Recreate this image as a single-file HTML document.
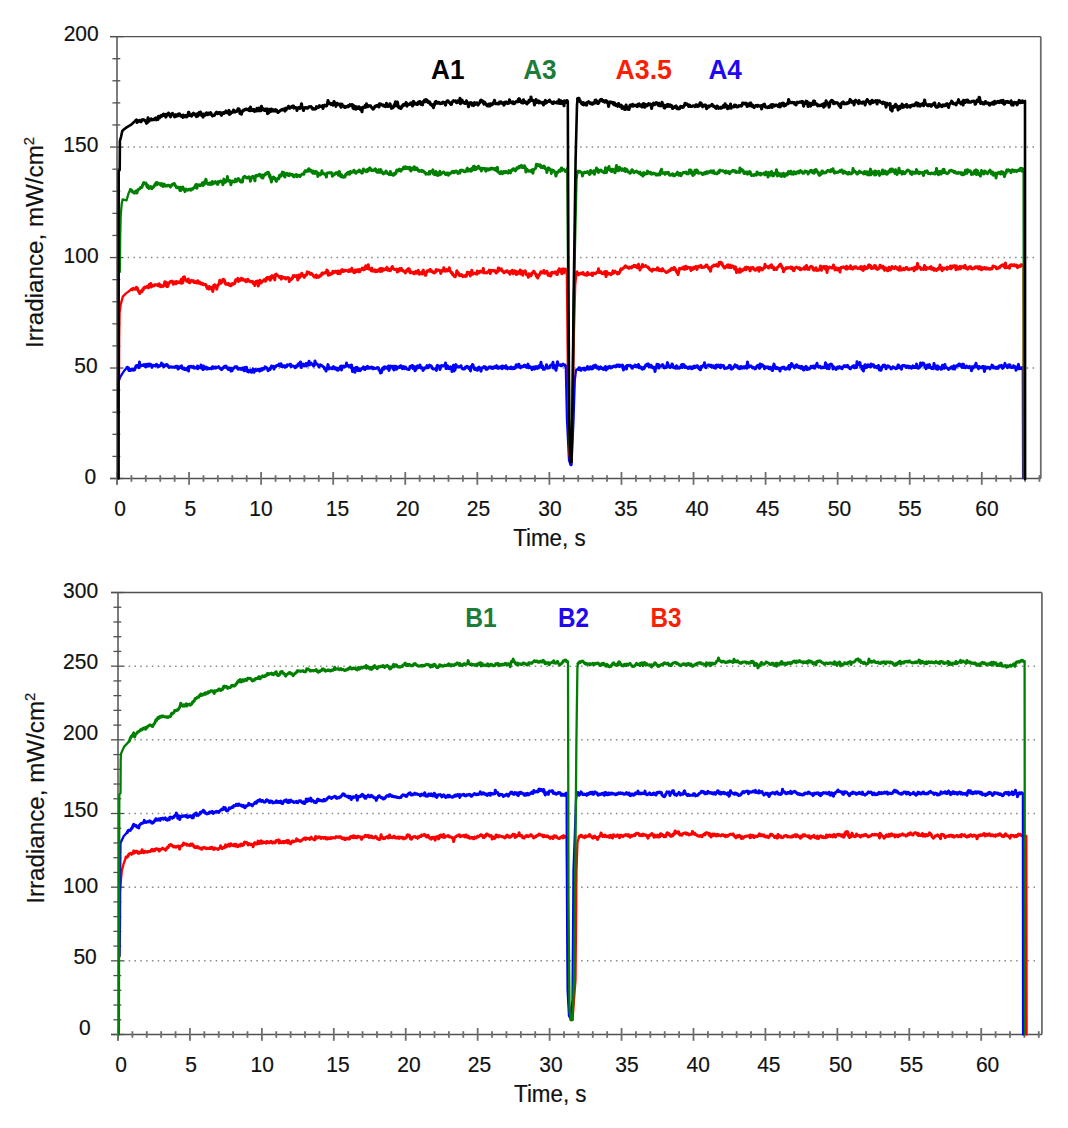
<!DOCTYPE html>
<html><head><meta charset="utf-8"><style>
html,body{margin:0;padding:0;background:#fff;}
svg{display:block;}
text{font-family:"Liberation Sans",sans-serif;}
</style></head><body>
<svg width="1068" height="1128" viewBox="0 0 1068 1128">
<rect width="1068" height="1128" fill="#fff"/>
<line x1="127.7" y1="147.08" x2="1037.0" y2="147.08" stroke="#888" stroke-width="1.5" stroke-dasharray="1.5 4.3"/>
<line x1="127.7" y1="257.55" x2="1037.0" y2="257.55" stroke="#888" stroke-width="1.5" stroke-dasharray="1.5 4.3"/>
<line x1="127.7" y1="368.02" x2="1037.0" y2="368.02" stroke="#888" stroke-width="1.5" stroke-dasharray="1.5 4.3"/>
<line x1="110.00" y1="36.70" x2="1040.80" y2="36.70" stroke="#505050" stroke-width="1.3"/>
<line x1="1040.80" y1="36.70" x2="1040.80" y2="478.50" stroke="#6e6e6e" stroke-width="1.8"/>
<line x1="117.00" y1="36.70" x2="117.00" y2="484.50" stroke="#6e6e6e" stroke-width="1.8"/>
<line x1="110.00" y1="478.50" x2="1040.80" y2="478.50" stroke="#505050" stroke-width="1.3"/>
<line x1="110.00" y1="478.50" x2="123.50" y2="478.50" stroke="#505050" stroke-width="1.3"/>
<line x1="112.40" y1="456.40" x2="120.30" y2="456.40" stroke="#505050" stroke-width="1.3"/>
<line x1="112.40" y1="434.31" x2="120.30" y2="434.31" stroke="#505050" stroke-width="1.3"/>
<line x1="112.40" y1="412.22" x2="120.30" y2="412.22" stroke="#505050" stroke-width="1.3"/>
<line x1="112.40" y1="390.12" x2="120.30" y2="390.12" stroke="#505050" stroke-width="1.3"/>
<line x1="110.00" y1="368.02" x2="123.50" y2="368.02" stroke="#505050" stroke-width="1.3"/>
<line x1="112.40" y1="345.93" x2="120.30" y2="345.93" stroke="#505050" stroke-width="1.3"/>
<line x1="112.40" y1="323.84" x2="120.30" y2="323.84" stroke="#505050" stroke-width="1.3"/>
<line x1="112.40" y1="301.74" x2="120.30" y2="301.74" stroke="#505050" stroke-width="1.3"/>
<line x1="112.40" y1="279.64" x2="120.30" y2="279.64" stroke="#505050" stroke-width="1.3"/>
<line x1="110.00" y1="257.55" x2="123.50" y2="257.55" stroke="#505050" stroke-width="1.3"/>
<line x1="112.40" y1="235.46" x2="120.30" y2="235.46" stroke="#505050" stroke-width="1.3"/>
<line x1="112.40" y1="213.36" x2="120.30" y2="213.36" stroke="#505050" stroke-width="1.3"/>
<line x1="112.40" y1="191.27" x2="120.30" y2="191.27" stroke="#505050" stroke-width="1.3"/>
<line x1="112.40" y1="169.17" x2="120.30" y2="169.17" stroke="#505050" stroke-width="1.3"/>
<line x1="110.00" y1="147.08" x2="123.50" y2="147.08" stroke="#505050" stroke-width="1.3"/>
<line x1="112.40" y1="124.98" x2="120.30" y2="124.98" stroke="#505050" stroke-width="1.3"/>
<line x1="112.40" y1="102.89" x2="120.30" y2="102.89" stroke="#505050" stroke-width="1.3"/>
<line x1="112.40" y1="80.79" x2="120.30" y2="80.79" stroke="#505050" stroke-width="1.3"/>
<line x1="112.40" y1="58.70" x2="120.30" y2="58.70" stroke="#505050" stroke-width="1.3"/>
<line x1="110.00" y1="36.60" x2="123.50" y2="36.60" stroke="#505050" stroke-width="1.3"/>
<line x1="117.00" y1="472.00" x2="117.00" y2="484.80" stroke="#6e6e6e" stroke-width="1.8"/>
<line x1="131.41" y1="475.20" x2="131.41" y2="481.80" stroke="#6e6e6e" stroke-width="1.8"/>
<line x1="145.83" y1="475.20" x2="145.83" y2="481.80" stroke="#6e6e6e" stroke-width="1.8"/>
<line x1="160.24" y1="475.20" x2="160.24" y2="481.80" stroke="#6e6e6e" stroke-width="1.8"/>
<line x1="174.65" y1="475.20" x2="174.65" y2="481.80" stroke="#6e6e6e" stroke-width="1.8"/>
<line x1="189.06" y1="472.00" x2="189.06" y2="484.80" stroke="#6e6e6e" stroke-width="1.8"/>
<line x1="203.48" y1="475.20" x2="203.48" y2="481.80" stroke="#6e6e6e" stroke-width="1.8"/>
<line x1="217.89" y1="475.20" x2="217.89" y2="481.80" stroke="#6e6e6e" stroke-width="1.8"/>
<line x1="232.30" y1="475.20" x2="232.30" y2="481.80" stroke="#6e6e6e" stroke-width="1.8"/>
<line x1="246.72" y1="475.20" x2="246.72" y2="481.80" stroke="#6e6e6e" stroke-width="1.8"/>
<line x1="261.13" y1="472.00" x2="261.13" y2="484.80" stroke="#6e6e6e" stroke-width="1.8"/>
<line x1="275.54" y1="475.20" x2="275.54" y2="481.80" stroke="#6e6e6e" stroke-width="1.8"/>
<line x1="289.96" y1="475.20" x2="289.96" y2="481.80" stroke="#6e6e6e" stroke-width="1.8"/>
<line x1="304.37" y1="475.20" x2="304.37" y2="481.80" stroke="#6e6e6e" stroke-width="1.8"/>
<line x1="318.78" y1="475.20" x2="318.78" y2="481.80" stroke="#6e6e6e" stroke-width="1.8"/>
<line x1="333.19" y1="472.00" x2="333.19" y2="484.80" stroke="#6e6e6e" stroke-width="1.8"/>
<line x1="347.61" y1="475.20" x2="347.61" y2="481.80" stroke="#6e6e6e" stroke-width="1.8"/>
<line x1="362.02" y1="475.20" x2="362.02" y2="481.80" stroke="#6e6e6e" stroke-width="1.8"/>
<line x1="376.43" y1="475.20" x2="376.43" y2="481.80" stroke="#6e6e6e" stroke-width="1.8"/>
<line x1="390.85" y1="475.20" x2="390.85" y2="481.80" stroke="#6e6e6e" stroke-width="1.8"/>
<line x1="405.26" y1="472.00" x2="405.26" y2="484.80" stroke="#6e6e6e" stroke-width="1.8"/>
<line x1="419.67" y1="475.20" x2="419.67" y2="481.80" stroke="#6e6e6e" stroke-width="1.8"/>
<line x1="434.09" y1="475.20" x2="434.09" y2="481.80" stroke="#6e6e6e" stroke-width="1.8"/>
<line x1="448.50" y1="475.20" x2="448.50" y2="481.80" stroke="#6e6e6e" stroke-width="1.8"/>
<line x1="462.91" y1="475.20" x2="462.91" y2="481.80" stroke="#6e6e6e" stroke-width="1.8"/>
<line x1="477.32" y1="472.00" x2="477.32" y2="484.80" stroke="#6e6e6e" stroke-width="1.8"/>
<line x1="491.74" y1="475.20" x2="491.74" y2="481.80" stroke="#6e6e6e" stroke-width="1.8"/>
<line x1="506.15" y1="475.20" x2="506.15" y2="481.80" stroke="#6e6e6e" stroke-width="1.8"/>
<line x1="520.56" y1="475.20" x2="520.56" y2="481.80" stroke="#6e6e6e" stroke-width="1.8"/>
<line x1="534.98" y1="475.20" x2="534.98" y2="481.80" stroke="#6e6e6e" stroke-width="1.8"/>
<line x1="549.39" y1="472.00" x2="549.39" y2="484.80" stroke="#6e6e6e" stroke-width="1.8"/>
<line x1="563.80" y1="475.20" x2="563.80" y2="481.80" stroke="#6e6e6e" stroke-width="1.8"/>
<line x1="578.22" y1="475.20" x2="578.22" y2="481.80" stroke="#6e6e6e" stroke-width="1.8"/>
<line x1="592.63" y1="475.20" x2="592.63" y2="481.80" stroke="#6e6e6e" stroke-width="1.8"/>
<line x1="607.04" y1="475.20" x2="607.04" y2="481.80" stroke="#6e6e6e" stroke-width="1.8"/>
<line x1="621.45" y1="472.00" x2="621.45" y2="484.80" stroke="#6e6e6e" stroke-width="1.8"/>
<line x1="635.87" y1="475.20" x2="635.87" y2="481.80" stroke="#6e6e6e" stroke-width="1.8"/>
<line x1="650.28" y1="475.20" x2="650.28" y2="481.80" stroke="#6e6e6e" stroke-width="1.8"/>
<line x1="664.69" y1="475.20" x2="664.69" y2="481.80" stroke="#6e6e6e" stroke-width="1.8"/>
<line x1="679.11" y1="475.20" x2="679.11" y2="481.80" stroke="#6e6e6e" stroke-width="1.8"/>
<line x1="693.52" y1="472.00" x2="693.52" y2="484.80" stroke="#6e6e6e" stroke-width="1.8"/>
<line x1="707.93" y1="475.20" x2="707.93" y2="481.80" stroke="#6e6e6e" stroke-width="1.8"/>
<line x1="722.35" y1="475.20" x2="722.35" y2="481.80" stroke="#6e6e6e" stroke-width="1.8"/>
<line x1="736.76" y1="475.20" x2="736.76" y2="481.80" stroke="#6e6e6e" stroke-width="1.8"/>
<line x1="751.17" y1="475.20" x2="751.17" y2="481.80" stroke="#6e6e6e" stroke-width="1.8"/>
<line x1="765.59" y1="472.00" x2="765.59" y2="484.80" stroke="#6e6e6e" stroke-width="1.8"/>
<line x1="780.00" y1="475.20" x2="780.00" y2="481.80" stroke="#6e6e6e" stroke-width="1.8"/>
<line x1="794.41" y1="475.20" x2="794.41" y2="481.80" stroke="#6e6e6e" stroke-width="1.8"/>
<line x1="808.82" y1="475.20" x2="808.82" y2="481.80" stroke="#6e6e6e" stroke-width="1.8"/>
<line x1="823.24" y1="475.20" x2="823.24" y2="481.80" stroke="#6e6e6e" stroke-width="1.8"/>
<line x1="837.65" y1="472.00" x2="837.65" y2="484.80" stroke="#6e6e6e" stroke-width="1.8"/>
<line x1="852.06" y1="475.20" x2="852.06" y2="481.80" stroke="#6e6e6e" stroke-width="1.8"/>
<line x1="866.48" y1="475.20" x2="866.48" y2="481.80" stroke="#6e6e6e" stroke-width="1.8"/>
<line x1="880.89" y1="475.20" x2="880.89" y2="481.80" stroke="#6e6e6e" stroke-width="1.8"/>
<line x1="895.30" y1="475.20" x2="895.30" y2="481.80" stroke="#6e6e6e" stroke-width="1.8"/>
<line x1="909.72" y1="472.00" x2="909.72" y2="484.80" stroke="#6e6e6e" stroke-width="1.8"/>
<line x1="924.13" y1="475.20" x2="924.13" y2="481.80" stroke="#6e6e6e" stroke-width="1.8"/>
<line x1="938.54" y1="475.20" x2="938.54" y2="481.80" stroke="#6e6e6e" stroke-width="1.8"/>
<line x1="952.95" y1="475.20" x2="952.95" y2="481.80" stroke="#6e6e6e" stroke-width="1.8"/>
<line x1="967.37" y1="475.20" x2="967.37" y2="481.80" stroke="#6e6e6e" stroke-width="1.8"/>
<line x1="981.78" y1="472.00" x2="981.78" y2="484.80" stroke="#6e6e6e" stroke-width="1.8"/>
<line x1="996.19" y1="475.20" x2="996.19" y2="481.80" stroke="#6e6e6e" stroke-width="1.8"/>
<line x1="1010.61" y1="475.20" x2="1010.61" y2="481.80" stroke="#6e6e6e" stroke-width="1.8"/>
<line x1="1025.02" y1="475.20" x2="1025.02" y2="481.80" stroke="#6e6e6e" stroke-width="1.8"/>
<line x1="1039.43" y1="475.20" x2="1039.43" y2="481.80" stroke="#6e6e6e" stroke-width="1.8"/>
<line x1="128.7" y1="666.17" x2="1037.0" y2="666.17" stroke="#888" stroke-width="1.5" stroke-dasharray="1.5 4.3"/>
<line x1="128.7" y1="739.84" x2="1037.0" y2="739.84" stroke="#888" stroke-width="1.5" stroke-dasharray="1.5 4.3"/>
<line x1="128.7" y1="813.50" x2="1037.0" y2="813.50" stroke="#888" stroke-width="1.5" stroke-dasharray="1.5 4.3"/>
<line x1="128.7" y1="887.17" x2="1037.0" y2="887.17" stroke="#888" stroke-width="1.5" stroke-dasharray="1.5 4.3"/>
<line x1="128.7" y1="960.84" x2="1037.0" y2="960.84" stroke="#888" stroke-width="1.5" stroke-dasharray="1.5 4.3"/>
<line x1="111.00" y1="592.50" x2="1041.90" y2="592.50" stroke="#505050" stroke-width="1.3"/>
<line x1="1041.90" y1="592.50" x2="1041.90" y2="1034.50" stroke="#6e6e6e" stroke-width="1.8"/>
<line x1="118.00" y1="592.50" x2="118.00" y2="1040.50" stroke="#6e6e6e" stroke-width="1.8"/>
<line x1="111.00" y1="1034.50" x2="1041.90" y2="1034.50" stroke="#505050" stroke-width="1.3"/>
<line x1="111.00" y1="1034.50" x2="124.50" y2="1034.50" stroke="#505050" stroke-width="1.3"/>
<line x1="113.40" y1="1019.77" x2="121.30" y2="1019.77" stroke="#505050" stroke-width="1.3"/>
<line x1="113.40" y1="1005.03" x2="121.30" y2="1005.03" stroke="#505050" stroke-width="1.3"/>
<line x1="113.40" y1="990.30" x2="121.30" y2="990.30" stroke="#505050" stroke-width="1.3"/>
<line x1="113.40" y1="975.57" x2="121.30" y2="975.57" stroke="#505050" stroke-width="1.3"/>
<line x1="111.00" y1="960.84" x2="124.50" y2="960.84" stroke="#505050" stroke-width="1.3"/>
<line x1="113.40" y1="946.10" x2="121.30" y2="946.10" stroke="#505050" stroke-width="1.3"/>
<line x1="113.40" y1="931.37" x2="121.30" y2="931.37" stroke="#505050" stroke-width="1.3"/>
<line x1="113.40" y1="916.64" x2="121.30" y2="916.64" stroke="#505050" stroke-width="1.3"/>
<line x1="113.40" y1="901.90" x2="121.30" y2="901.90" stroke="#505050" stroke-width="1.3"/>
<line x1="111.00" y1="887.17" x2="124.50" y2="887.17" stroke="#505050" stroke-width="1.3"/>
<line x1="113.40" y1="872.44" x2="121.30" y2="872.44" stroke="#505050" stroke-width="1.3"/>
<line x1="113.40" y1="857.70" x2="121.30" y2="857.70" stroke="#505050" stroke-width="1.3"/>
<line x1="113.40" y1="842.97" x2="121.30" y2="842.97" stroke="#505050" stroke-width="1.3"/>
<line x1="113.40" y1="828.24" x2="121.30" y2="828.24" stroke="#505050" stroke-width="1.3"/>
<line x1="111.00" y1="813.50" x2="124.50" y2="813.50" stroke="#505050" stroke-width="1.3"/>
<line x1="113.40" y1="798.77" x2="121.30" y2="798.77" stroke="#505050" stroke-width="1.3"/>
<line x1="113.40" y1="784.04" x2="121.30" y2="784.04" stroke="#505050" stroke-width="1.3"/>
<line x1="113.40" y1="769.31" x2="121.30" y2="769.31" stroke="#505050" stroke-width="1.3"/>
<line x1="113.40" y1="754.57" x2="121.30" y2="754.57" stroke="#505050" stroke-width="1.3"/>
<line x1="111.00" y1="739.84" x2="124.50" y2="739.84" stroke="#505050" stroke-width="1.3"/>
<line x1="113.40" y1="725.11" x2="121.30" y2="725.11" stroke="#505050" stroke-width="1.3"/>
<line x1="113.40" y1="710.37" x2="121.30" y2="710.37" stroke="#505050" stroke-width="1.3"/>
<line x1="113.40" y1="695.64" x2="121.30" y2="695.64" stroke="#505050" stroke-width="1.3"/>
<line x1="113.40" y1="680.91" x2="121.30" y2="680.91" stroke="#505050" stroke-width="1.3"/>
<line x1="111.00" y1="666.17" x2="124.50" y2="666.17" stroke="#505050" stroke-width="1.3"/>
<line x1="113.40" y1="651.44" x2="121.30" y2="651.44" stroke="#505050" stroke-width="1.3"/>
<line x1="113.40" y1="636.71" x2="121.30" y2="636.71" stroke="#505050" stroke-width="1.3"/>
<line x1="113.40" y1="621.98" x2="121.30" y2="621.98" stroke="#505050" stroke-width="1.3"/>
<line x1="113.40" y1="607.24" x2="121.30" y2="607.24" stroke="#505050" stroke-width="1.3"/>
<line x1="111.00" y1="592.51" x2="124.50" y2="592.51" stroke="#505050" stroke-width="1.3"/>
<line x1="118.00" y1="1028.00" x2="118.00" y2="1040.80" stroke="#6e6e6e" stroke-width="1.8"/>
<line x1="132.39" y1="1031.20" x2="132.39" y2="1037.80" stroke="#6e6e6e" stroke-width="1.8"/>
<line x1="146.77" y1="1031.20" x2="146.77" y2="1037.80" stroke="#6e6e6e" stroke-width="1.8"/>
<line x1="161.16" y1="1031.20" x2="161.16" y2="1037.80" stroke="#6e6e6e" stroke-width="1.8"/>
<line x1="175.55" y1="1031.20" x2="175.55" y2="1037.80" stroke="#6e6e6e" stroke-width="1.8"/>
<line x1="189.94" y1="1028.00" x2="189.94" y2="1040.80" stroke="#6e6e6e" stroke-width="1.8"/>
<line x1="204.32" y1="1031.20" x2="204.32" y2="1037.80" stroke="#6e6e6e" stroke-width="1.8"/>
<line x1="218.71" y1="1031.20" x2="218.71" y2="1037.80" stroke="#6e6e6e" stroke-width="1.8"/>
<line x1="233.10" y1="1031.20" x2="233.10" y2="1037.80" stroke="#6e6e6e" stroke-width="1.8"/>
<line x1="247.48" y1="1031.20" x2="247.48" y2="1037.80" stroke="#6e6e6e" stroke-width="1.8"/>
<line x1="261.87" y1="1028.00" x2="261.87" y2="1040.80" stroke="#6e6e6e" stroke-width="1.8"/>
<line x1="276.26" y1="1031.20" x2="276.26" y2="1037.80" stroke="#6e6e6e" stroke-width="1.8"/>
<line x1="290.64" y1="1031.20" x2="290.64" y2="1037.80" stroke="#6e6e6e" stroke-width="1.8"/>
<line x1="305.03" y1="1031.20" x2="305.03" y2="1037.80" stroke="#6e6e6e" stroke-width="1.8"/>
<line x1="319.42" y1="1031.20" x2="319.42" y2="1037.80" stroke="#6e6e6e" stroke-width="1.8"/>
<line x1="333.81" y1="1028.00" x2="333.81" y2="1040.80" stroke="#6e6e6e" stroke-width="1.8"/>
<line x1="348.19" y1="1031.20" x2="348.19" y2="1037.80" stroke="#6e6e6e" stroke-width="1.8"/>
<line x1="362.58" y1="1031.20" x2="362.58" y2="1037.80" stroke="#6e6e6e" stroke-width="1.8"/>
<line x1="376.97" y1="1031.20" x2="376.97" y2="1037.80" stroke="#6e6e6e" stroke-width="1.8"/>
<line x1="391.35" y1="1031.20" x2="391.35" y2="1037.80" stroke="#6e6e6e" stroke-width="1.8"/>
<line x1="405.74" y1="1028.00" x2="405.74" y2="1040.80" stroke="#6e6e6e" stroke-width="1.8"/>
<line x1="420.13" y1="1031.20" x2="420.13" y2="1037.80" stroke="#6e6e6e" stroke-width="1.8"/>
<line x1="434.51" y1="1031.20" x2="434.51" y2="1037.80" stroke="#6e6e6e" stroke-width="1.8"/>
<line x1="448.90" y1="1031.20" x2="448.90" y2="1037.80" stroke="#6e6e6e" stroke-width="1.8"/>
<line x1="463.29" y1="1031.20" x2="463.29" y2="1037.80" stroke="#6e6e6e" stroke-width="1.8"/>
<line x1="477.68" y1="1028.00" x2="477.68" y2="1040.80" stroke="#6e6e6e" stroke-width="1.8"/>
<line x1="492.06" y1="1031.20" x2="492.06" y2="1037.80" stroke="#6e6e6e" stroke-width="1.8"/>
<line x1="506.45" y1="1031.20" x2="506.45" y2="1037.80" stroke="#6e6e6e" stroke-width="1.8"/>
<line x1="520.84" y1="1031.20" x2="520.84" y2="1037.80" stroke="#6e6e6e" stroke-width="1.8"/>
<line x1="535.22" y1="1031.20" x2="535.22" y2="1037.80" stroke="#6e6e6e" stroke-width="1.8"/>
<line x1="549.61" y1="1028.00" x2="549.61" y2="1040.80" stroke="#6e6e6e" stroke-width="1.8"/>
<line x1="564.00" y1="1031.20" x2="564.00" y2="1037.80" stroke="#6e6e6e" stroke-width="1.8"/>
<line x1="578.38" y1="1031.20" x2="578.38" y2="1037.80" stroke="#6e6e6e" stroke-width="1.8"/>
<line x1="592.77" y1="1031.20" x2="592.77" y2="1037.80" stroke="#6e6e6e" stroke-width="1.8"/>
<line x1="607.16" y1="1031.20" x2="607.16" y2="1037.80" stroke="#6e6e6e" stroke-width="1.8"/>
<line x1="621.55" y1="1028.00" x2="621.55" y2="1040.80" stroke="#6e6e6e" stroke-width="1.8"/>
<line x1="635.93" y1="1031.20" x2="635.93" y2="1037.80" stroke="#6e6e6e" stroke-width="1.8"/>
<line x1="650.32" y1="1031.20" x2="650.32" y2="1037.80" stroke="#6e6e6e" stroke-width="1.8"/>
<line x1="664.71" y1="1031.20" x2="664.71" y2="1037.80" stroke="#6e6e6e" stroke-width="1.8"/>
<line x1="679.09" y1="1031.20" x2="679.09" y2="1037.80" stroke="#6e6e6e" stroke-width="1.8"/>
<line x1="693.48" y1="1028.00" x2="693.48" y2="1040.80" stroke="#6e6e6e" stroke-width="1.8"/>
<line x1="707.87" y1="1031.20" x2="707.87" y2="1037.80" stroke="#6e6e6e" stroke-width="1.8"/>
<line x1="722.25" y1="1031.20" x2="722.25" y2="1037.80" stroke="#6e6e6e" stroke-width="1.8"/>
<line x1="736.64" y1="1031.20" x2="736.64" y2="1037.80" stroke="#6e6e6e" stroke-width="1.8"/>
<line x1="751.03" y1="1031.20" x2="751.03" y2="1037.80" stroke="#6e6e6e" stroke-width="1.8"/>
<line x1="765.41" y1="1028.00" x2="765.41" y2="1040.80" stroke="#6e6e6e" stroke-width="1.8"/>
<line x1="779.80" y1="1031.20" x2="779.80" y2="1037.80" stroke="#6e6e6e" stroke-width="1.8"/>
<line x1="794.19" y1="1031.20" x2="794.19" y2="1037.80" stroke="#6e6e6e" stroke-width="1.8"/>
<line x1="808.58" y1="1031.20" x2="808.58" y2="1037.80" stroke="#6e6e6e" stroke-width="1.8"/>
<line x1="822.96" y1="1031.20" x2="822.96" y2="1037.80" stroke="#6e6e6e" stroke-width="1.8"/>
<line x1="837.35" y1="1028.00" x2="837.35" y2="1040.80" stroke="#6e6e6e" stroke-width="1.8"/>
<line x1="851.74" y1="1031.20" x2="851.74" y2="1037.80" stroke="#6e6e6e" stroke-width="1.8"/>
<line x1="866.12" y1="1031.20" x2="866.12" y2="1037.80" stroke="#6e6e6e" stroke-width="1.8"/>
<line x1="880.51" y1="1031.20" x2="880.51" y2="1037.80" stroke="#6e6e6e" stroke-width="1.8"/>
<line x1="894.90" y1="1031.20" x2="894.90" y2="1037.80" stroke="#6e6e6e" stroke-width="1.8"/>
<line x1="909.29" y1="1028.00" x2="909.29" y2="1040.80" stroke="#6e6e6e" stroke-width="1.8"/>
<line x1="923.67" y1="1031.20" x2="923.67" y2="1037.80" stroke="#6e6e6e" stroke-width="1.8"/>
<line x1="938.06" y1="1031.20" x2="938.06" y2="1037.80" stroke="#6e6e6e" stroke-width="1.8"/>
<line x1="952.45" y1="1031.20" x2="952.45" y2="1037.80" stroke="#6e6e6e" stroke-width="1.8"/>
<line x1="966.83" y1="1031.20" x2="966.83" y2="1037.80" stroke="#6e6e6e" stroke-width="1.8"/>
<line x1="981.22" y1="1028.00" x2="981.22" y2="1040.80" stroke="#6e6e6e" stroke-width="1.8"/>
<line x1="995.61" y1="1031.20" x2="995.61" y2="1037.80" stroke="#6e6e6e" stroke-width="1.8"/>
<line x1="1009.99" y1="1031.20" x2="1009.99" y2="1037.80" stroke="#6e6e6e" stroke-width="1.8"/>
<line x1="1024.38" y1="1031.20" x2="1024.38" y2="1037.80" stroke="#6e6e6e" stroke-width="1.8"/>
<line x1="1038.77" y1="1031.20" x2="1038.77" y2="1037.80" stroke="#6e6e6e" stroke-width="1.8"/>
<text x="98.7" y="41.4" font-size="21.8" text-anchor="end" font-weight="normal" fill="#111" stroke="#111" stroke-width="0.2" textLength="35.03" lengthAdjust="spacingAndGlyphs">200</text>
<text x="98.4" y="151.9" font-size="21.8" text-anchor="end" font-weight="normal" fill="#111" stroke="#111" stroke-width="0.2" textLength="35.03" lengthAdjust="spacingAndGlyphs">150</text>
<text x="98.6" y="262.9" font-size="21.8" text-anchor="end" font-weight="normal" fill="#111" stroke="#111" stroke-width="0.2" textLength="35.03" lengthAdjust="spacingAndGlyphs">100</text>
<text x="97.7" y="373.4" font-size="21.8" text-anchor="end" font-weight="normal" fill="#111" stroke="#111" stroke-width="0.2" textLength="23.35" lengthAdjust="spacingAndGlyphs">50</text>
<text x="96.3" y="483.9" font-size="21.8" text-anchor="end" font-weight="normal" fill="#111" stroke="#111" stroke-width="0.2" textLength="11.68" lengthAdjust="spacingAndGlyphs">0</text>
<text x="98.1" y="598.1" font-size="21.8" text-anchor="end" font-weight="normal" fill="#111" stroke="#111" stroke-width="0.2" textLength="35.03" lengthAdjust="spacingAndGlyphs">300</text>
<text x="98.1" y="669.1" font-size="21.8" text-anchor="end" font-weight="normal" fill="#111" stroke="#111" stroke-width="0.2" textLength="35.03" lengthAdjust="spacingAndGlyphs">250</text>
<text x="98.1" y="739.8" font-size="21.8" text-anchor="end" font-weight="normal" fill="#111" stroke="#111" stroke-width="0.2" textLength="35.03" lengthAdjust="spacingAndGlyphs">200</text>
<text x="98.1" y="816.5" font-size="21.8" text-anchor="end" font-weight="normal" fill="#111" stroke="#111" stroke-width="0.2" textLength="35.03" lengthAdjust="spacingAndGlyphs">150</text>
<text x="98.1" y="893.3" font-size="21.8" text-anchor="end" font-weight="normal" fill="#111" stroke="#111" stroke-width="0.2" textLength="35.03" lengthAdjust="spacingAndGlyphs">100</text>
<text x="96.8" y="964.3" font-size="21.8" text-anchor="end" font-weight="normal" fill="#111" stroke="#111" stroke-width="0.2" textLength="23.35" lengthAdjust="spacingAndGlyphs">50</text>
<text x="90.6" y="1034.8" font-size="21.8" text-anchor="end" font-weight="normal" fill="#111" stroke="#111" stroke-width="0.2" textLength="11.68" lengthAdjust="spacingAndGlyphs">0</text>
<text x="120.1" y="516.4" font-size="21.8" text-anchor="middle" font-weight="normal" fill="#111" stroke="#111" stroke-width="0.2" textLength="11.68" lengthAdjust="spacingAndGlyphs">0</text>
<text x="190.3" y="516.4" font-size="21.8" text-anchor="middle" font-weight="normal" fill="#111" stroke="#111" stroke-width="0.2" textLength="11.68" lengthAdjust="spacingAndGlyphs">5</text>
<text x="261.0" y="516.4" font-size="21.8" text-anchor="middle" font-weight="normal" fill="#111" stroke="#111" stroke-width="0.2" textLength="23.35" lengthAdjust="spacingAndGlyphs">10</text>
<text x="337.4" y="516.4" font-size="21.8" text-anchor="middle" font-weight="normal" fill="#111" stroke="#111" stroke-width="0.2" textLength="23.35" lengthAdjust="spacingAndGlyphs">15</text>
<text x="407.7" y="516.4" font-size="21.8" text-anchor="middle" font-weight="normal" fill="#111" stroke="#111" stroke-width="0.2" textLength="23.35" lengthAdjust="spacingAndGlyphs">20</text>
<text x="478.4" y="516.4" font-size="21.8" text-anchor="middle" font-weight="normal" fill="#111" stroke="#111" stroke-width="0.2" textLength="23.35" lengthAdjust="spacingAndGlyphs">25</text>
<text x="550.0" y="516.4" font-size="21.8" text-anchor="middle" font-weight="normal" fill="#111" stroke="#111" stroke-width="0.2" textLength="23.35" lengthAdjust="spacingAndGlyphs">30</text>
<text x="626.0" y="516.4" font-size="21.8" text-anchor="middle" font-weight="normal" fill="#111" stroke="#111" stroke-width="0.2" textLength="23.35" lengthAdjust="spacingAndGlyphs">35</text>
<text x="697.1" y="516.4" font-size="21.8" text-anchor="middle" font-weight="normal" fill="#111" stroke="#111" stroke-width="0.2" textLength="23.35" lengthAdjust="spacingAndGlyphs">40</text>
<text x="767.7" y="516.4" font-size="21.8" text-anchor="middle" font-weight="normal" fill="#111" stroke="#111" stroke-width="0.2" textLength="23.35" lengthAdjust="spacingAndGlyphs">45</text>
<text x="839.4" y="516.4" font-size="21.8" text-anchor="middle" font-weight="normal" fill="#111" stroke="#111" stroke-width="0.2" textLength="23.35" lengthAdjust="spacingAndGlyphs">50</text>
<text x="909.9" y="516.4" font-size="21.8" text-anchor="middle" font-weight="normal" fill="#111" stroke="#111" stroke-width="0.2" textLength="23.35" lengthAdjust="spacingAndGlyphs">55</text>
<text x="987.0" y="516.4" font-size="21.8" text-anchor="middle" font-weight="normal" fill="#111" stroke="#111" stroke-width="0.2" textLength="23.35" lengthAdjust="spacingAndGlyphs">60</text>
<text x="121.0" y="1072.4" font-size="21.8" text-anchor="middle" font-weight="normal" fill="#111" stroke="#111" stroke-width="0.2" textLength="11.68" lengthAdjust="spacingAndGlyphs">0</text>
<text x="191.2" y="1072.4" font-size="21.8" text-anchor="middle" font-weight="normal" fill="#111" stroke="#111" stroke-width="0.2" textLength="11.68" lengthAdjust="spacingAndGlyphs">5</text>
<text x="262.2" y="1072.4" font-size="21.8" text-anchor="middle" font-weight="normal" fill="#111" stroke="#111" stroke-width="0.2" textLength="23.35" lengthAdjust="spacingAndGlyphs">10</text>
<text x="338.0" y="1072.4" font-size="21.8" text-anchor="middle" font-weight="normal" fill="#111" stroke="#111" stroke-width="0.2" textLength="23.35" lengthAdjust="spacingAndGlyphs">15</text>
<text x="409.0" y="1072.4" font-size="21.8" text-anchor="middle" font-weight="normal" fill="#111" stroke="#111" stroke-width="0.2" textLength="23.35" lengthAdjust="spacingAndGlyphs">20</text>
<text x="479.5" y="1072.4" font-size="21.8" text-anchor="middle" font-weight="normal" fill="#111" stroke="#111" stroke-width="0.2" textLength="23.35" lengthAdjust="spacingAndGlyphs">25</text>
<text x="551.0" y="1072.4" font-size="21.8" text-anchor="middle" font-weight="normal" fill="#111" stroke="#111" stroke-width="0.2" textLength="23.35" lengthAdjust="spacingAndGlyphs">30</text>
<text x="627.0" y="1072.4" font-size="21.8" text-anchor="middle" font-weight="normal" fill="#111" stroke="#111" stroke-width="0.2" textLength="23.35" lengthAdjust="spacingAndGlyphs">35</text>
<text x="698.2" y="1072.4" font-size="21.8" text-anchor="middle" font-weight="normal" fill="#111" stroke="#111" stroke-width="0.2" textLength="23.35" lengthAdjust="spacingAndGlyphs">40</text>
<text x="768.8" y="1072.4" font-size="21.8" text-anchor="middle" font-weight="normal" fill="#111" stroke="#111" stroke-width="0.2" textLength="23.35" lengthAdjust="spacingAndGlyphs">45</text>
<text x="840.6" y="1072.4" font-size="21.8" text-anchor="middle" font-weight="normal" fill="#111" stroke="#111" stroke-width="0.2" textLength="23.35" lengthAdjust="spacingAndGlyphs">50</text>
<text x="911.4" y="1072.4" font-size="21.8" text-anchor="middle" font-weight="normal" fill="#111" stroke="#111" stroke-width="0.2" textLength="23.35" lengthAdjust="spacingAndGlyphs">55</text>
<text x="987.6" y="1072.4" font-size="21.8" text-anchor="middle" font-weight="normal" fill="#111" stroke="#111" stroke-width="0.2" textLength="23.35" lengthAdjust="spacingAndGlyphs">60</text>
<text x="549.4" y="546.4" font-size="23" text-anchor="middle" font-weight="normal" fill="#111" stroke="#111" stroke-width="0.2" textLength="72.5" lengthAdjust="spacingAndGlyphs">Time, s</text>
<text x="550.3" y="1102.2" font-size="23" text-anchor="middle" font-weight="normal" fill="#111" stroke="#111" stroke-width="0.2" textLength="72.5" lengthAdjust="spacingAndGlyphs">Time, s</text>
<text x="0" y="0" font-size="23" text-anchor="middle" fill="#111" stroke="#111" stroke-width="0.2" transform="translate(43.3,242.5) rotate(-90)" textLength="211" lengthAdjust="spacingAndGlyphs">Irradiance, mW/cm<tspan font-size="14" dy="-9">2</tspan></text>
<text x="0" y="0" font-size="23" text-anchor="middle" fill="#111" stroke="#111" stroke-width="0.2" transform="translate(44.4,798.2) rotate(-90)" textLength="211" lengthAdjust="spacingAndGlyphs">Irradiance, mW/cm<tspan font-size="14" dy="-9">2</tspan></text>
<text x="431.0" y="78.5" font-size="28.3" text-anchor="start" font-weight="bold" fill="#000000" textLength="33.5" lengthAdjust="spacingAndGlyphs">A1</text>
<text x="523.2" y="78.5" font-size="28.3" text-anchor="start" font-weight="bold" fill="#1e7b3a" textLength="33.5" lengthAdjust="spacingAndGlyphs">A3</text>
<text x="615.5" y="78.5" font-size="28.3" text-anchor="start" font-weight="bold" fill="#fa1e05" textLength="56.5" lengthAdjust="spacingAndGlyphs">A3.5</text>
<text x="708.4" y="78.5" font-size="28.3" text-anchor="start" font-weight="bold" fill="#2008f0" textLength="33.5" lengthAdjust="spacingAndGlyphs">A4</text>
<text x="465.3" y="626.7" font-size="28.3" text-anchor="start" font-weight="bold" fill="#1e7b3a" textLength="31.5" lengthAdjust="spacingAndGlyphs">B1</text>
<text x="558.0" y="626.7" font-size="28.3" text-anchor="start" font-weight="bold" fill="#2008f0" textLength="31" lengthAdjust="spacingAndGlyphs">B2</text>
<text x="650.6" y="626.7" font-size="28.3" text-anchor="start" font-weight="bold" fill="#fa1e05" textLength="31" lengthAdjust="spacingAndGlyphs">B3</text>
<polyline fill="none" stroke="#0000ff" stroke-width="2.3" stroke-linejoin="round" stroke-linecap="round" points="118.2,413.5 118.4,381.7 120.6,376.4 124.0,371.0 127.0,367.4"/>
<polyline fill="none" stroke="#0000ff" stroke-width="3.0" stroke-linejoin="round" stroke-linecap="round" points="127.0,367.4 127.5,367.3 128.0,369.0 128.5,367.9 129.0,370.6 129.5,370.3 130.0,370.4 130.5,370.5 131.0,369.6 131.5,369.1 132.0,370.0 132.5,369.8 133.0,369.0 133.5,370.2 134.0,369.6 134.5,369.8 135.0,368.6 135.5,367.6 136.0,365.8 136.5,365.6 137.0,367.0 137.5,365.7 138.0,365.5 138.5,366.2 139.0,367.7 139.5,362.1 140.0,365.8 140.5,365.7 141.0,365.9 141.5,365.8 142.0,365.3 142.5,365.4 143.0,365.5 143.5,364.9 144.0,364.6 144.5,366.0 145.0,366.1 145.5,366.7 146.0,364.5 146.5,364.3 147.0,366.4 147.5,364.8 148.0,364.4 148.5,364.1 149.0,366.0 149.5,364.1 150.0,364.4 150.5,364.5 151.0,364.7 151.5,364.9 152.0,367.3 152.5,365.7 153.0,365.9 153.5,365.6 154.0,365.2 154.5,365.5 155.0,365.5 155.5,366.1 156.0,364.9 156.5,364.4 157.0,365.4 157.5,366.1 158.0,365.4 158.5,366.8 159.0,366.0 159.5,365.8 160.0,365.9 160.5,365.0 161.0,365.1 161.5,363.1 162.0,364.3 162.5,364.0 163.0,366.0 163.5,366.4 164.0,366.7 164.5,365.9 165.0,365.1 165.5,365.5 166.0,365.5 166.5,364.6 167.0,364.6 167.5,365.1 168.0,366.2 168.5,366.8 169.0,367.5 169.5,366.8 170.0,366.8 170.5,367.0 171.0,366.8 171.5,367.1 172.0,367.3 172.5,367.1 173.0,367.2 173.5,367.0 174.0,367.3 174.5,367.0 175.0,367.1 175.5,367.3 176.0,366.3 176.5,366.3 177.0,366.5 177.5,366.3 178.0,369.0 178.5,368.6 179.0,368.3 179.5,367.6 180.0,366.8 180.5,367.4 181.0,366.2 181.5,365.8 182.0,367.7 182.5,368.7 183.0,368.6 183.5,368.3 184.0,368.1 184.5,369.5 185.0,369.5 185.5,368.8 186.0,369.7 186.5,369.7 187.0,368.4 187.5,368.3 188.0,367.3 188.5,371.1 189.0,366.4 189.5,366.8 190.0,367.1 190.5,366.5 191.0,366.2 191.5,367.0 192.0,367.3 192.5,367.0 193.0,367.2 193.5,366.4 194.0,368.2 194.5,367.8 195.0,367.5 195.5,367.8 196.0,367.5 196.5,367.8 197.0,368.5 197.5,366.0 198.0,368.7 198.5,367.5 199.0,367.1 199.5,367.5 200.0,367.6 200.5,367.6 201.0,365.0 201.5,368.2 202.0,368.2 202.5,368.9 203.0,369.5 203.5,366.0 204.0,368.1 204.5,368.8 205.0,368.0 205.5,367.9 206.0,367.0 206.5,367.3 207.0,369.1 207.5,368.3 208.0,368.1 208.5,368.8 209.0,368.7 209.5,368.6 210.0,368.4 210.5,368.4 211.0,368.2 211.5,368.9 212.0,368.4 212.5,366.8 213.0,368.1 213.5,368.3 214.0,367.3 214.5,367.2 215.0,367.4 215.5,367.0 216.0,368.1 216.5,367.2 217.0,367.5 217.5,367.2 218.0,367.2 218.5,366.6 219.0,367.5 219.5,367.6 220.0,368.4 220.5,368.3 221.0,368.9 221.5,369.7 222.0,368.8 222.5,368.7 223.0,367.8 223.5,367.7 224.0,366.7 224.5,367.4 225.0,366.3 225.5,367.0 226.0,366.1 226.5,367.5 227.0,368.1 227.5,367.7 228.0,369.0 228.5,369.6 229.0,369.6 229.5,368.0 230.0,368.1 230.5,369.1 231.0,371.1 231.5,368.2 232.0,370.7 232.5,369.2 233.0,368.8 233.5,368.7 234.0,367.7 234.5,367.7 235.0,366.9 235.5,367.1 236.0,366.7 236.5,366.6 237.0,367.0 237.5,368.6 238.0,368.4 238.5,369.3 239.0,368.9 239.5,368.7 240.0,368.4 240.5,369.1 241.0,368.8 241.5,369.4 242.0,368.2 242.5,368.4 243.0,367.8 243.5,368.9 244.0,370.8 244.5,370.8 245.0,367.6 245.5,370.3 246.0,369.3 246.5,367.3 247.0,370.9 247.5,371.5 248.0,371.4 248.5,371.9 249.0,370.4 249.5,370.8 250.0,370.2 250.5,370.2 251.0,371.9 251.5,372.3 252.0,372.1 252.5,370.4 253.0,368.9 253.5,369.7 254.0,372.3 254.5,370.5 255.0,369.9 255.5,369.6 256.0,370.6 256.5,370.6 257.0,370.1 257.5,369.7 258.0,369.4 258.5,369.3 259.0,369.3 259.5,371.1 260.0,370.8 260.5,368.9 261.0,368.9 261.5,369.2 262.0,370.2 262.5,368.5 263.0,369.4 263.5,369.2 264.0,369.0 264.5,368.0 265.0,366.8 265.5,367.2 266.0,367.3 266.5,367.7 267.0,368.5 267.5,368.9 268.0,370.7 268.5,370.3 269.0,370.0 269.5,368.9 270.0,369.4 270.5,368.6 271.0,367.4 271.5,366.0 272.0,366.3 272.5,366.6 273.0,366.9 273.5,366.4 274.0,369.1 274.5,367.0 275.0,367.3 275.5,367.0 276.0,366.0 276.5,365.5 277.0,365.5 277.5,365.6 278.0,365.6 278.5,365.2 279.0,364.1 279.5,364.9 280.0,365.8 280.5,366.2 281.0,363.8 281.5,366.5 282.0,366.5 282.5,366.9 283.0,365.7 283.5,366.4 284.0,366.2 284.5,365.9 285.0,367.2 285.5,366.9 286.0,366.7 286.5,366.8 287.0,364.9 287.5,364.8 288.0,365.1 288.5,365.0 289.0,365.2 289.5,365.0 290.0,364.3 290.5,364.2 291.0,366.6 291.5,365.5 292.0,365.6 292.5,366.0 293.0,366.0 293.5,366.3 294.0,366.3 294.5,366.5 295.0,367.8 295.5,367.3 296.0,366.9 296.5,365.7 297.0,365.9 297.5,366.2 298.0,364.4 298.5,363.9 299.0,363.4 299.5,364.8 300.0,365.1 300.5,362.0 301.0,367.4 301.5,364.5 302.0,364.5 302.5,364.6 303.0,364.0 303.5,365.8 304.0,365.9 304.5,365.6 305.0,365.8 305.5,365.0 306.0,363.5 306.5,366.0 307.0,364.9 307.5,365.2 308.0,363.2 308.5,363.0 309.0,361.3 309.5,365.0 310.0,364.5 310.5,363.2 311.0,363.0 311.5,364.1 312.0,364.2 312.5,364.3 313.0,364.7 313.5,366.0 314.0,365.7 314.5,364.0 315.0,360.9 315.5,363.7 316.0,363.0 316.5,364.1 317.0,364.2 317.5,364.5 318.0,364.9 318.5,365.8 319.0,366.9 319.5,365.8 320.0,365.0 320.5,364.7 321.0,365.2 321.5,365.4 322.0,365.8 322.5,366.2 323.0,366.6 323.5,366.8 324.0,367.4 324.5,368.8 325.0,368.3 325.5,368.3 326.0,371.1 326.5,368.5 327.0,368.9 327.5,366.9 328.0,364.6 328.5,367.1 329.0,369.0 329.5,368.5 330.0,368.1 330.5,367.9 331.0,368.2 331.5,368.4 332.0,367.8 332.5,368.8 333.0,367.2 333.5,366.6 334.0,368.2 334.5,368.2 335.0,368.8 335.5,367.7 336.0,368.6 336.5,369.2 337.0,370.0 337.5,368.3 338.0,370.3 338.5,369.6 339.0,369.2 339.5,368.1 340.0,368.6 340.5,366.2 341.0,366.1 341.5,369.9 342.0,367.6 342.5,366.2 343.0,366.3 343.5,366.1 344.0,366.4 344.5,367.1 345.0,366.5 345.5,366.2 346.0,366.2 346.5,363.0 347.0,365.5 347.5,365.3 348.0,365.6 348.5,366.3 349.0,365.8 349.5,366.4 350.0,365.6 350.5,366.9 351.0,367.6 351.5,364.9 352.0,367.7 352.5,371.5 353.0,368.3 353.5,368.8 354.0,368.5 354.5,369.2 355.0,372.2 355.5,367.9 356.0,367.4 356.5,367.6 357.0,367.4 357.5,370.1 358.0,370.4 358.5,368.7 359.0,368.7 359.5,370.5 360.0,370.7 360.5,370.2 361.0,369.3 361.5,368.8 362.0,368.5 362.5,368.1 363.0,367.3 363.5,366.9 364.0,369.1 364.5,369.0 365.0,369.5 365.5,367.5 366.0,368.6 366.5,367.4 367.0,366.9 367.5,366.4 368.0,368.3 368.5,368.2 369.0,368.2 369.5,367.4 370.0,367.8 370.5,367.8 371.0,368.0 371.5,367.1 372.0,368.0 372.5,368.4 373.0,368.8 373.5,367.6 374.0,368.2 374.5,368.3 375.0,368.4 375.5,368.6 376.0,368.3 376.5,368.1 377.0,367.8 377.5,367.5 378.0,368.2 378.5,367.9 379.0,370.2 379.5,370.4 380.0,370.8 380.5,373.0 381.0,370.5 381.5,372.6 382.0,369.4 382.5,368.3 383.0,367.8 383.5,369.4 384.0,368.9 384.5,366.9 385.0,367.3 385.5,367.1 386.0,367.9 386.5,367.5 387.0,367.2 387.5,368.3 388.0,367.2 388.5,366.0 389.0,370.4 389.5,368.5 390.0,366.4 390.5,366.1 391.0,366.9 391.5,366.6 392.0,366.7 392.5,366.4 393.0,368.7 393.5,367.0 394.0,370.0 394.5,366.3 395.0,367.0 395.5,366.8 396.0,366.3 396.5,369.2 397.0,368.7 397.5,367.2 398.0,367.1 398.5,367.2 399.0,366.9 399.5,367.4 400.0,366.5 400.5,365.7 401.0,365.7 401.5,367.5 402.0,368.1 402.5,368.7 403.0,366.8 403.5,366.6 404.0,367.8 404.5,368.6 405.0,367.9 405.5,367.1 406.0,368.1 406.5,368.6 407.0,369.1 407.5,368.9 408.0,369.3 408.5,369.1 409.0,369.5 409.5,368.6 410.0,366.5 410.5,367.4 411.0,367.2 411.5,365.9 412.0,365.6 412.5,365.5 413.0,368.6 413.5,368.4 414.0,366.6 414.5,366.9 415.0,370.7 415.5,369.9 416.0,369.5 416.5,366.6 417.0,366.3 417.5,365.9 418.0,367.8 418.5,367.0 419.0,367.4 419.5,366.5 420.0,365.0 420.5,367.0 421.0,368.0 421.5,367.7 422.0,367.6 422.5,368.0 423.0,370.5 423.5,368.2 424.0,369.3 424.5,368.4 425.0,367.8 425.5,367.9 426.0,367.5 426.5,367.1 427.0,365.6 427.5,367.8 428.0,367.8 428.5,367.0 429.0,365.9 429.5,365.2 430.0,365.6 430.5,365.7 431.0,365.9 431.5,366.3 432.0,367.9 432.5,368.5 433.0,369.0 433.5,368.8 434.0,368.9 434.5,369.1 435.0,368.8 435.5,368.9 436.0,368.3 436.5,370.4 437.0,365.9 437.5,365.4 438.0,366.1 438.5,366.9 439.0,367.2 439.5,366.2 440.0,369.4 440.5,366.7 441.0,366.5 441.5,365.5 442.0,365.6 442.5,366.0 443.0,365.7 443.5,365.9 444.0,365.7 444.5,365.7 445.0,365.2 445.5,363.0 446.0,368.5 446.5,368.5 447.0,368.1 447.5,365.7 448.0,368.0 448.5,368.5 449.0,368.4 449.5,368.7 450.0,368.0 450.5,366.9 451.0,368.0 451.5,367.4 452.0,371.5 452.5,368.9 453.0,367.0 453.5,365.2 454.0,370.9 454.5,367.7 455.0,369.9 455.5,366.9 456.0,364.6 456.5,367.1 457.0,366.4 457.5,367.1 458.0,367.0 458.5,367.0 459.0,366.5 459.5,366.8 460.0,366.5 460.5,366.8 461.0,365.7 461.5,367.4 462.0,368.5 462.5,368.6 463.0,369.0 463.5,368.5 464.0,368.8 464.5,369.0 465.0,368.5 465.5,367.0 466.0,366.7 466.5,367.2 467.0,366.4 467.5,367.1 468.0,366.8 468.5,367.8 469.0,368.7 469.5,368.4 470.0,367.5 470.5,370.9 471.0,366.4 471.5,367.4 472.0,367.2 472.5,364.5 473.0,365.0 473.5,367.3 474.0,367.8 474.5,369.4 475.0,368.0 475.5,368.4 476.0,369.6 476.5,369.1 477.0,368.9 477.5,370.3 478.0,368.8 478.5,367.3 479.0,367.1 479.5,368.7 480.0,369.3 480.5,369.7 481.0,371.2 481.5,368.0 482.0,368.3 482.5,367.9 483.0,367.6 483.5,367.3 484.0,366.5 484.5,367.1 485.0,367.7 485.5,366.9 486.0,369.3 486.5,368.8 487.0,369.3 487.5,368.2 488.0,368.4 488.5,368.3 489.0,367.0 489.5,367.2 490.0,367.3 490.5,366.9 491.0,367.3 491.5,368.2 492.0,367.3 492.5,368.2 493.0,368.5 493.5,367.0 494.0,367.2 494.5,366.9 495.0,367.7 495.5,366.5 496.0,366.2 496.5,365.7 497.0,366.6 497.5,368.2 498.0,367.8 498.5,367.0 499.0,368.1 499.5,367.9 500.0,367.2 500.5,367.0 501.0,366.6 501.5,368.4 502.0,368.6 502.5,365.9 503.0,367.7 503.5,367.7 504.0,366.5 504.5,366.5 505.0,366.4 505.5,368.2 506.0,365.8 506.5,367.6 507.0,368.3 507.5,368.8 508.0,367.8 508.5,367.7 509.0,367.7 509.5,367.7 510.0,368.6 510.5,368.6 511.0,367.0 511.5,367.3 512.0,368.1 512.5,368.8 513.0,368.6 513.5,367.6 514.0,368.0 514.5,368.5 515.0,368.1 515.5,367.8 516.0,365.1 516.5,364.7 517.0,365.0 517.5,365.0 518.0,365.7 518.5,366.9 519.0,364.2 519.5,367.1 520.0,367.3 520.5,367.8 521.0,367.1 521.5,366.3 522.0,366.4 522.5,366.6 523.0,366.6 523.5,366.3 524.0,365.3 524.5,365.3 525.0,365.3 525.5,366.7 526.0,366.7 526.5,367.3 527.0,366.5 527.5,365.9 528.0,364.1 528.5,367.8 529.0,367.6 529.5,367.0 530.0,366.6 530.5,367.4 531.0,368.0 531.5,367.6 532.0,369.6 532.5,367.2 533.0,367.2 533.5,367.1 534.0,367.1 534.5,369.0 535.0,368.7 535.5,366.7 536.0,366.9 536.5,366.8 537.0,368.3 537.5,368.4 538.0,367.7 538.5,367.9 539.0,365.7 539.5,365.7 540.0,365.7 540.5,365.5 541.0,362.2 541.5,367.4 542.0,367.6 542.5,365.9 543.0,367.1 543.5,369.3 544.0,368.2 544.5,369.1 545.0,368.8 545.5,368.3 546.0,367.8 546.5,364.7 547.0,367.5 547.5,367.8 548.0,368.1 548.5,367.2 549.0,367.6 549.5,367.7 550.0,366.4 550.5,365.5 551.0,365.3 551.5,364.8 552.0,364.7 552.5,364.7 553.0,362.3 553.5,368.1 554.0,365.5 554.5,365.4 555.0,366.5 555.5,367.3 556.0,370.2 556.5,366.1 557.0,364.8 557.5,361.8 558.0,364.3 558.5,365.1 559.0,365.2 559.5,365.0 560.0,365.1 560.5,364.8 561.0,365.7 561.5,365.8 562.0,365.4 562.5,364.6 563.0,364.1 563.5,364.7 564.0,364.9 564.5,365.0 565.0,364.9 565.5,366.3"/>
<polyline fill="none" stroke="#0000ff" stroke-width="2.3" stroke-linejoin="round" stroke-linecap="round" points="565.5,366.3 565.8,366.0 567.0,420.0 569.0,460.0 570.5,465.0 571.5,465.0 573.5,420.0 574.8,380.0 576.0,370.0 578.0,369.1"/>
<polyline fill="none" stroke="#0000ff" stroke-width="3.0" stroke-linejoin="round" stroke-linecap="round" points="578.0,369.1 578.5,369.4 579.0,367.7 579.5,368.4 580.0,368.1 580.5,370.2 581.0,370.3 581.5,369.1 582.0,368.7 582.5,368.8 583.0,368.2 583.5,368.5 584.0,368.2 584.5,370.1 585.0,370.0 585.5,369.6 586.0,368.2 586.5,368.4 587.0,369.1 587.5,366.4 588.0,368.6 588.5,368.5 589.0,369.2 589.5,368.9 590.0,368.3 590.5,366.8 591.0,367.0 591.5,369.0 592.0,368.5 592.5,368.8 593.0,368.5 593.5,365.8 594.0,366.2 594.5,366.0 595.0,367.2 595.5,365.1 596.0,365.8 596.5,367.0 597.0,368.0 597.5,368.2 598.0,367.0 598.5,367.9 599.0,369.2 599.5,368.2 600.0,367.5 600.5,366.9 601.0,367.6 601.5,368.5 602.0,368.6 602.5,368.2 603.0,369.1 603.5,369.4 604.0,368.8 604.5,367.9 605.0,367.4 605.5,366.6 606.0,370.1 606.5,367.5 607.0,367.6 607.5,368.7 608.0,367.1 608.5,366.8 609.0,367.3 609.5,366.4 610.0,366.9 610.5,368.0 611.0,367.0 611.5,366.9 612.0,367.6 612.5,366.7 613.0,366.5 613.5,366.2 614.0,366.6 614.5,365.9 615.0,365.9 615.5,366.1 616.0,366.6 616.5,366.6 617.0,365.1 617.5,366.3 618.0,366.2 618.5,365.0 619.0,365.2 619.5,366.5 620.0,366.5 620.5,365.4 621.0,365.8 621.5,365.6 622.0,365.9 622.5,365.0 623.0,366.8 623.5,369.9 624.0,367.2 624.5,367.9 625.0,367.7 625.5,367.6 626.0,366.2 626.5,369.1 627.0,365.6 627.5,366.0 628.0,365.3 628.5,365.5 629.0,365.6 629.5,365.7 630.0,365.3 630.5,365.4 631.0,366.3 631.5,367.3 632.0,368.1 632.5,368.2 633.0,366.4 633.5,366.6 634.0,366.5 634.5,366.3 635.0,365.0 635.5,365.1 636.0,365.5 636.5,366.9 637.0,365.8 637.5,366.7 638.0,366.9 638.5,364.5 639.0,367.7 639.5,367.5 640.0,366.7 640.5,366.9 641.0,367.1 641.5,368.4 642.0,369.0 642.5,369.3 643.0,368.8 643.5,367.5 644.0,368.7 644.5,367.7 645.0,366.9 645.5,365.3 646.0,364.9 646.5,365.5 647.0,364.3 647.5,364.0 648.0,365.7 648.5,364.0 649.0,367.0 649.5,365.9 650.0,366.5 650.5,366.3 651.0,365.2 651.5,367.1 652.0,366.7 652.5,366.8 653.0,368.0 653.5,367.3 654.0,367.8 654.5,367.3 655.0,371.6 655.5,368.6 656.0,368.3 656.5,366.9 657.0,364.2 657.5,366.6 658.0,366.6 658.5,364.4 659.0,368.0 659.5,366.2 660.0,366.1 660.5,366.0 661.0,366.1 661.5,365.8 662.0,365.0 662.5,364.6 663.0,365.1 663.5,366.5 664.0,367.7 664.5,368.0 665.0,367.3 665.5,367.1 666.0,367.5 666.5,366.8 667.0,365.0 667.5,362.6 668.0,365.1 668.5,366.2 669.0,365.8 669.5,366.1 670.0,367.5 670.5,367.3 671.0,366.5 671.5,365.5 672.0,364.0 672.5,364.5 673.0,367.1 673.5,367.5 674.0,367.0 674.5,367.2 675.0,367.4 675.5,368.3 676.0,366.7 676.5,365.8 677.0,366.2 677.5,368.2 678.0,367.5 678.5,367.6 679.0,368.0 679.5,368.2 680.0,367.8 680.5,366.8 681.0,365.8 681.5,364.8 682.0,364.5 682.5,367.6 683.0,364.8 683.5,364.9 684.0,364.7 684.5,366.1 685.0,367.4 685.5,367.0 686.0,366.6 686.5,367.5 687.0,367.5 687.5,367.8 688.0,368.5 688.5,367.5 689.0,367.0 689.5,367.9 690.0,366.9 690.5,367.1 691.0,367.1 691.5,368.8 692.0,368.2 692.5,368.5 693.0,368.1 693.5,366.4 694.0,366.7 694.5,366.2 695.0,367.6 695.5,367.2 696.0,366.8 696.5,365.9 697.0,365.8 697.5,365.8 698.0,367.0 698.5,367.9 699.0,368.7 699.5,369.0 700.0,369.6 700.5,369.8 701.0,366.4 701.5,367.4 702.0,366.5 702.5,366.2 703.0,365.6 703.5,365.3 704.0,365.0 704.5,362.8 705.0,366.2 705.5,367.4 706.0,367.7 706.5,366.6 707.0,365.7 707.5,365.7 708.0,365.0 708.5,365.2 709.0,365.0 709.5,365.2 710.0,365.9 710.5,366.4 711.0,365.2 711.5,365.8 712.0,367.4 712.5,365.9 713.0,365.8 713.5,366.0 714.0,367.6 714.5,367.4 715.0,367.2 715.5,368.2 716.0,365.4 716.5,365.0 717.0,366.4 717.5,366.3 718.0,366.8 718.5,365.1 719.0,365.7 719.5,366.2 720.0,366.5 720.5,367.8 721.0,365.1 721.5,365.3 722.0,365.7 722.5,365.9 723.0,365.5 723.5,365.6 724.0,367.6 724.5,368.4 725.0,367.9 725.5,368.2 726.0,368.0 726.5,368.3 727.0,368.0 727.5,367.8 728.0,367.2 728.5,367.6 729.0,366.6 729.5,365.3 730.0,365.6 730.5,365.9 731.0,368.6 731.5,369.2 732.0,368.7 732.5,368.7 733.0,368.3 733.5,367.1 734.0,366.5 734.5,365.8 735.0,364.9 735.5,365.4 736.0,365.9 736.5,367.0 737.0,365.6 737.5,366.2 738.0,366.5 738.5,368.4 739.0,368.5 739.5,368.8 740.0,368.1 740.5,366.6 741.0,366.5 741.5,368.1 742.0,368.2 742.5,367.9 743.0,367.0 743.5,366.8 744.0,367.8 744.5,368.0 745.0,367.1 745.5,366.4 746.0,366.8 746.5,366.0 747.0,368.1 747.5,362.0 748.0,366.7 748.5,365.5 749.0,365.6 749.5,366.7 750.0,366.3 750.5,365.9 751.0,366.0 751.5,366.6 752.0,367.3 752.5,367.9 753.0,367.6 753.5,367.3 754.0,367.8 754.5,367.9 755.0,368.9 755.5,368.7 756.0,368.1 756.5,366.7 757.0,366.6 757.5,365.4 758.0,365.5 758.5,365.5 759.0,367.1 759.5,368.3 760.0,364.1 760.5,366.9 761.0,364.5 761.5,366.3 762.0,364.7 762.5,365.0 763.0,365.4 763.5,366.1 764.0,366.4 764.5,368.7 765.0,367.3 765.5,366.9 766.0,366.8 766.5,367.2 767.0,367.6 767.5,367.1 768.0,366.8 768.5,367.5 769.0,368.7 769.5,368.8 770.0,368.7 770.5,367.2 771.0,369.1 771.5,368.6 772.0,368.4 772.5,370.6 773.0,368.8 773.5,365.9 774.0,364.1 774.5,366.2 775.0,368.2 775.5,368.4 776.0,368.4 776.5,367.3 777.0,368.1 777.5,367.7 778.0,368.8 778.5,368.4 779.0,368.6 779.5,368.3 780.0,371.1 780.5,368.7 781.0,368.5 781.5,367.7 782.0,367.6 782.5,368.1 783.0,367.2 783.5,367.6 784.0,367.1 784.5,368.3 785.0,369.1 785.5,369.3 786.0,368.7 786.5,368.7 787.0,368.1 787.5,367.9 788.0,367.2 788.5,367.0 789.0,365.5 789.5,369.2 790.0,366.9 790.5,366.4 791.0,366.7 791.5,363.6 792.0,365.5 792.5,364.8 793.0,366.0 793.5,366.0 794.0,367.2 794.5,367.9 795.0,367.2 795.5,365.8 796.0,366.7 796.5,364.8 797.0,365.1 797.5,366.9 798.0,366.6 798.5,367.4 799.0,366.4 799.5,367.6 800.0,367.0 800.5,366.6 801.0,368.4 801.5,366.4 802.0,366.7 802.5,366.9 803.0,369.1 803.5,370.0 804.0,370.0 804.5,367.6 805.0,367.7 805.5,366.8 806.0,366.4 806.5,366.8 807.0,369.6 807.5,367.7 808.0,368.3 808.5,368.4 809.0,369.1 809.5,368.9 810.0,368.4 810.5,367.6 811.0,366.4 811.5,366.6 812.0,367.5 812.5,366.2 813.0,366.2 813.5,366.0 814.0,368.0 814.5,368.3 815.0,367.9 815.5,366.1 816.0,365.4 816.5,364.9 817.0,363.3 817.5,366.0 818.0,366.6 818.5,366.9 819.0,366.9 819.5,366.5 820.0,366.3 820.5,367.3 821.0,368.0 821.5,367.3 822.0,367.5 822.5,367.0 823.0,367.8 823.5,367.3 824.0,367.1 824.5,367.5 825.0,366.7 825.5,362.8 826.0,367.4 826.5,367.4 827.0,368.4 827.5,365.0 828.0,366.4 828.5,366.6 829.0,368.7 829.5,365.1 830.0,364.5 830.5,364.4 831.0,364.1 831.5,364.4 832.0,365.5 832.5,365.6 833.0,369.0 833.5,367.0 834.0,366.9 834.5,367.9 835.0,368.0 835.5,368.4 836.0,369.4 836.5,368.6 837.0,368.4 837.5,367.0 838.0,368.3 838.5,367.1 839.0,367.1 839.5,366.6 840.0,367.0 840.5,367.9 841.0,367.7 841.5,367.4 842.0,368.8 842.5,367.9 843.0,367.2 843.5,366.8 844.0,365.7 844.5,365.6 845.0,365.7 845.5,366.7 846.0,366.8 846.5,366.5 847.0,365.9 847.5,365.3 848.0,366.4 848.5,366.7 849.0,367.5 849.5,367.9 850.0,368.8 850.5,368.7 851.0,367.9 851.5,367.3 852.0,367.0 852.5,366.3 853.0,366.0 853.5,365.7 854.0,366.1 854.5,367.9 855.0,365.8 855.5,365.9 856.0,365.4 856.5,367.5 857.0,361.7 857.5,363.8 858.0,364.5 858.5,364.2 859.0,364.6 859.5,364.9 860.0,362.6 860.5,366.1 861.0,367.0 861.5,366.9 862.0,369.2 862.5,366.5 863.0,367.7 863.5,370.9 864.0,366.5 864.5,365.8 865.0,364.7 865.5,367.7 866.0,365.8 866.5,367.5 867.0,365.9 867.5,364.9 868.0,364.8 868.5,365.5 869.0,366.5 869.5,366.2 870.0,366.9 870.5,366.4 871.0,364.0 871.5,366.4 872.0,364.8 872.5,365.2 873.0,364.6 873.5,364.8 874.0,365.6 874.5,367.2 875.0,367.3 875.5,367.1 876.0,366.7 876.5,367.5 877.0,366.7 877.5,368.0 878.0,367.7 878.5,365.5 879.0,366.7 879.5,369.9 880.0,369.1 880.5,370.1 881.0,370.3 881.5,368.8 882.0,366.8 882.5,366.4 883.0,365.4 883.5,366.5 884.0,366.2 884.5,365.1 885.0,365.4 885.5,365.8 886.0,368.8 886.5,366.6 887.0,367.2 887.5,367.1 888.0,365.8 888.5,366.1 889.0,366.7 889.5,366.7 890.0,367.1 890.5,367.6 891.0,368.9 891.5,368.6 892.0,367.8 892.5,367.5 893.0,366.8 893.5,367.0 894.0,367.7 894.5,367.5 895.0,367.9 895.5,368.6 896.0,368.1 896.5,368.5 897.0,367.5 897.5,367.1 898.0,365.1 898.5,365.1 899.0,367.6 899.5,367.8 900.0,367.7 900.5,366.8 901.0,366.6 901.5,369.3 902.0,366.4 902.5,365.6 903.0,365.9 903.5,365.8 904.0,365.4 904.5,365.8 905.0,366.1 905.5,365.9 906.0,367.4 906.5,367.5 907.0,367.1 907.5,366.2 908.0,366.0 908.5,366.3 909.0,367.9 909.5,366.4 910.0,366.4 910.5,367.2 911.0,367.6 911.5,368.1 912.0,367.4 912.5,367.3 913.0,365.8 913.5,366.5 914.0,367.5 914.5,366.9 915.0,367.5 915.5,367.6 916.0,367.5 916.5,364.1 917.0,367.3 917.5,366.5 918.0,368.3 918.5,367.7 919.0,367.9 919.5,367.4 920.0,367.0 920.5,363.1 921.0,365.8 921.5,365.3 922.0,365.0 922.5,365.0 923.0,363.0 923.5,363.3 924.0,363.9 924.5,365.0 925.0,367.0 925.5,367.6 926.0,368.6 926.5,366.0 927.0,366.9 927.5,365.0 928.0,367.3 928.5,367.4 929.0,367.3 929.5,364.6 930.0,367.6 930.5,367.4 931.0,367.3 931.5,368.5 932.0,368.1 932.5,368.5 933.0,367.0 933.5,368.6 934.0,363.5 934.5,366.5 935.0,367.1 935.5,366.3 936.0,366.0 936.5,368.9 937.0,366.3 937.5,365.9 938.0,369.3 938.5,367.0 939.0,366.9 939.5,367.2 940.0,367.8 940.5,368.1 941.0,369.2 941.5,369.2 942.0,368.4 942.5,365.2 943.0,367.2 943.5,367.0 944.0,366.1 944.5,368.3 945.0,364.4 945.5,367.3 946.0,367.6 946.5,367.6 947.0,367.8 947.5,368.3 948.0,368.6 948.5,369.4 949.0,368.5 949.5,368.7 950.0,367.9 950.5,367.9 951.0,367.2 951.5,366.9 952.0,366.8 952.5,368.7 953.0,367.2 953.5,366.7 954.0,365.8 954.5,369.1 955.0,368.3 955.5,367.1 956.0,366.5 956.5,365.9 957.0,365.6 957.5,366.0 958.0,365.7 958.5,364.6 959.0,364.0 959.5,363.9 960.0,364.6 960.5,366.0 961.0,366.2 961.5,366.3 962.0,367.4 962.5,364.2 963.0,367.1 963.5,364.2 964.0,367.6 964.5,366.9 965.0,367.0 965.5,367.8 966.0,367.4 966.5,366.0 967.0,367.1 967.5,367.0 968.0,367.5 968.5,367.7 969.0,366.8 969.5,366.4 970.0,367.5 970.5,367.9 971.0,368.0 971.5,370.7 972.0,366.7 972.5,368.2 973.0,368.3 973.5,366.8 974.0,367.1 974.5,366.9 975.0,365.4 975.5,365.9 976.0,363.3 976.5,365.6 977.0,366.8 977.5,366.5 978.0,368.0 978.5,368.8 979.0,366.5 979.5,366.7 980.0,367.2 980.5,367.3 981.0,367.6 981.5,367.8 982.0,367.7 982.5,366.5 983.0,366.4 983.5,366.4 984.0,368.7 984.5,371.4 985.0,367.0 985.5,366.7 986.0,367.3 986.5,368.2 987.0,368.1 987.5,367.4 988.0,367.2 988.5,367.2 989.0,367.5 989.5,367.5 990.0,368.9 990.5,367.3 991.0,367.4 991.5,367.2 992.0,365.1 992.5,365.8 993.0,365.8 993.5,367.9 994.0,367.5 994.5,367.6 995.0,367.3 995.5,368.3 996.0,368.4 996.5,367.3 997.0,367.2 997.5,367.8 998.0,368.4 998.5,367.5 999.0,366.0 999.5,365.7 1000.0,366.4 1000.5,365.9 1001.0,366.3 1001.5,365.4 1002.0,367.8 1002.5,368.3 1003.0,367.7 1003.5,367.3 1004.0,365.9 1004.5,365.3 1005.0,363.4 1005.5,366.1 1006.0,365.8 1006.5,365.8 1007.0,366.4 1007.5,367.6 1008.0,366.3 1008.5,365.0 1009.0,366.6 1009.5,366.8 1010.0,364.9 1010.5,367.1 1011.0,367.1 1011.5,367.5 1012.0,367.6 1012.5,367.6 1013.0,367.6 1013.5,365.8 1014.0,366.6 1014.5,366.3 1015.0,366.8 1015.5,367.3 1016.0,370.2 1016.5,367.7 1017.0,368.0 1017.5,368.8 1018.0,366.0 1018.5,364.4 1019.0,368.2 1019.5,368.8 1020.0,368.6 1020.5,368.2 1021.0,367.9 1021.5,368.4"/>
<polyline fill="none" stroke="#0000ff" stroke-width="2.3" stroke-linejoin="round" stroke-linecap="round" points="1021.5,368.4 1022.8,367.0 1023.1,478.0"/>
<polyline fill="none" stroke="#ff0000" stroke-width="2.3" stroke-linejoin="round" stroke-linecap="round" points="119.0,380.0 119.2,338.0 119.6,312.6 120.6,305.0 122.8,296.6 126.0,293.4 131.3,289.5"/>
<polyline fill="none" stroke="#ff0000" stroke-width="3.0" stroke-linejoin="round" stroke-linecap="round" points="131.3,289.5 131.8,289.0 132.3,289.8 132.8,288.7 133.3,288.4 133.8,288.9 134.3,288.7 134.8,288.8 135.3,289.3 135.8,289.2 136.3,287.4 136.8,287.6 137.3,288.1 137.8,289.5 138.3,291.0 138.8,291.7 139.3,292.5 139.8,293.4 140.3,292.0 140.8,291.8 141.3,290.9 141.8,291.8 142.3,291.1 142.8,289.4 143.3,289.7 143.8,287.7 144.3,287.7 144.8,287.0 145.3,287.6 145.8,287.0 146.3,287.2 146.8,286.6 147.3,286.2 147.8,287.1 148.3,287.8 148.8,287.5 149.3,284.4 149.8,286.4 150.3,285.9 150.8,283.4 151.3,287.0 151.8,286.5 152.3,286.0 152.8,285.2 153.3,285.3 153.8,285.9 154.3,285.4 154.8,284.7 155.3,284.8 155.8,284.7 156.3,285.0 156.8,285.2 157.3,284.5 157.8,284.8 158.3,285.8 158.8,285.1 159.3,283.8 159.8,286.3 160.3,286.0 160.8,286.7 161.3,285.9 161.8,285.6 162.3,286.0 162.8,286.5 163.3,286.2 163.8,285.5 164.3,284.2 164.8,281.8 165.3,284.3 165.8,285.2 166.3,282.2 166.8,286.5 167.3,286.3 167.8,286.4 168.3,284.4 168.8,283.7 169.3,282.8 169.8,282.0 170.3,281.5 170.8,281.7 171.3,282.1 171.8,281.9 172.3,281.2 172.8,282.5 173.3,284.3 173.8,282.0 174.3,281.9 174.8,282.3 175.3,282.7 175.8,283.8 176.3,281.4 176.8,283.2 177.3,282.5 177.8,282.2 178.3,282.4 178.8,281.8 179.3,282.6 179.8,282.7 180.3,282.9 180.8,282.1 181.3,279.3 181.8,283.3 182.3,281.7 182.8,282.6 183.3,277.2 183.8,279.1 184.3,276.7 184.8,278.9 185.3,279.9 185.8,279.6 186.3,280.1 186.8,281.3 187.3,280.8 187.8,281.2 188.3,278.9 188.8,282.3 189.3,282.5 189.8,282.8 190.3,281.9 190.8,280.7 191.3,280.3 191.8,280.9 192.3,281.1 192.8,281.0 193.3,280.5 193.8,282.4 194.3,282.4 194.8,282.1 195.3,282.0 195.8,281.6 196.3,282.8 196.8,283.0 197.3,282.5 197.8,280.8 198.3,281.5 198.8,283.3 199.3,282.7 199.8,282.2 200.3,283.2 200.8,283.9 201.3,284.1 201.8,283.3 202.3,283.3 202.8,283.4 203.3,284.7 203.8,284.7 204.3,284.4 204.8,284.5 205.3,284.5 205.8,284.7 206.3,285.5 206.8,287.4 207.3,288.5 207.8,288.4 208.3,288.7 208.8,289.0 209.3,286.5 209.8,288.8 210.3,288.6 210.8,288.2 211.3,288.7 211.8,287.3 212.3,289.3 212.8,291.5 213.3,288.8 213.8,285.3 214.3,286.8 214.8,284.7 215.3,287.0 215.8,286.8 216.3,287.0 216.8,289.1 217.3,286.3 217.8,285.1 218.3,285.1 218.8,284.0 219.3,283.2 219.8,280.2 220.3,282.8 220.8,283.3 221.3,282.8 221.8,282.1 222.3,281.4 222.8,279.6 223.3,280.4 223.8,279.4 224.3,280.1 224.8,281.3 225.3,283.6 225.8,284.1 226.3,284.3 226.8,283.9 227.3,284.4 227.8,283.9 228.3,283.4 228.8,283.6 229.3,285.3 229.8,285.0 230.3,285.6 230.8,285.7 231.3,285.6 231.8,283.8 232.3,284.3 232.8,283.5 233.3,284.2 233.8,283.8 234.3,283.3 234.8,283.5 235.3,280.6 235.8,279.8 236.3,280.6 236.8,280.7 237.3,279.9 237.8,278.4 238.3,281.4 238.8,279.6 239.3,280.9 239.8,280.4 240.3,279.1 240.8,279.7 241.3,278.2 241.8,280.1 242.3,280.1 242.8,278.9 243.3,279.4 243.8,279.6 244.3,280.3 244.8,279.9 245.3,279.8 245.8,281.7 246.3,280.4 246.8,280.5 247.3,281.3 247.8,279.3 248.3,280.2 248.8,280.3 249.3,281.1 249.8,281.3 250.3,281.6 250.8,281.8 251.3,281.7 251.8,281.2 252.3,281.4 252.8,281.6 253.3,283.6 253.8,283.5 254.3,282.8 254.8,285.6 255.3,282.1 255.8,281.9 256.3,281.2 256.8,281.3 257.3,281.0 257.8,281.5 258.3,286.0 258.8,283.5 259.3,283.9 259.8,280.2 260.3,282.2 260.8,282.0 261.3,282.8 261.8,281.7 262.3,281.4 262.8,281.1 263.3,280.6 263.8,280.4 264.3,279.5 264.8,280.0 265.3,281.3 265.8,280.6 266.3,278.2 266.8,277.8 267.3,277.4 267.8,278.9 268.3,278.9 268.8,277.5 269.3,278.1 269.8,277.0 270.3,280.2 270.8,278.3 271.3,277.3 271.8,275.8 272.3,275.8 272.8,275.9 273.3,278.0 273.8,276.5 274.3,275.7 274.8,279.9 275.3,274.6 275.8,274.2 276.3,274.1 276.8,275.1 277.3,275.4 277.8,275.5 278.3,276.0 278.8,276.3 279.3,277.2 279.8,277.7 280.3,277.6 280.8,276.6 281.3,279.1 281.8,276.5 282.3,277.1 282.8,277.0 283.3,277.6 283.8,277.5 284.3,278.1 284.8,277.5 285.3,277.5 285.8,279.0 286.3,278.4 286.8,278.2 287.3,277.8 287.8,277.5 288.3,277.8 288.8,278.0 289.3,281.6 289.8,279.7 290.3,279.5 290.8,279.1 291.3,279.5 291.8,278.9 292.3,278.5 292.8,277.1 293.3,275.6 293.8,276.2 294.3,275.6 294.8,276.5 295.3,276.3 295.8,276.0 296.3,275.5 296.8,276.1 297.3,276.9 297.8,280.1 298.3,276.9 298.8,275.1 299.3,278.0 299.8,275.0 300.3,276.7 300.8,275.1 301.3,275.2 301.8,273.2 302.3,275.6 302.8,275.6 303.3,275.4 303.8,276.7 304.3,277.4 304.8,275.6 305.3,275.1 305.8,275.2 306.3,275.3 306.8,273.9 307.3,271.9 307.8,273.0 308.3,272.8 308.8,272.3 309.3,272.9 309.8,273.3 310.3,274.3 310.8,273.4 311.3,273.2 311.8,273.9 312.3,274.5 312.8,274.9 313.3,275.5 313.8,276.5 314.3,277.0 314.8,276.2 315.3,276.2 315.8,277.2 316.3,274.9 316.8,277.4 317.3,277.2 317.8,277.4 318.3,277.3 318.8,277.1 319.3,275.9 319.8,275.6 320.3,276.2 320.8,275.8 321.3,275.2 321.8,273.4 322.3,273.0 322.8,273.0 323.3,273.8 323.8,273.3 324.3,272.8 324.8,272.8 325.3,272.6 325.8,272.9 326.3,272.4 326.8,270.1 327.3,270.4 327.8,271.3 328.3,275.2 328.8,273.4 329.3,273.3 329.8,273.3 330.3,274.6 330.8,273.8 331.3,273.7 331.8,273.8 332.3,273.7 332.8,271.2 333.3,272.3 333.8,272.3 334.3,272.5 334.8,271.5 335.3,271.7 335.8,271.2 336.3,272.2 336.8,271.9 337.3,273.0 337.8,273.6 338.3,271.0 338.8,273.4 339.3,273.3 339.8,273.7 340.3,273.4 340.8,270.7 341.3,270.4 341.8,269.8 342.3,269.6 342.8,271.5 343.3,271.3 343.8,271.3 344.3,271.1 344.8,270.3 345.3,270.9 345.8,270.7 346.3,270.3 346.8,270.5 347.3,270.6 347.8,271.2 348.3,271.6 348.8,271.5 349.3,269.8 349.8,270.2 350.3,271.3 350.8,271.0 351.3,271.0 351.8,268.3 352.3,270.5 352.8,270.8 353.3,271.2 353.8,272.5 354.3,272.7 354.8,272.5 355.3,269.9 355.8,271.7 356.3,271.6 356.8,270.8 357.3,269.7 357.8,269.7 358.3,271.1 358.8,271.7 359.3,269.4 359.8,271.7 360.3,270.0 360.8,269.9 361.3,269.8 361.8,268.8 362.3,268.1 362.8,269.3 363.3,269.2 363.8,269.9 364.3,267.8 364.8,269.3 365.3,267.3 365.8,265.7 366.3,268.3 366.8,268.6 367.3,268.4 367.8,267.7 368.3,264.7 368.8,269.0 369.3,268.4 369.8,269.2 370.3,269.1 370.8,269.8 371.3,270.7 371.8,268.0 372.3,270.7 372.8,271.2 373.3,271.1 373.8,270.5 374.3,270.2 374.8,269.8 375.3,271.7 375.8,271.4 376.3,270.6 376.8,270.4 377.3,271.4 377.8,270.1 378.3,269.9 378.8,270.3 379.3,270.1 379.8,268.8 380.3,271.6 380.8,268.6 381.3,269.1 381.8,271.3 382.3,268.6 382.8,268.7 383.3,270.0 383.8,270.2 384.3,269.8 384.8,269.2 385.3,269.6 385.8,269.6 386.3,269.5 386.8,267.2 387.3,267.7 387.8,270.3 388.3,269.9 388.8,269.3 389.3,269.5 389.8,270.5 390.3,270.7 390.8,269.2 391.3,268.8 391.8,267.3 392.3,266.5 392.8,267.8 393.3,268.7 393.8,269.2 394.3,269.4 394.8,269.5 395.3,269.6 395.8,269.6 396.3,269.8 396.8,269.1 397.3,272.1 397.8,269.5 398.3,270.2 398.8,270.0 399.3,270.9 399.8,268.6 400.3,269.5 400.8,269.0 401.3,268.4 401.8,270.3 402.3,270.6 402.8,270.4 403.3,271.2 403.8,271.1 404.3,271.3 404.8,271.8 405.3,272.9 405.8,272.0 406.3,270.9 406.8,270.2 407.3,271.0 407.8,269.3 408.3,268.7 408.8,268.6 409.3,269.0 409.8,272.2 410.3,272.9 410.8,271.6 411.3,272.0 411.8,271.9 412.3,272.6 412.8,272.9 413.3,273.3 413.8,272.4 414.3,273.8 414.8,273.0 415.3,273.1 415.8,271.3 416.3,271.9 416.8,273.1 417.3,271.6 417.8,271.6 418.3,270.4 418.8,272.8 419.3,274.3 419.8,273.8 420.3,273.7 420.8,273.8 421.3,272.4 421.8,272.2 422.3,274.0 422.8,271.1 423.3,270.1 423.8,272.5 424.3,272.6 424.8,272.5 425.3,275.3 425.8,275.3 426.3,272.2 426.8,272.4 427.3,270.8 427.8,270.8 428.3,271.0 428.8,271.1 429.3,270.1 429.8,271.3 430.3,269.5 430.8,270.6 431.3,270.5 431.8,271.5 432.3,271.6 432.8,272.2 433.3,271.8 433.8,272.6 434.3,272.9 434.8,272.4 435.3,272.5 435.8,270.5 436.3,269.5 436.8,271.1 437.3,270.4 437.8,270.1 438.3,270.0 438.8,270.3 439.3,270.4 439.8,270.4 440.3,271.1 440.8,273.4 441.3,270.7 441.8,271.2 442.3,270.9 442.8,270.2 443.3,270.9 443.8,267.8 444.3,269.7 444.8,269.7 445.3,271.3 445.8,270.8 446.3,270.7 446.8,269.6 447.3,270.9 447.8,270.6 448.3,270.6 448.8,270.4 449.3,267.8 449.8,270.2 450.3,270.9 450.8,272.0 451.3,272.6 451.8,273.1 452.3,272.9 452.8,274.9 453.3,275.1 453.8,275.4 454.3,276.1 454.8,276.8 455.3,276.6 455.8,274.7 456.3,274.6 456.8,270.7 457.3,273.4 457.8,272.4 458.3,272.9 458.8,273.3 459.3,275.4 459.8,275.7 460.3,274.9 460.8,275.3 461.3,274.5 461.8,275.5 462.3,276.0 462.8,276.6 463.3,275.9 463.8,276.1 464.3,275.7 464.8,276.1 465.3,276.4 465.8,275.3 466.3,276.3 466.8,274.9 467.3,272.2 467.8,273.9 468.3,273.4 468.8,272.5 469.3,272.5 469.8,272.6 470.3,275.9 470.8,274.2 471.3,274.0 471.8,270.3 472.3,273.6 472.8,274.1 473.3,273.2 473.8,273.1 474.3,273.3 474.8,273.1 475.3,273.5 475.8,273.6 476.3,274.0 476.8,274.2 477.3,270.9 477.8,271.5 478.3,272.4 478.8,273.0 479.3,272.5 479.8,271.6 480.3,271.1 480.8,271.9 481.3,271.9 481.8,271.4 482.3,272.0 482.8,270.7 483.3,268.5 483.8,272.9 484.3,272.7 484.8,272.7 485.3,272.8 485.8,272.7 486.3,272.7 486.8,272.9 487.3,272.1 487.8,271.8 488.3,272.0 488.8,271.9 489.3,270.1 489.8,271.8 490.3,273.6 490.8,270.6 491.3,271.3 491.8,270.3 492.3,270.6 492.8,270.7 493.3,270.5 493.8,270.9 494.3,270.6 494.8,270.9 495.3,271.0 495.8,272.6 496.3,273.0 496.8,271.2 497.3,270.9 497.8,271.5 498.3,268.0 498.8,268.0 499.3,270.4 499.8,269.9 500.3,270.1 500.8,270.0 501.3,268.9 501.8,270.4 502.3,271.0 502.8,271.0 503.3,271.4 503.8,272.8 504.3,272.1 504.8,272.3 505.3,271.7 505.8,271.2 506.3,270.9 506.8,270.9 507.3,270.8 507.8,272.2 508.3,272.3 508.8,272.3 509.3,272.5 509.8,274.2 510.3,271.4 510.8,272.0 511.3,271.2 511.8,271.1 512.3,270.2 512.8,273.2 513.3,273.7 513.8,271.2 514.3,270.8 514.8,270.9 515.3,271.5 515.8,271.3 516.3,274.4 516.8,272.9 517.3,274.2 517.8,273.5 518.3,271.8 518.8,273.2 519.3,272.5 519.8,273.2 520.3,270.0 520.8,274.1 521.3,274.0 521.8,271.3 522.3,273.3 522.8,275.2 523.3,272.3 523.8,271.6 524.3,271.6 524.8,271.9 525.3,270.8 525.8,273.2 526.3,274.3 526.8,275.0 527.3,274.4 527.8,274.7 528.3,277.3 528.8,273.8 529.3,274.4 529.8,274.2 530.3,275.8 530.8,275.8 531.3,275.2 531.8,273.1 532.3,272.9 532.8,272.5 533.3,271.8 533.8,271.1 534.3,271.8 534.8,273.1 535.3,273.6 535.8,274.0 536.3,276.2 536.8,274.9 537.3,277.4 537.8,278.0 538.3,275.3 538.8,275.7 539.3,274.8 539.8,274.4 540.3,273.1 540.8,271.7 541.3,272.7 541.8,272.7 542.3,272.4 542.8,272.2 543.3,273.0 543.8,270.4 544.3,273.0 544.8,273.3 545.3,272.1 545.8,271.7 546.3,272.1 546.8,271.3 547.3,272.0 547.8,274.8 548.3,275.4 548.8,273.9 549.3,273.9 549.8,275.7 550.3,273.6 550.8,276.0 551.3,272.7 551.8,273.5 552.3,272.2 552.8,272.7 553.3,272.6 553.8,272.7 554.3,273.0 554.8,273.1 555.3,271.8 555.8,273.1 556.3,272.8 556.8,274.5 557.3,274.5 557.8,271.5 558.3,270.3 558.8,270.3 559.3,268.7 559.8,271.1 560.3,271.5 560.8,270.2 561.3,269.8 561.8,273.8 562.3,268.9 562.8,269.2 563.3,268.8 563.8,271.3 564.3,272.8 564.8,269.6 565.3,269.2 565.8,270.2 566.3,269.9"/>
<polyline fill="none" stroke="#ff0000" stroke-width="2.3" stroke-linejoin="round" stroke-linecap="round" points="566.3,269.9 566.8,270.0 568.0,380.0 569.5,455.0 570.5,462.0 571.5,462.0 574.0,330.0 575.2,285.0 576.5,272.1"/>
<polyline fill="none" stroke="#ff0000" stroke-width="3.0" stroke-linejoin="round" stroke-linecap="round" points="576.5,272.1 577.0,271.9 577.5,273.3 578.0,274.4 578.5,274.8 579.0,273.5 579.5,273.6 580.0,273.7 580.5,273.7 581.0,273.0 581.5,273.7 582.0,273.9 582.5,273.3 583.0,272.5 583.5,274.2 584.0,274.3 584.5,274.9 585.0,274.2 585.5,274.2 586.0,274.2 586.5,275.3 587.0,275.1 587.5,272.5 588.0,274.6 588.5,274.1 589.0,274.3 589.5,274.0 590.0,274.4 590.5,273.9 591.0,273.9 591.5,273.8 592.0,273.0 592.5,275.6 593.0,273.9 593.5,273.1 594.0,273.5 594.5,273.6 595.0,273.6 595.5,273.7 596.0,273.1 596.5,272.5 597.0,272.0 597.5,272.4 598.0,272.3 598.5,268.7 599.0,272.4 599.5,272.3 600.0,272.5 600.5,272.1 601.0,271.7 601.5,273.0 602.0,273.7 602.5,273.5 603.0,273.6 603.5,273.7 604.0,273.4 604.5,271.8 605.0,271.6 605.5,273.3 606.0,276.5 606.5,271.4 607.0,272.2 607.5,273.0 608.0,274.2 608.5,273.9 609.0,273.8 609.5,273.4 610.0,273.7 610.5,273.8 611.0,274.7 611.5,273.9 612.0,273.6 612.5,272.5 613.0,270.9 613.5,273.2 614.0,272.8 614.5,271.5 615.0,271.2 615.5,272.2 616.0,272.3 616.5,272.2 617.0,272.6 617.5,274.0 618.0,272.6 618.5,273.1 619.0,273.5 619.5,272.7 620.0,271.7 620.5,269.7 621.0,268.9 621.5,269.8 622.0,269.2 622.5,268.4 623.0,268.4 623.5,268.1 624.0,267.5 624.5,267.3 625.0,266.2 625.5,265.9 626.0,266.6 626.5,266.6 627.0,267.4 627.5,267.5 628.0,267.8 628.5,268.3 629.0,268.3 629.5,267.1 630.0,267.5 630.5,267.5 631.0,267.2 631.5,268.0 632.0,266.6 632.5,267.0 633.0,266.7 633.5,266.2 634.0,265.3 634.5,265.5 635.0,266.8 635.5,266.4 636.0,265.7 636.5,266.8 637.0,267.2 637.5,267.8 638.0,266.6 638.5,264.3 639.0,266.7 639.5,267.8 640.0,270.1 640.5,267.2 641.0,267.3 641.5,267.3 642.0,267.3 642.5,264.4 643.0,266.7 643.5,266.0 644.0,266.3 644.5,266.0 645.0,266.2 645.5,265.5 646.0,265.9 646.5,266.5 647.0,267.0 647.5,266.9 648.0,267.7 648.5,267.4 649.0,268.6 649.5,268.8 650.0,270.0 650.5,270.1 651.0,269.8 651.5,270.1 652.0,271.1 652.5,269.9 653.0,269.1 653.5,269.3 654.0,269.7 654.5,269.6 655.0,269.6 655.5,269.4 656.0,269.9 656.5,270.0 657.0,269.4 657.5,267.8 658.0,268.6 658.5,268.9 659.0,270.5 659.5,270.5 660.0,269.7 660.5,269.8 661.0,270.6 661.5,270.9 662.0,269.3 662.5,268.7 663.0,269.7 663.5,270.6 664.0,270.6 664.5,271.0 665.0,271.5 665.5,271.8 666.0,272.3 666.5,272.5 667.0,272.0 667.5,272.3 668.0,271.8 668.5,270.9 669.0,270.5 669.5,270.9 670.0,269.9 670.5,270.3 671.0,269.0 671.5,268.4 672.0,269.2 672.5,268.8 673.0,269.3 673.5,269.5 674.0,267.5 674.5,267.9 675.0,268.7 675.5,269.3 676.0,270.9 676.5,271.8 677.0,272.6 677.5,272.4 678.0,274.6 678.5,272.6 679.0,269.9 679.5,268.4 680.0,269.2 680.5,268.9 681.0,268.6 681.5,268.1 682.0,268.3 682.5,268.7 683.0,268.6 683.5,267.0 684.0,268.9 684.5,269.3 685.0,266.8 685.5,267.1 686.0,266.2 686.5,268.7 687.0,268.6 687.5,267.8 688.0,267.4 688.5,267.7 689.0,267.6 689.5,267.9 690.0,267.9 690.5,267.6 691.0,270.4 691.5,268.6 692.0,269.3 692.5,269.4 693.0,269.1 693.5,267.3 694.0,268.6 694.5,267.4 695.0,267.5 695.5,266.9 696.0,266.4 696.5,266.9 697.0,269.4 697.5,267.5 698.0,266.6 698.5,266.4 699.0,266.1 699.5,266.7 700.0,266.8 700.5,267.0 701.0,265.4 701.5,267.4 702.0,267.2 702.5,267.5 703.0,267.2 703.5,267.1 704.0,267.2 704.5,266.6 705.0,266.4 705.5,266.7 706.0,265.1 706.5,265.6 707.0,265.2 707.5,266.7 708.0,267.1 708.5,267.8 709.0,269.0 709.5,268.8 710.0,267.7 710.5,271.3 711.0,268.2 711.5,267.2 712.0,266.9 712.5,266.1 713.0,266.1 713.5,265.4 714.0,265.0 714.5,265.3 715.0,265.6 715.5,265.1 716.0,265.1 716.5,264.6 717.0,266.0 717.5,266.2 718.0,266.3 718.5,265.6 719.0,262.4 719.5,262.6 720.0,262.3 720.5,263.8 721.0,262.3 721.5,262.9 722.0,263.2 722.5,265.1 723.0,265.9 723.5,266.6 724.0,267.4 724.5,268.0 725.0,266.7 725.5,267.6 726.0,266.7 726.5,266.4 727.0,265.4 727.5,265.0 728.0,264.8 728.5,267.4 729.0,266.9 729.5,265.5 730.0,265.2 730.5,267.6 731.0,267.5 731.5,266.0 732.0,265.8 732.5,266.0 733.0,266.0 733.5,266.9 734.0,267.9 734.5,268.9 735.0,268.6 735.5,266.9 736.0,269.2 736.5,272.4 737.0,269.5 737.5,269.8 738.0,269.8 738.5,271.4 739.0,272.2 739.5,271.7 740.0,268.8 740.5,271.9 741.0,271.1 741.5,270.6 742.0,270.1 742.5,270.7 743.0,269.8 743.5,269.9 744.0,268.7 744.5,269.3 745.0,269.4 745.5,267.4 746.0,269.8 746.5,267.3 747.0,267.4 747.5,267.6 748.0,267.2 748.5,267.7 749.0,268.8 749.5,268.9 750.0,270.9 750.5,268.1 751.0,267.7 751.5,269.0 752.0,268.4 752.5,268.0 753.0,267.4 753.5,268.7 754.0,268.9 754.5,269.7 755.0,270.2 755.5,270.2 756.0,269.9 756.5,268.8 757.0,268.2 757.5,267.8 758.0,268.1 758.5,267.8 759.0,271.2 759.5,268.9 760.0,267.6 760.5,269.1 761.0,269.3 761.5,268.7 762.0,269.9 762.5,269.6 763.0,268.9 763.5,268.2 764.0,267.6 764.5,267.9 765.0,264.2 765.5,266.9 766.0,266.5 766.5,266.8 767.0,266.9 767.5,266.9 768.0,266.6 768.5,268.0 769.0,267.2 769.5,267.1 770.0,265.9 770.5,265.5 771.0,267.2 771.5,264.7 772.0,267.6 772.5,267.3 773.0,267.4 773.5,267.0 774.0,269.6 774.5,268.8 775.0,269.2 775.5,268.7 776.0,269.2 776.5,269.5 777.0,268.5 777.5,267.4 778.0,266.8 778.5,266.4 779.0,266.3 779.5,265.0 780.0,264.5 780.5,264.1 781.0,264.8 781.5,265.8 782.0,267.8 782.5,267.6 783.0,268.3 783.5,271.8 784.0,270.0 784.5,270.0 785.0,269.3 785.5,268.3 786.0,267.9 786.5,267.6 787.0,268.3 787.5,267.7 788.0,268.0 788.5,267.8 789.0,267.6 789.5,267.8 790.0,267.7 790.5,267.2 791.0,268.4 791.5,267.1 792.0,267.2 792.5,267.9 793.0,269.9 793.5,270.7 794.0,270.6 794.5,269.1 795.0,268.3 795.5,267.4 796.0,267.5 796.5,267.0 797.0,267.6 797.5,267.6 798.0,267.9 798.5,268.4 799.0,267.7 799.5,267.7 800.0,269.7 800.5,269.0 801.0,269.6 801.5,269.0 802.0,268.7 802.5,268.9 803.0,268.8 803.5,268.7 804.0,269.0 804.5,267.1 805.0,269.2 805.5,268.1 806.0,267.9 806.5,265.5 807.0,268.9 807.5,269.1 808.0,269.3 808.5,269.2 809.0,269.4 809.5,267.6 810.0,267.0 810.5,266.8 811.0,266.3 811.5,266.4 812.0,267.2 812.5,267.1 813.0,269.2 813.5,270.2 814.0,270.2 814.5,269.3 815.0,268.7 815.5,269.8 816.0,267.7 816.5,270.4 817.0,269.7 817.5,269.8 818.0,270.1 818.5,270.3 819.0,270.0 819.5,269.5 820.0,267.9 820.5,266.0 821.0,268.8 821.5,270.3 822.0,267.3 822.5,267.6 823.0,267.9 823.5,266.7 824.0,266.5 824.5,266.7 825.0,268.2 825.5,269.1 826.0,269.3 826.5,266.5 827.0,272.4 827.5,269.5 828.0,269.1 828.5,268.0 829.0,267.2 829.5,267.1 830.0,267.7 830.5,267.2 831.0,267.5 831.5,267.8 832.0,268.0 832.5,268.0 833.0,267.9 833.5,265.1 834.0,267.5 834.5,267.3 835.0,269.9 835.5,267.6 836.0,268.0 836.5,268.2 837.0,269.0 837.5,269.9 838.0,269.6 838.5,269.8 839.0,268.4 839.5,268.7 840.0,272.0 840.5,268.3 841.0,267.5 841.5,267.4 842.0,267.2 842.5,267.4 843.0,267.0 843.5,266.7 844.0,267.5 844.5,268.0 845.0,268.2 845.5,267.2 846.0,269.0 846.5,266.3 847.0,266.8 847.5,269.0 848.0,267.9 848.5,267.2 849.0,267.2 849.5,267.9 850.0,268.3 850.5,265.8 851.0,268.6 851.5,268.8 852.0,268.0 852.5,268.3 853.0,269.1 853.5,267.2 854.0,267.6 854.5,266.8 855.0,267.4 855.5,267.9 856.0,266.9 856.5,267.8 857.0,268.0 857.5,267.9 858.0,268.6 858.5,268.1 859.0,267.8 859.5,268.4 860.0,267.6 860.5,266.7 861.0,269.0 861.5,266.6 862.0,267.4 862.5,270.0 863.0,270.4 863.5,269.9 864.0,268.5 864.5,266.2 865.0,267.1 865.5,268.7 866.0,268.0 866.5,267.5 867.0,268.5 867.5,267.6 868.0,267.6 868.5,265.1 869.0,264.9 869.5,267.0 870.0,267.0 870.5,265.6 871.0,268.1 871.5,268.5 872.0,268.5 872.5,267.5 873.0,268.1 873.5,267.1 874.0,266.1 874.5,265.5 875.0,267.9 875.5,265.8 876.0,267.5 876.5,269.0 877.0,267.9 877.5,269.4 878.0,268.9 878.5,268.8 879.0,268.4 879.5,268.1 880.0,265.3 880.5,265.6 881.0,266.5 881.5,266.8 882.0,267.5 882.5,268.2 883.0,266.3 883.5,267.7 884.0,267.4 884.5,270.2 885.0,267.7 885.5,267.9 886.0,268.2 886.5,269.4 887.0,270.3 887.5,270.7 888.0,270.8 888.5,270.0 889.0,267.2 889.5,269.8 890.0,268.8 890.5,269.9 891.0,268.8 891.5,267.5 892.0,266.6 892.5,268.2 893.0,267.9 893.5,268.2 894.0,267.6 894.5,268.5 895.0,267.3 895.5,266.6 896.0,267.8 896.5,268.1 897.0,267.7 897.5,269.2 898.0,268.3 898.5,268.2 899.0,270.2 899.5,268.2 900.0,266.6 900.5,268.4 901.0,270.0 901.5,269.9 902.0,269.9 902.5,269.8 903.0,269.2 903.5,268.4 904.0,269.0 904.5,269.7 905.0,269.0 905.5,269.0 906.0,267.6 906.5,268.1 907.0,267.7 907.5,269.1 908.0,268.9 908.5,269.4 909.0,269.7 909.5,269.3 910.0,268.8 910.5,269.0 911.0,269.2 911.5,268.7 912.0,268.4 912.5,268.2 913.0,268.6 913.5,268.4 914.0,270.8 914.5,267.5 915.0,268.2 915.5,267.1 916.0,267.2 916.5,269.0 917.0,269.0 917.5,263.5 918.0,265.9 918.5,267.2 919.0,266.7 919.5,267.1 920.0,267.2 920.5,268.3 921.0,269.4 921.5,269.0 922.0,268.9 922.5,268.7 923.0,269.0 923.5,269.5 924.0,268.7 924.5,265.4 925.0,267.9 925.5,269.1 926.0,269.5 926.5,268.4 927.0,267.7 927.5,268.1 928.0,268.2 928.5,268.4 929.0,268.5 929.5,267.6 930.0,267.1 930.5,267.0 931.0,266.5 931.5,269.2 932.0,267.6 932.5,268.1 933.0,268.0 933.5,269.8 934.0,270.3 934.5,268.7 935.0,269.0 935.5,269.1 936.0,269.5 936.5,270.5 937.0,269.8 937.5,269.3 938.0,268.3 938.5,268.6 939.0,269.2 939.5,268.0 940.0,265.0 940.5,268.2 941.0,268.6 941.5,269.0 942.0,270.7 942.5,267.7 943.0,269.2 943.5,269.3 944.0,268.6 944.5,268.5 945.0,268.0 945.5,268.3 946.0,268.4 946.5,268.4 947.0,269.5 947.5,267.1 948.0,267.8 948.5,268.2 949.0,268.1 949.5,268.3 950.0,268.2 950.5,265.9 951.0,268.8 951.5,268.1 952.0,267.6 952.5,266.0 953.0,266.0 953.5,266.8 954.0,266.2 954.5,265.6 955.0,266.7 955.5,267.0 956.0,269.8 956.5,266.1 957.0,267.7 957.5,268.9 958.0,269.1 958.5,267.4 959.0,267.2 959.5,267.3 960.0,266.3 960.5,268.9 961.0,267.3 961.5,267.4 962.0,266.5 962.5,267.1 963.0,266.8 963.5,267.6 964.0,267.9 964.5,265.9 965.0,265.4 965.5,266.7 966.0,268.1 966.5,268.7 967.0,268.8 967.5,269.2 968.0,267.7 968.5,267.8 969.0,267.2 969.5,268.0 970.0,267.8 970.5,266.6 971.0,268.3 971.5,268.8 972.0,268.4 972.5,268.9 973.0,268.2 973.5,267.8 974.0,268.1 974.5,268.4 975.0,267.7 975.5,266.7 976.0,266.7 976.5,267.0 977.0,267.7 977.5,266.8 978.0,267.0 978.5,268.9 979.0,267.1 979.5,266.5 980.0,268.6 980.5,268.8 981.0,268.7 981.5,269.8 982.0,267.6 982.5,267.8 983.0,268.7 983.5,268.7 984.0,267.6 984.5,267.5 985.0,268.3 985.5,269.0 986.0,268.8 986.5,267.9 987.0,268.8 987.5,269.0 988.0,268.8 988.5,268.9 989.0,268.4 989.5,269.3 990.0,269.1 990.5,269.1 991.0,268.4 991.5,268.3 992.0,268.9 992.5,267.6 993.0,266.0 993.5,266.5 994.0,266.5 994.5,266.7 995.0,266.8 995.5,266.8 996.0,267.4 996.5,268.7 997.0,268.2 997.5,268.7 998.0,268.3 998.5,268.0 999.0,267.3 999.5,267.7 1000.0,266.8 1000.5,266.3 1001.0,266.0 1001.5,265.3 1002.0,265.9 1002.5,265.8 1003.0,264.7 1003.5,265.4 1004.0,266.1 1004.5,266.9 1005.0,267.8 1005.5,263.0 1006.0,267.7 1006.5,267.5 1007.0,267.6 1007.5,267.4 1008.0,267.3 1008.5,266.6 1009.0,266.3 1009.5,268.3 1010.0,265.2 1010.5,264.8 1011.0,265.0 1011.5,264.7 1012.0,265.3 1012.5,264.9 1013.0,265.7 1013.5,265.4 1014.0,264.7 1014.5,264.9 1015.0,266.0 1015.5,265.4 1016.0,265.6 1016.5,265.2 1017.0,266.6 1017.5,267.6 1018.0,266.4 1018.5,266.2 1019.0,265.8 1019.5,266.4 1020.0,266.3 1020.5,266.2 1021.0,264.7 1021.5,264.8 1022.0,265.6 1022.5,265.5"/>
<polyline fill="none" stroke="#ff0000" stroke-width="2.3" stroke-linejoin="round" stroke-linecap="round" points="1022.5,265.5 1023.6,264.5 1023.8,478.0"/>
<polyline fill="none" stroke="#008000" stroke-width="2.3" stroke-linejoin="round" stroke-linecap="round" points="119.8,272.0 120.2,236.0 120.7,215.0 121.7,204.0 122.7,199.3 126.6,200.3 128.5,193.5 130.4,189.6"/>
<polyline fill="none" stroke="#008000" stroke-width="3.0" stroke-linejoin="round" stroke-linecap="round" points="130.4,189.6 130.9,189.8 131.4,190.0 131.9,191.7 132.4,191.4 132.9,191.8 133.4,192.1 133.9,192.9 134.4,193.1 134.9,191.8 135.4,191.9 135.9,191.2 136.4,192.5 136.9,193.0 137.4,191.1 137.9,189.9 138.4,189.6 138.9,189.2 139.4,189.1 139.9,188.5 140.4,187.4 140.9,187.4 141.4,187.5 141.9,187.4 142.4,185.7 142.9,184.5 143.4,183.4 143.9,182.6 144.4,183.0 144.9,183.6 145.4,183.2 145.9,183.1 146.4,184.2 146.9,186.5 147.4,187.3 147.9,185.5 148.4,187.4 148.9,188.5 149.4,187.1 149.9,187.6 150.4,187.9 150.9,186.6 151.4,188.4 151.9,188.6 152.4,187.6 152.9,187.8 153.4,187.3 153.9,186.0 154.4,185.8 154.9,184.7 155.4,183.6 155.9,183.5 156.4,182.6 156.9,184.7 157.4,182.8 157.9,183.3 158.4,183.4 158.9,184.0 159.4,183.9 159.9,183.7 160.4,184.4 160.9,185.3 161.4,183.6 161.9,184.6 162.4,183.7 162.9,186.5 163.4,186.2 163.9,186.0 164.4,184.3 164.9,185.1 165.4,185.4 165.9,186.1 166.4,185.9 166.9,185.5 167.4,185.2 167.9,185.9 168.4,185.4 168.9,185.3 169.4,185.5 169.9,185.6 170.4,187.0 170.9,186.0 171.4,185.7 171.9,184.9 172.4,184.2 172.9,184.3 173.4,183.8 173.9,183.6 174.4,183.6 174.9,185.5 175.4,185.5 175.9,186.0 176.4,187.6 176.9,187.1 177.4,187.4 177.9,187.8 178.4,187.3 178.9,187.4 179.4,188.5 179.9,190.5 180.4,187.3 180.9,190.6 181.4,187.5 181.9,187.4 182.4,187.9 182.9,187.1 183.4,189.0 183.9,189.7 184.4,189.6 184.9,191.6 185.4,189.9 185.9,189.1 186.4,190.0 186.9,190.0 187.4,190.3 187.9,189.8 188.4,189.9 188.9,189.4 189.4,189.8 189.9,189.4 190.4,189.0 190.9,190.1 191.4,189.3 191.9,189.0 192.4,188.8 192.9,189.1 193.4,188.0 193.9,187.7 194.4,187.7 194.9,186.8 195.4,185.5 195.9,184.7 196.4,184.4 196.9,188.2 197.4,186.2 197.9,185.0 198.4,185.3 198.9,184.9 199.4,185.4 199.9,184.8 200.4,185.6 200.9,185.0 201.4,184.9 201.9,184.7 202.4,182.8 202.9,185.4 203.4,185.1 203.9,184.7 204.4,184.3 204.9,181.2 205.4,181.8 205.9,179.2 206.4,181.4 206.9,182.9 207.4,183.7 207.9,184.1 208.4,183.8 208.9,184.2 209.4,183.0 209.9,183.1 210.4,182.8 210.9,184.5 211.4,184.4 211.9,183.6 212.4,181.5 212.9,183.5 213.4,183.8 213.9,182.7 214.4,182.4 214.9,182.4 215.4,181.6 215.9,182.2 216.4,182.9 216.9,184.0 217.4,183.6 217.9,184.3 218.4,181.6 218.9,181.7 219.4,182.0 219.9,181.7 220.4,181.0 220.9,181.2 221.4,181.6 221.9,182.3 222.4,181.7 222.9,184.7 223.4,181.4 223.9,179.1 224.4,182.7 224.9,182.3 225.4,181.8 225.9,181.9 226.4,180.1 226.9,180.1 227.4,176.5 227.9,180.3 228.4,180.3 228.9,181.1 229.4,180.6 229.9,180.5 230.4,181.3 230.9,184.7 231.4,181.8 231.9,181.0 232.4,181.0 232.9,181.8 233.4,181.4 233.9,181.8 234.4,181.9 234.9,181.6 235.4,179.2 235.9,181.5 236.4,181.2 236.9,181.2 237.4,179.7 237.9,178.7 238.4,178.6 238.9,179.1 239.4,179.8 239.9,180.3 240.4,181.6 240.9,182.0 241.4,181.8 241.9,180.8 242.4,181.9 242.9,178.8 243.4,177.6 243.9,176.7 244.4,176.8 244.9,176.3 245.4,177.1 245.9,177.3 246.4,177.6 246.9,178.1 247.4,178.0 247.9,177.8 248.4,177.1 248.9,176.9 249.4,177.7 249.9,177.5 250.4,181.2 250.9,178.8 251.4,177.2 251.9,176.7 252.4,177.0 252.9,176.4 253.4,177.8 253.9,177.9 254.4,177.7 254.9,180.8 255.4,176.1 255.9,175.6 256.4,175.3 256.9,175.3 257.4,176.0 257.9,175.9 258.4,175.3 258.9,174.9 259.4,174.3 259.9,174.5 260.4,175.1 260.9,176.8 261.4,177.1 261.9,177.7 262.4,175.0 262.9,178.1 263.4,176.2 263.9,175.6 264.4,174.8 264.9,175.1 265.4,173.8 265.9,174.2 266.4,173.5 266.9,172.8 267.4,173.5 267.9,172.3 268.4,172.4 268.9,173.6 269.4,176.5 269.9,175.0 270.4,178.3 270.9,178.9 271.4,182.1 271.9,179.1 272.4,178.5 272.9,177.5 273.4,177.1 273.9,177.4 274.4,178.8 274.9,179.1 275.4,178.6 275.9,180.7 276.4,181.4 276.9,179.6 277.4,178.6 277.9,178.7 278.4,178.7 278.9,178.7 279.4,175.6 279.9,174.9 280.4,174.9 280.9,176.1 281.4,175.6 281.9,174.2 282.4,172.1 282.9,172.5 283.4,173.2 283.9,172.5 284.4,176.4 284.9,177.0 285.4,174.6 285.9,174.1 286.4,173.6 286.9,173.3 287.4,174.0 287.9,175.3 288.4,175.4 288.9,175.6 289.4,173.7 289.9,173.8 290.4,174.2 290.9,174.4 291.4,175.0 291.9,174.4 292.4,174.5 292.9,175.4 293.4,176.5 293.9,176.9 294.4,175.5 294.9,175.1 295.4,174.9 295.9,174.8 296.4,174.5 296.9,176.7 297.4,175.4 297.9,175.2 298.4,175.8 298.9,176.0 299.4,175.3 299.9,176.7 300.4,175.4 300.9,175.5 301.4,174.7 301.9,174.2 302.4,174.1 302.9,173.8 303.4,174.1 303.9,174.3 304.4,172.0 304.9,171.4 305.4,170.7 305.9,171.3 306.4,171.4 306.9,171.1 307.4,170.2 307.9,169.7 308.4,171.2 308.9,168.8 309.4,171.0 309.9,170.8 310.4,170.8 310.9,170.1 311.4,170.9 311.9,172.1 312.4,171.0 312.9,173.2 313.4,171.1 313.9,172.8 314.4,173.1 314.9,173.4 315.4,171.7 315.9,171.5 316.4,171.6 316.9,173.2 317.4,173.5 317.9,176.4 318.4,173.0 318.9,173.8 319.4,173.7 319.9,174.1 320.4,174.8 320.9,173.8 321.4,173.6 321.9,170.8 322.4,173.4 322.9,173.7 323.4,173.4 323.9,173.4 324.4,174.2 324.9,174.5 325.4,174.6 325.9,174.9 326.4,177.1 326.9,173.1 327.4,172.9 327.9,172.9 328.4,172.9 328.9,172.8 329.4,172.9 329.9,172.6 330.4,172.8 330.9,172.7 331.4,172.6 331.9,173.6 332.4,176.3 332.9,174.0 333.4,174.0 333.9,174.9 334.4,174.6 334.9,173.7 335.4,173.0 335.9,173.6 336.4,172.9 336.9,173.4 337.4,172.7 337.9,172.3 338.4,175.3 338.9,175.3 339.4,171.4 339.9,174.2 340.4,174.1 340.9,176.7 341.4,174.7 341.9,175.8 342.4,177.0 342.9,176.6 343.4,177.1 343.9,176.6 344.4,176.9 344.9,177.0 345.4,175.2 345.9,174.2 346.4,174.1 346.9,173.3 347.4,174.1 347.9,172.5 348.4,172.3 348.9,172.3 349.4,174.3 349.9,174.0 350.4,171.5 350.9,172.9 351.4,172.7 351.9,172.3 352.4,172.0 352.9,171.6 353.4,172.0 353.9,170.2 354.4,171.0 354.9,171.4 355.4,173.0 355.9,173.2 356.4,171.8 356.9,171.9 357.4,172.1 357.9,171.6 358.4,170.9 358.9,171.5 359.4,170.1 359.9,171.6 360.4,170.9 360.9,172.2 361.4,172.0 361.9,173.2 362.4,172.8 362.9,172.3 363.4,168.9 363.9,170.4 364.4,170.0 364.9,170.4 365.4,170.3 365.9,170.4 366.4,171.8 366.9,169.9 367.4,169.5 367.9,171.1 368.4,170.7 368.9,168.6 369.4,168.3 369.9,167.8 370.4,169.0 370.9,169.2 371.4,170.4 371.9,170.6 372.4,170.6 372.9,170.3 373.4,170.4 373.9,170.3 374.4,169.5 374.9,169.6 375.4,168.7 375.9,170.7 376.4,171.5 376.9,172.2 377.4,171.1 377.9,171.4 378.4,172.2 378.9,169.7 379.4,172.2 379.9,172.1 380.4,172.2 380.9,169.6 381.4,172.3 381.9,171.6 382.4,172.5 382.9,173.5 383.4,173.9 383.9,173.0 384.4,172.7 384.9,173.1 385.4,172.1 385.9,171.1 386.4,171.3 386.9,173.2 387.4,173.2 387.9,173.7 388.4,173.6 388.9,174.1 389.4,174.7 389.9,173.8 390.4,171.4 390.9,174.6 391.4,173.6 391.9,174.1 392.4,174.8 392.9,174.7 393.4,175.4 393.9,173.7 394.4,173.3 394.9,174.3 395.4,173.7 395.9,173.3 396.4,171.2 396.9,170.1 397.4,170.5 397.9,170.0 398.4,170.8 398.9,169.8 399.4,169.2 399.9,169.8 400.4,169.9 400.9,171.2 401.4,169.6 401.9,169.4 402.4,169.4 402.9,168.7 403.4,167.6 403.9,167.1 404.4,168.6 404.9,167.0 405.4,166.8 405.9,167.5 406.4,168.4 406.9,167.5 407.4,167.3 407.9,167.5 408.4,168.6 408.9,167.9 409.4,168.1 409.9,167.3 410.4,170.2 410.9,171.0 411.4,169.1 411.9,169.4 412.4,168.4 412.9,169.3 413.4,169.2 413.9,167.0 414.4,166.8 414.9,169.7 415.4,168.6 415.9,169.5 416.4,169.1 416.9,168.1 417.4,169.4 417.9,170.1 418.4,170.8 418.9,170.1 419.4,171.3 419.9,170.8 420.4,170.7 420.9,171.2 421.4,171.4 421.9,170.3 422.4,170.8 422.9,171.3 423.4,171.1 423.9,172.0 424.4,172.4 424.9,172.3 425.4,172.8 425.9,174.2 426.4,173.4 426.9,174.1 427.4,174.0 427.9,173.7 428.4,173.4 428.9,174.0 429.4,171.6 429.9,174.0 430.4,171.4 430.9,171.7 431.4,171.8 431.9,171.8 432.4,171.2 432.9,169.9 433.4,173.6 433.9,174.1 434.4,173.3 434.9,172.4 435.4,174.7 435.9,171.6 436.4,174.8 436.9,172.4 437.4,174.5 437.9,175.5 438.4,174.6 438.9,174.4 439.4,173.9 439.9,171.3 440.4,174.7 440.9,173.6 441.4,173.2 441.9,173.3 442.4,172.7 442.9,172.9 443.4,172.0 443.9,172.2 444.4,172.7 444.9,173.3 445.4,174.1 445.9,174.6 446.4,174.4 446.9,173.0 447.4,173.0 447.9,173.1 448.4,175.2 448.9,173.3 449.4,173.6 449.9,173.9 450.4,173.5 450.9,172.9 451.4,172.8 451.9,171.7 452.4,171.7 452.9,171.3 453.4,172.4 453.9,172.8 454.4,172.6 454.9,171.3 455.4,171.7 455.9,171.2 456.4,171.0 456.9,171.6 457.4,172.2 457.9,173.4 458.4,173.1 458.9,172.1 459.4,172.4 459.9,172.9 460.4,170.2 460.9,171.2 461.4,170.2 461.9,170.1 462.4,170.3 462.9,170.4 463.4,171.2 463.9,171.6 464.4,171.3 464.9,171.7 465.4,171.1 465.9,171.4 466.4,171.2 466.9,168.7 467.4,168.2 467.9,171.0 468.4,171.1 468.9,170.0 469.4,169.5 469.9,169.5 470.4,169.9 470.9,171.1 471.4,168.7 471.9,168.4 472.4,170.2 472.9,169.8 473.4,166.4 473.9,168.5 474.4,166.3 474.9,169.7 475.4,168.9 475.9,169.4 476.4,169.2 476.9,167.6 477.4,168.1 477.9,167.9 478.4,166.2 478.9,167.4 479.4,167.7 479.9,168.8 480.4,169.2 480.9,168.1 481.4,170.9 481.9,168.8 482.4,168.3 482.9,169.0 483.4,168.4 483.9,168.6 484.4,168.4 484.9,168.6 485.4,169.9 485.9,171.2 486.4,168.7 486.9,169.1 487.4,168.9 487.9,169.9 488.4,169.4 488.9,169.8 489.4,168.9 489.9,169.4 490.4,168.6 490.9,168.7 491.4,168.0 491.9,168.9 492.4,168.9 492.9,168.4 493.4,168.8 493.9,169.2 494.4,168.7 494.9,169.9 495.4,168.5 495.9,170.1 496.4,170.5 496.9,168.8 497.4,167.3 497.9,172.1 498.4,171.6 498.9,172.2 499.4,172.5 499.9,173.7 500.4,173.5 500.9,172.9 501.4,171.6 501.9,171.8 502.4,173.7 502.9,173.3 503.4,173.0 503.9,171.5 504.4,172.2 504.9,172.7 505.4,172.1 505.9,171.4 506.4,172.0 506.9,171.9 507.4,172.8 507.9,173.0 508.4,172.4 508.9,170.6 509.4,171.6 509.9,172.4 510.4,172.8 510.9,171.7 511.4,170.4 511.9,169.9 512.4,170.2 512.9,169.1 513.4,168.8 513.9,168.9 514.4,170.0 514.9,170.5 515.4,170.9 515.9,170.2 516.4,168.5 516.9,167.8 517.4,167.7 517.9,168.3 518.4,167.6 518.9,166.5 519.4,167.6 519.9,166.3 520.4,166.0 520.9,165.8 521.4,165.4 521.9,167.5 522.4,167.5 522.9,166.7 523.4,167.3 523.9,167.6 524.4,165.8 524.9,166.9 525.4,167.5 525.9,172.1 526.4,170.3 526.9,169.1 527.4,169.7 527.9,170.2 528.4,171.2 528.9,171.2 529.4,170.8 529.9,171.0 530.4,171.1 530.9,171.5 531.4,170.2 531.9,170.3 532.4,169.7 532.9,173.2 533.4,170.1 533.9,169.6 534.4,169.3 534.9,168.8 535.4,168.6 535.9,167.1 536.4,164.3 536.9,164.9 537.4,165.7 537.9,164.6 538.4,164.9 538.9,165.4 539.4,165.8 539.9,166.5 540.4,164.9 540.9,167.3 541.4,167.5 541.9,166.9 542.4,166.6 542.9,167.6 543.4,166.9 543.9,166.1 544.4,166.5 544.9,168.5 545.4,168.6 545.9,168.5 546.4,169.2 546.9,172.5 547.4,170.5 547.9,168.7 548.4,167.8 548.9,168.2 549.4,168.9 549.9,169.0 550.4,170.1 550.9,170.2 551.4,173.4 551.9,170.0 552.4,170.5 552.9,170.3 553.4,170.6 553.9,171.0 554.4,171.6 554.9,172.6 555.4,173.4 555.9,176.1 556.4,174.3 556.9,172.3 557.4,172.5 557.9,172.3 558.4,171.6 558.9,170.8 559.4,170.1 559.9,170.7 560.4,171.2 560.9,169.5 561.4,167.9 561.9,168.0 562.4,170.2 562.9,169.4 563.4,169.8 563.9,169.6 564.4,169.9 564.9,170.3 565.4,171.5 565.9,170.7 566.4,170.9 566.9,169.9"/>
<polyline fill="none" stroke="#008000" stroke-width="2.3" stroke-linejoin="round" stroke-linecap="round" points="566.9,169.9 567.3,168.0 568.3,320.0 569.5,445.0 570.5,462.0 571.5,462.0 573.8,300.0 576.5,180.0 577.5,171.8"/>
<polyline fill="none" stroke="#008000" stroke-width="3.0" stroke-linejoin="round" stroke-linecap="round" points="577.5,171.8 578.0,171.2 578.5,172.3 579.0,172.3 579.5,171.3 580.0,171.5 580.5,172.1 581.0,172.2 581.5,172.5 582.0,172.8 582.5,176.0 583.0,174.0 583.5,173.2 584.0,172.7 584.5,172.2 585.0,172.7 585.5,172.5 586.0,172.4 586.5,172.1 587.0,172.4 587.5,171.6 588.0,172.5 588.5,172.4 589.0,173.7 589.5,174.5 590.0,173.8 590.5,170.5 591.0,170.6 591.5,172.7 592.0,172.7 592.5,172.7 593.0,172.8 593.5,172.1 594.0,170.7 594.5,174.2 595.0,171.1 595.5,171.4 596.0,171.2 596.5,168.1 597.0,171.1 597.5,169.9 598.0,169.6 598.5,172.4 599.0,170.7 599.5,170.5 600.0,171.0 600.5,170.4 601.0,170.0 601.5,171.0 602.0,171.5 602.5,171.8 603.0,171.8 603.5,172.1 604.0,172.7 604.5,172.7 605.0,171.9 605.5,167.8 606.0,169.6 606.5,172.4 607.0,169.2 607.5,168.7 608.0,168.4 608.5,169.1 609.0,166.5 609.5,169.9 610.0,169.6 610.5,170.4 611.0,170.9 611.5,171.4 612.0,169.3 612.5,169.6 613.0,169.3 613.5,171.3 614.0,170.7 614.5,170.1 615.0,172.7 615.5,171.3 616.0,168.1 616.5,165.4 617.0,169.6 617.5,170.6 618.0,170.5 618.5,170.7 619.0,169.3 619.5,167.2 620.0,169.4 620.5,168.6 621.0,168.9 621.5,170.4 622.0,170.0 622.5,168.8 623.0,169.9 623.5,169.9 624.0,170.7 624.5,170.7 625.0,168.5 625.5,171.4 626.0,169.8 626.5,169.3 627.0,169.7 627.5,170.8 628.0,171.8 628.5,172.3 629.0,171.9 629.5,171.9 630.0,173.3 630.5,173.0 631.0,172.2 631.5,170.7 632.0,169.7 632.5,170.1 633.0,171.8 633.5,172.0 634.0,172.7 634.5,172.3 635.0,171.8 635.5,171.5 636.0,171.8 636.5,171.1 637.0,172.0 637.5,171.7 638.0,172.1 638.5,172.9 639.0,173.3 639.5,172.6 640.0,172.1 640.5,173.3 641.0,174.7 641.5,174.3 642.0,174.1 642.5,173.9 643.0,176.1 643.5,172.7 644.0,172.8 644.5,174.5 645.0,173.6 645.5,173.8 646.0,173.1 646.5,173.8 647.0,173.8 647.5,171.1 648.0,171.5 648.5,173.0 649.0,172.7 649.5,173.2 650.0,172.5 650.5,172.2 651.0,172.8 651.5,174.1 652.0,173.9 652.5,173.9 653.0,173.4 653.5,173.0 654.0,173.7 654.5,173.7 655.0,173.6 655.5,173.7 656.0,175.0 656.5,174.0 657.0,174.4 657.5,174.9 658.0,174.9 658.5,174.1 659.0,173.4 659.5,173.5 660.0,174.9 660.5,171.1 661.0,172.0 661.5,169.2 662.0,172.7 662.5,173.3 663.0,173.1 663.5,173.2 664.0,172.8 664.5,172.7 665.0,174.4 665.5,173.4 666.0,172.6 666.5,173.3 667.0,173.3 667.5,173.1 668.0,172.3 668.5,172.4 669.0,174.4 669.5,175.0 670.0,175.3 670.5,175.3 671.0,174.7 671.5,174.6 672.0,173.9 672.5,173.8 673.0,174.0 673.5,175.8 674.0,175.2 674.5,175.7 675.0,175.1 675.5,174.6 676.0,173.9 676.5,174.5 677.0,173.0 677.5,172.2 678.0,174.3 678.5,174.3 679.0,175.2 679.5,174.0 680.0,173.3 680.5,174.4 681.0,175.6 681.5,174.7 682.0,173.7 682.5,173.3 683.0,172.7 683.5,172.3 684.0,172.8 684.5,172.5 685.0,172.7 685.5,172.3 686.0,172.1 686.5,173.6 687.0,173.8 687.5,173.4 688.0,173.8 688.5,172.5 689.0,172.7 689.5,169.9 690.0,172.9 690.5,172.7 691.0,170.1 691.5,173.0 692.0,173.9 692.5,173.6 693.0,175.5 693.5,172.3 694.0,172.3 694.5,174.2 695.0,170.3 695.5,170.2 696.0,172.6 696.5,170.0 697.0,170.1 697.5,170.9 698.0,173.0 698.5,173.2 699.0,173.0 699.5,173.0 700.0,172.7 700.5,173.0 701.0,173.2 701.5,173.1 702.0,173.6 702.5,174.5 703.0,174.3 703.5,174.3 704.0,173.0 704.5,172.6 705.0,173.8 705.5,173.7 706.0,172.3 706.5,171.7 707.0,171.8 707.5,173.3 708.0,172.7 708.5,172.1 709.0,171.6 709.5,171.5 710.0,172.3 710.5,171.7 711.0,170.8 711.5,171.5 712.0,172.4 712.5,172.4 713.0,172.8 713.5,170.7 714.0,172.5 714.5,173.5 715.0,173.5 715.5,173.0 716.0,173.4 716.5,173.3 717.0,173.9 717.5,173.1 718.0,172.6 718.5,171.6 719.0,172.6 719.5,170.4 720.0,170.1 720.5,170.5 721.0,170.6 721.5,170.8 722.0,170.8 722.5,170.9 723.0,170.7 723.5,171.4 724.0,171.3 724.5,171.9 725.0,172.5 725.5,173.0 726.0,171.0 726.5,171.6 727.0,171.7 727.5,172.6 728.0,172.4 728.5,171.5 729.0,172.5 729.5,173.7 730.0,173.1 730.5,172.5 731.0,171.4 731.5,171.4 732.0,171.2 732.5,170.9 733.0,170.3 733.5,171.3 734.0,170.7 734.5,170.7 735.0,171.7 735.5,171.0 736.0,172.6 736.5,172.5 737.0,172.1 737.5,172.2 738.0,172.0 738.5,171.4 739.0,171.6 739.5,172.5 740.0,168.0 740.5,171.2 741.0,170.8 741.5,171.0 742.0,169.6 742.5,170.0 743.0,170.7 743.5,171.0 744.0,173.5 744.5,173.6 745.0,172.8 745.5,173.1 746.0,172.1 746.5,172.1 747.0,172.7 747.5,174.2 748.0,172.0 748.5,172.3 749.0,172.2 749.5,173.6 750.0,171.6 750.5,172.9 751.0,173.9 751.5,175.5 752.0,174.7 752.5,175.0 753.0,175.2 753.5,175.4 754.0,175.4 754.5,174.5 755.0,174.8 755.5,174.8 756.0,174.3 756.5,175.1 757.0,172.1 757.5,173.3 758.0,173.2 758.5,173.0 759.0,174.3 759.5,174.3 760.0,174.4 760.5,175.0 761.0,173.4 761.5,173.6 762.0,173.8 762.5,174.0 763.0,174.0 763.5,173.9 764.0,173.2 764.5,174.2 765.0,174.9 765.5,174.1 766.0,171.9 766.5,174.4 767.0,173.2 767.5,173.7 768.0,177.1 768.5,172.5 769.0,172.9 769.5,174.7 770.0,174.8 770.5,175.2 771.0,174.3 771.5,171.4 772.0,173.9 772.5,174.4 773.0,175.9 773.5,175.7 774.0,175.1 774.5,173.3 775.0,173.2 775.5,173.7 776.0,172.8 776.5,169.8 777.0,173.2 777.5,176.0 778.0,173.7 778.5,173.0 779.0,173.7 779.5,173.9 780.0,175.7 780.5,174.8 781.0,173.8 781.5,176.6 782.0,174.9 782.5,174.6 783.0,175.5 783.5,173.3 784.0,173.8 784.5,176.6 785.0,175.1 785.5,175.2 786.0,174.6 786.5,173.5 787.0,175.1 787.5,174.6 788.0,174.3 788.5,171.5 789.0,173.3 789.5,173.3 790.0,173.4 790.5,173.7 791.0,171.2 791.5,174.1 792.0,173.9 792.5,173.8 793.0,173.9 793.5,174.2 794.0,171.7 794.5,171.9 795.0,171.9 795.5,173.1 796.0,173.6 796.5,173.1 797.0,172.1 797.5,172.7 798.0,172.3 798.5,171.3 799.0,173.0 799.5,172.3 800.0,171.0 800.5,170.6 801.0,171.3 801.5,171.2 802.0,172.6 802.5,172.6 803.0,173.3 803.5,172.9 804.0,173.1 804.5,172.5 805.0,171.0 805.5,171.4 806.0,171.6 806.5,171.4 807.0,171.8 807.5,171.7 808.0,174.0 808.5,173.2 809.0,172.3 809.5,172.0 810.0,171.7 810.5,170.5 811.0,171.6 811.5,170.4 812.0,170.8 812.5,172.6 813.0,172.1 813.5,172.0 814.0,173.1 814.5,170.3 815.0,172.4 815.5,169.6 816.0,169.5 816.5,170.4 817.0,171.7 817.5,171.5 818.0,172.2 818.5,173.8 819.0,174.7 819.5,175.4 820.0,175.0 820.5,174.7 821.0,172.5 821.5,173.6 822.0,171.0 822.5,171.0 823.0,173.0 823.5,172.6 824.0,172.7 824.5,172.9 825.0,172.3 825.5,172.7 826.0,172.7 826.5,172.0 827.0,171.1 827.5,170.7 828.0,170.4 828.5,170.5 829.0,170.6 829.5,171.5 830.0,171.3 830.5,171.6 831.0,169.8 831.5,170.4 832.0,171.1 832.5,170.4 833.0,168.8 833.5,171.3 834.0,171.7 834.5,173.1 835.0,172.4 835.5,171.9 836.0,172.6 836.5,172.6 837.0,172.2 837.5,172.3 838.0,172.3 838.5,171.9 839.0,171.4 839.5,171.3 840.0,170.7 840.5,171.4 841.0,171.1 841.5,170.0 842.0,170.2 842.5,171.3 843.0,173.2 843.5,173.3 844.0,171.9 844.5,171.4 845.0,171.7 845.5,172.2 846.0,172.2 846.5,173.3 847.0,173.8 847.5,173.5 848.0,174.1 848.5,172.5 849.0,172.2 849.5,172.7 850.0,173.1 850.5,173.8 851.0,173.9 851.5,173.8 852.0,172.9 852.5,172.9 853.0,168.6 853.5,171.0 854.0,170.7 854.5,171.6 855.0,171.3 855.5,171.8 856.0,172.5 856.5,173.2 857.0,174.1 857.5,174.1 858.0,172.6 858.5,172.8 859.0,172.7 859.5,171.1 860.0,172.1 860.5,171.7 861.0,172.0 861.5,172.5 862.0,172.7 862.5,173.0 863.0,173.3 863.5,173.8 864.0,172.1 864.5,171.5 865.0,173.7 865.5,173.6 866.0,173.0 866.5,173.4 867.0,171.9 867.5,174.8 868.0,172.3 868.5,173.1 869.0,174.9 869.5,172.1 870.0,171.5 870.5,169.1 871.0,174.8 871.5,172.4 872.0,172.2 872.5,171.8 873.0,173.4 873.5,173.4 874.0,173.0 874.5,175.0 875.0,170.9 875.5,171.8 876.0,174.7 876.5,171.4 877.0,173.5 877.5,172.3 878.0,171.9 878.5,172.4 879.0,171.3 879.5,175.4 880.0,173.5 880.5,173.3 881.0,173.5 881.5,173.7 882.0,173.8 882.5,170.1 883.0,172.4 883.5,173.8 884.0,173.1 884.5,172.1 885.0,171.0 885.5,171.1 886.0,173.3 886.5,174.2 887.0,174.2 887.5,172.6 888.0,173.1 888.5,171.3 889.0,171.0 889.5,172.2 890.0,169.6 890.5,169.2 891.0,169.1 891.5,171.8 892.0,169.5 892.5,169.2 893.0,170.3 893.5,170.6 894.0,171.4 894.5,172.1 895.0,173.4 895.5,169.7 896.0,172.3 896.5,172.2 897.0,174.4 897.5,173.5 898.0,173.2 898.5,171.2 899.0,168.3 899.5,172.0 900.0,172.5 900.5,171.9 901.0,171.3 901.5,171.7 902.0,174.1 902.5,171.8 903.0,171.6 903.5,173.5 904.0,173.3 904.5,173.7 905.0,173.4 905.5,172.3 906.0,172.2 906.5,171.4 907.0,170.6 907.5,170.0 908.0,170.2 908.5,170.5 909.0,170.7 909.5,171.1 910.0,171.7 910.5,173.7 911.0,172.1 911.5,172.0 912.0,174.4 912.5,172.0 913.0,172.5 913.5,172.2 914.0,172.2 914.5,173.1 915.0,172.8 915.5,173.2 916.0,172.0 916.5,169.6 917.0,172.2 917.5,172.9 918.0,171.9 918.5,172.7 919.0,173.6 919.5,172.3 920.0,172.2 920.5,173.0 921.0,173.0 921.5,172.9 922.0,172.6 922.5,173.0 923.0,172.6 923.5,175.5 924.0,173.2 924.5,173.2 925.0,171.4 925.5,172.0 926.0,171.3 926.5,171.1 927.0,170.8 927.5,171.5 928.0,173.4 928.5,173.4 929.0,173.4 929.5,173.5 930.0,173.7 930.5,173.9 931.0,173.4 931.5,172.9 932.0,173.1 932.5,173.3 933.0,173.7 933.5,173.7 934.0,173.0 934.5,172.7 935.0,174.0 935.5,173.7 936.0,173.3 936.5,168.5 937.0,171.1 937.5,171.6 938.0,172.2 938.5,174.7 939.0,171.5 939.5,171.5 940.0,171.3 940.5,171.9 941.0,174.0 941.5,173.1 942.0,172.4 942.5,172.5 943.0,169.6 943.5,172.4 944.0,169.2 944.5,172.4 945.0,172.0 945.5,172.2 946.0,173.0 946.5,173.3 947.0,173.7 947.5,173.4 948.0,173.3 948.5,172.5 949.0,172.3 949.5,170.8 950.0,170.8 950.5,170.3 951.0,170.6 951.5,170.3 952.0,171.2 952.5,171.2 953.0,170.9 953.5,171.1 954.0,172.4 954.5,171.4 955.0,171.4 955.5,172.7 956.0,173.1 956.5,173.3 957.0,173.0 957.5,173.3 958.0,173.4 958.5,172.3 959.0,173.0 959.5,172.9 960.0,173.1 960.5,173.0 961.0,172.5 961.5,174.5 962.0,174.6 962.5,174.8 963.0,173.0 963.5,174.6 964.0,173.8 964.5,174.0 965.0,173.8 965.5,170.2 966.0,172.2 966.5,172.2 967.0,173.3 967.5,169.7 968.0,171.6 968.5,171.5 969.0,171.5 969.5,170.7 970.0,170.7 970.5,171.2 971.0,171.7 971.5,174.5 972.0,173.5 972.5,173.9 973.0,174.1 973.5,174.0 974.0,173.1 974.5,170.8 975.0,170.9 975.5,170.5 976.0,169.9 976.5,174.5 977.0,172.0 977.5,170.7 978.0,173.5 978.5,173.6 979.0,174.7 979.5,173.6 980.0,173.7 980.5,176.1 981.0,173.0 981.5,170.5 982.0,173.7 982.5,173.2 983.0,172.2 983.5,172.5 984.0,173.9 984.5,170.9 985.0,171.3 985.5,172.4 986.0,171.8 986.5,172.6 987.0,173.3 987.5,173.6 988.0,172.8 988.5,172.3 989.0,171.3 989.5,170.7 990.0,170.2 990.5,171.2 991.0,171.5 991.5,173.9 992.0,174.1 992.5,171.9 993.0,172.8 993.5,175.3 994.0,175.0 994.5,174.6 995.0,173.3 995.5,173.2 996.0,177.9 996.5,174.7 997.0,173.6 997.5,172.9 998.0,173.5 998.5,173.2 999.0,172.3 999.5,173.3 1000.0,173.4 1000.5,174.0 1001.0,173.8 1001.5,171.6 1002.0,172.0 1002.5,172.0 1003.0,172.2 1003.5,174.4 1004.0,174.5 1004.5,176.6 1005.0,173.5 1005.5,173.4 1006.0,172.9 1006.5,170.7 1007.0,169.9 1007.5,170.4 1008.0,171.0 1008.5,169.9 1009.0,170.1 1009.5,170.2 1010.0,170.8 1010.5,171.3 1011.0,172.7 1011.5,170.7 1012.0,170.0 1012.5,169.7 1013.0,170.5 1013.5,170.7 1014.0,171.5 1014.5,170.5 1015.0,170.3 1015.5,170.7 1016.0,171.2 1016.5,171.6 1017.0,170.7 1017.5,170.5 1018.0,170.4 1018.5,170.0 1019.0,170.6 1019.5,170.5 1020.0,169.1 1020.5,168.3 1021.0,168.3 1021.5,170.1 1022.0,171.2 1022.5,168.6"/>
<polyline fill="none" stroke="#008000" stroke-width="2.3" stroke-linejoin="round" stroke-linecap="round" points="1022.5,168.6 1023.6,172.5 1023.8,478.0"/>
<polyline fill="none" stroke="#000000" stroke-width="2.6" stroke-linejoin="round" stroke-linecap="round" points="118.6,478.5 118.7,171.0 119.7,170.0 119.9,141.0 121.0,137.0 122.3,131.0 124.1,129.3 126.6,127.4 131.6,124.3 136.0,120.3"/>
<polyline fill="none" stroke="#000000" stroke-width="3.1" stroke-linejoin="round" stroke-linecap="round" points="136.0,120.3 136.5,119.8 137.0,122.4 137.5,121.8 138.0,121.5 138.5,121.0 139.0,121.3 139.5,120.3 140.0,120.4 140.5,121.4 141.0,121.8 141.5,121.0 142.0,119.8 142.5,119.9 143.0,119.6 143.5,119.9 144.0,119.9 144.5,120.0 145.0,120.6 145.5,121.2 146.0,121.7 146.5,123.3 147.0,122.9 147.5,122.3 148.0,117.9 148.5,120.2 149.0,121.1 149.5,119.8 150.0,119.6 150.5,119.1 151.0,118.9 151.5,120.0 152.0,119.9 152.5,119.7 153.0,119.3 153.5,119.5 154.0,119.7 154.5,119.1 155.0,118.7 155.5,118.2 156.0,117.8 156.5,119.8 157.0,119.0 157.5,118.8 158.0,119.3 158.5,116.4 159.0,117.9 159.5,117.8 160.0,117.5 160.5,116.3 161.0,115.4 161.5,115.3 162.0,116.2 162.5,114.9 163.0,114.8 163.5,114.0 164.0,114.3 164.5,115.7 165.0,115.4 165.5,114.5 166.0,117.1 166.5,114.2 167.0,115.0 167.5,114.6 168.0,114.9 168.5,113.1 169.0,114.0 169.5,115.1 170.0,115.2 170.5,116.9 171.0,114.3 171.5,115.2 172.0,114.4 172.5,113.3 173.0,114.4 173.5,114.5 174.0,115.3 174.5,116.9 175.0,116.8 175.5,115.4 176.0,114.7 176.5,115.1 177.0,116.1 177.5,116.0 178.0,114.5 178.5,113.9 179.0,114.0 179.5,113.9 180.0,115.1 180.5,115.8 181.0,116.1 181.5,116.0 182.0,116.6 182.5,115.3 183.0,117.3 183.5,115.0 184.0,117.0 184.5,116.5 185.0,116.1 185.5,115.9 186.0,115.5 186.5,117.0 187.0,116.4 187.5,116.1 188.0,115.3 188.5,112.3 189.0,112.5 189.5,114.8 190.0,115.4 190.5,114.5 191.0,114.9 191.5,116.2 192.0,114.5 192.5,114.2 193.0,113.8 193.5,113.2 194.0,113.9 194.5,114.9 195.0,114.1 195.5,114.3 196.0,114.3 196.5,116.6 197.0,114.0 197.5,113.8 198.0,116.1 198.5,113.0 199.0,112.7 199.5,113.9 200.0,114.4 200.5,112.1 201.0,114.8 201.5,115.3 202.0,115.0 202.5,114.0 203.0,117.1 203.5,114.5 204.0,114.1 204.5,115.5 205.0,115.1 205.5,114.9 206.0,113.6 206.5,112.8 207.0,114.8 207.5,114.8 208.0,114.5 208.5,113.2 209.0,113.5 209.5,114.1 210.0,113.6 210.5,112.6 211.0,113.1 211.5,114.7 212.0,115.3 212.5,116.0 213.0,115.7 213.5,115.3 214.0,115.5 214.5,115.3 215.0,113.9 215.5,113.7 216.0,112.9 216.5,112.2 217.0,112.7 217.5,113.6 218.0,113.2 218.5,113.4 219.0,112.5 219.5,112.6 220.0,113.1 220.5,112.7 221.0,114.6 221.5,115.3 222.0,113.7 222.5,112.9 223.0,113.3 223.5,112.6 224.0,113.4 224.5,112.2 225.0,112.2 225.5,111.8 226.0,111.0 226.5,112.6 227.0,112.5 227.5,112.8 228.0,112.4 228.5,112.1 229.0,110.4 229.5,114.5 230.0,113.6 230.5,113.7 231.0,112.2 231.5,112.6 232.0,112.3 232.5,112.1 233.0,112.1 233.5,110.0 234.0,110.7 234.5,110.7 235.0,112.0 235.5,111.9 236.0,111.5 236.5,111.4 237.0,111.2 237.5,110.2 238.0,108.7 238.5,108.8 239.0,108.9 239.5,110.6 240.0,113.5 240.5,111.2 241.0,113.8 241.5,114.1 242.0,111.3 242.5,110.9 243.0,111.1 243.5,110.1 244.0,110.0 244.5,110.1 245.0,109.3 245.5,109.4 246.0,109.1 246.5,109.0 247.0,109.7 247.5,109.5 248.0,109.6 248.5,109.1 249.0,110.3 249.5,108.4 250.0,110.8 250.5,107.1 251.0,109.7 251.5,110.0 252.0,110.6 252.5,109.8 253.0,110.0 253.5,110.0 254.0,109.5 254.5,111.4 255.0,110.7 255.5,111.0 256.0,111.0 256.5,111.0 257.0,108.4 257.5,110.4 258.0,110.5 258.5,110.7 259.0,108.1 259.5,110.7 260.0,110.6 260.5,110.8 261.0,110.8 261.5,106.3 262.0,108.2 262.5,108.3 263.0,109.2 263.5,109.5 264.0,110.3 264.5,110.4 265.0,109.0 265.5,109.4 266.0,110.5 266.5,109.4 267.0,108.9 267.5,113.6 268.0,111.2 268.5,113.0 269.0,110.3 269.5,109.3 270.0,109.4 270.5,111.6 271.0,111.2 271.5,109.0 272.0,109.8 272.5,110.8 273.0,110.3 273.5,110.0 274.0,110.9 274.5,110.5 275.0,111.1 275.5,109.7 276.0,109.9 276.5,110.2 277.0,111.6 277.5,111.4 278.0,112.5 278.5,111.9 279.0,111.7 279.5,111.2 280.0,110.9 280.5,110.5 281.0,110.1 281.5,109.8 282.0,109.3 282.5,109.9 283.0,110.0 283.5,109.2 284.0,109.6 284.5,109.7 285.0,111.1 285.5,108.3 286.0,110.1 286.5,108.8 287.0,108.6 287.5,107.7 288.0,107.5 288.5,106.3 289.0,108.1 289.5,108.3 290.0,108.1 290.5,107.0 291.0,107.3 291.5,107.1 292.0,107.2 292.5,106.0 293.0,106.0 293.5,106.0 294.0,108.1 294.5,107.2 295.0,107.2 295.5,107.6 296.0,107.7 296.5,107.7 297.0,110.4 297.5,108.1 298.0,108.3 298.5,107.5 299.0,107.6 299.5,107.7 300.0,108.5 300.5,108.0 301.0,106.7 301.5,103.8 302.0,107.4 302.5,107.3 303.0,108.3 303.5,110.5 304.0,108.6 304.5,108.1 305.0,107.5 305.5,107.5 306.0,107.6 306.5,108.1 307.0,108.2 307.5,108.2 308.0,107.8 308.5,107.2 309.0,106.7 309.5,106.8 310.0,107.0 310.5,106.9 311.0,106.6 311.5,107.4 312.0,107.6 312.5,109.1 313.0,108.4 313.5,108.5 314.0,109.0 314.5,109.3 315.0,109.0 315.5,108.4 316.0,108.6 316.5,106.7 317.0,107.2 317.5,107.1 318.0,107.3 318.5,107.5 319.0,106.1 319.5,105.6 320.0,106.5 320.5,106.4 321.0,106.5 321.5,106.6 322.0,106.6 322.5,105.7 323.0,108.5 323.5,105.9 324.0,105.6 324.5,105.2 325.0,105.7 325.5,106.0 326.0,105.6 326.5,105.9 327.0,105.0 327.5,103.5 328.0,100.6 328.5,102.5 329.0,103.5 329.5,103.0 330.0,103.7 330.5,104.0 331.0,104.5 331.5,103.6 332.0,103.9 332.5,104.6 333.0,105.1 333.5,104.4 334.0,101.5 334.5,102.6 335.0,103.6 335.5,104.1 336.0,106.3 336.5,103.3 337.0,103.3 337.5,103.4 338.0,104.0 338.5,104.1 339.0,104.6 339.5,104.8 340.0,105.3 340.5,104.1 341.0,107.3 341.5,105.2 342.0,104.1 342.5,106.1 343.0,106.0 343.5,106.1 344.0,106.9 344.5,107.3 345.0,106.5 345.5,107.3 346.0,107.1 346.5,106.9 347.0,106.3 347.5,106.0 348.0,105.6 348.5,106.6 349.0,105.5 349.5,105.7 350.0,104.6 350.5,105.3 351.0,105.4 351.5,105.7 352.0,104.5 352.5,104.8 353.0,108.0 353.5,108.6 354.0,108.6 354.5,105.9 355.0,108.2 355.5,109.1 356.0,109.1 356.5,108.9 357.0,106.9 357.5,108.1 358.0,108.4 358.5,108.5 359.0,106.8 359.5,107.5 360.0,107.7 360.5,109.7 361.0,109.8 361.5,109.1 362.0,111.7 362.5,107.4 363.0,108.1 363.5,107.9 364.0,107.2 364.5,107.1 365.0,105.7 365.5,107.3 366.0,106.8 366.5,103.9 367.0,106.7 367.5,106.7 368.0,105.7 368.5,106.2 369.0,105.7 369.5,105.7 370.0,105.7 370.5,105.8 371.0,106.6 371.5,107.4 372.0,107.8 372.5,108.3 373.0,109.1 373.5,108.8 374.0,108.2 374.5,107.2 375.0,106.3 375.5,106.6 376.0,106.4 376.5,105.5 377.0,105.4 377.5,106.1 378.0,105.4 378.5,105.4 379.0,107.0 379.5,103.7 380.0,104.3 380.5,104.0 381.0,104.2 381.5,104.6 382.0,104.9 382.5,104.8 383.0,105.7 383.5,105.2 384.0,105.8 384.5,106.2 385.0,106.4 385.5,106.6 386.0,105.8 386.5,103.3 387.0,105.7 387.5,105.9 388.0,106.5 388.5,106.2 389.0,105.2 389.5,106.0 390.0,103.7 390.5,105.9 391.0,106.1 391.5,108.3 392.0,107.8 392.5,107.2 393.0,107.6 393.5,106.9 394.0,105.4 394.5,104.4 395.0,104.4 395.5,101.8 396.0,105.9 396.5,105.5 397.0,105.6 397.5,102.1 398.0,105.8 398.5,107.1 399.0,107.6 399.5,106.8 400.0,107.0 400.5,108.4 401.0,108.4 401.5,107.1 402.0,107.0 402.5,105.6 403.0,105.1 403.5,104.4 404.0,105.0 404.5,104.3 405.0,105.0 405.5,104.3 406.0,102.6 406.5,103.2 407.0,106.1 407.5,104.0 408.0,104.4 408.5,104.5 409.0,104.2 409.5,104.4 410.0,104.2 410.5,103.0 411.0,103.4 411.5,103.7 412.0,103.6 412.5,106.0 413.0,101.6 413.5,101.4 414.0,104.3 414.5,104.1 415.0,102.9 415.5,103.1 416.0,103.5 416.5,104.3 417.0,103.6 417.5,104.5 418.0,102.6 418.5,101.9 419.0,101.8 419.5,101.7 420.0,101.5 420.5,103.8 421.0,104.3 421.5,104.0 422.0,104.4 422.5,104.8 423.0,101.8 423.5,101.6 424.0,101.3 424.5,100.2 425.0,101.8 425.5,100.8 426.0,99.6 426.5,100.0 427.0,100.2 427.5,100.9 428.0,102.4 428.5,102.7 429.0,101.7 429.5,101.9 430.0,102.6 430.5,104.4 431.0,104.7 431.5,104.4 432.0,105.5 432.5,105.7 433.0,105.9 433.5,107.7 434.0,104.4 434.5,105.0 435.0,102.5 435.5,101.8 436.0,101.3 436.5,103.2 437.0,103.1 437.5,103.2 438.0,102.6 438.5,102.3 439.0,102.4 439.5,103.4 440.0,103.6 440.5,103.6 441.0,103.4 441.5,102.8 442.0,103.5 442.5,103.2 443.0,102.1 443.5,102.5 444.0,102.5 444.5,102.6 445.0,103.4 445.5,105.1 446.0,102.6 446.5,102.0 447.0,100.9 447.5,100.8 448.0,100.8 448.5,101.7 449.0,102.4 449.5,102.8 450.0,102.7 450.5,103.8 451.0,104.4 451.5,104.3 452.0,102.4 452.5,101.8 453.0,101.1 453.5,100.6 454.0,101.0 454.5,101.3 455.0,101.3 455.5,100.8 456.0,101.3 456.5,102.6 457.0,102.6 457.5,101.8 458.0,100.8 458.5,102.1 459.0,101.7 459.5,101.8 460.0,98.3 460.5,103.8 461.0,101.4 461.5,101.3 462.0,100.1 462.5,101.6 463.0,101.7 463.5,103.0 464.0,103.0 464.5,102.6 465.0,103.5 465.5,103.4 466.0,103.2 466.5,100.8 467.0,102.9 467.5,102.8 468.0,103.9 468.5,106.7 469.0,103.1 469.5,103.3 470.0,103.1 470.5,102.6 471.0,103.1 471.5,102.9 472.0,105.2 472.5,104.7 473.0,104.9 473.5,105.6 474.0,103.5 474.5,102.6 475.0,104.4 475.5,104.1 476.0,103.7 476.5,103.8 477.0,102.8 477.5,103.6 478.0,105.1 478.5,104.2 479.0,103.5 479.5,103.0 480.0,102.1 480.5,100.7 481.0,100.2 481.5,100.5 482.0,101.3 482.5,100.9 483.0,102.7 483.5,102.1 484.0,104.1 484.5,102.1 485.0,102.9 485.5,103.4 486.0,103.8 486.5,104.8 487.0,105.7 487.5,105.6 488.0,106.0 488.5,105.4 489.0,104.0 489.5,105.2 490.0,106.0 490.5,103.8 491.0,104.6 491.5,104.2 492.0,104.8 492.5,104.4 493.0,103.7 493.5,102.4 494.0,102.8 494.5,100.3 495.0,103.3 495.5,103.7 496.0,103.6 496.5,103.6 497.0,103.3 497.5,103.7 498.0,104.0 498.5,104.1 499.0,103.4 499.5,102.0 500.0,103.2 500.5,102.8 501.0,101.9 501.5,102.6 502.0,102.6 502.5,103.6 503.0,103.6 503.5,102.8 504.0,105.1 504.5,102.5 505.0,102.2 505.5,102.3 506.0,101.9 506.5,103.2 507.0,103.0 507.5,102.8 508.0,103.4 508.5,103.3 509.0,103.0 509.5,99.7 510.0,102.1 510.5,102.3 511.0,102.0 511.5,102.1 512.0,102.3 512.5,103.2 513.0,101.8 513.5,103.6 514.0,103.0 514.5,103.6 515.0,102.6 515.5,102.1 516.0,102.0 516.5,101.4 517.0,101.1 517.5,101.1 518.0,101.8 518.5,99.3 519.0,98.7 519.5,99.2 520.0,101.4 520.5,100.8 521.0,101.4 521.5,102.6 522.0,102.4 522.5,102.5 523.0,103.0 523.5,99.8 524.0,101.9 524.5,102.4 525.0,101.5 525.5,101.8 526.0,103.1 526.5,103.3 527.0,103.8 527.5,102.2 528.0,102.0 528.5,102.5 529.0,100.4 529.5,101.5 530.0,100.8 530.5,100.2 531.0,97.0 531.5,100.5 532.0,100.1 532.5,100.5 533.0,100.4 533.5,100.6 534.0,102.1 534.5,104.9 535.0,102.0 535.5,102.1 536.0,99.6 536.5,102.5 537.0,101.8 537.5,100.9 538.0,101.3 538.5,100.8 539.0,102.8 539.5,102.6 540.0,102.8 540.5,102.0 541.0,102.4 541.5,102.9 542.0,103.0 542.5,102.9 543.0,102.4 543.5,104.9 544.0,102.0 544.5,103.6 545.0,102.8 545.5,100.4 546.0,102.9 546.5,102.7 547.0,102.1 547.5,101.7 548.0,101.3 548.5,101.2 549.0,101.0 549.5,100.1 550.0,101.4 550.5,101.9 551.0,101.7 551.5,102.2 552.0,102.7 552.5,103.5 553.0,103.6 553.5,103.1 554.0,101.9 554.5,102.6 555.0,102.6 555.5,102.5 556.0,102.5 556.5,102.8 557.0,101.9 557.5,102.7 558.0,103.2 558.5,103.1 559.0,99.9 559.5,103.3 560.0,103.4 560.5,103.1 561.0,100.7 561.5,103.5 562.0,102.8 562.5,102.5 563.0,101.6 563.5,103.3 564.0,105.8 564.5,100.9 565.0,102.7 565.5,102.6 566.0,102.5 566.5,102.2 567.0,100.7"/>
<polyline fill="none" stroke="#000000" stroke-width="2.6" stroke-linejoin="round" stroke-linecap="round" points="567.0,100.7 567.8,101.5 568.5,300.0 569.2,420.0 570.3,462.0 571.5,462.0 572.6,400.0 573.6,300.0 575.6,160.0 577.0,105.0 577.6,98.7"/>
<polyline fill="none" stroke="#000000" stroke-width="3.1" stroke-linejoin="round" stroke-linecap="round" points="577.6,98.7 578.1,98.5 578.6,98.2 579.1,98.4 579.6,101.4 580.1,100.6 580.6,101.9 581.1,102.5 581.6,103.5 582.1,103.9 582.6,104.4 583.1,102.6 583.6,102.8 584.1,104.8 584.6,104.2 585.1,104.4 585.6,104.4 586.1,103.2 586.6,105.1 587.1,102.4 587.6,102.2 588.1,102.3 588.6,101.7 589.1,102.1 589.6,102.7 590.1,103.4 590.6,103.7 591.1,103.0 591.6,104.0 592.1,103.8 592.6,104.2 593.1,103.6 593.6,102.5 594.1,103.2 594.6,103.2 595.1,100.3 595.6,100.4 596.1,100.2 596.6,101.2 597.1,102.8 597.6,103.4 598.1,103.5 598.6,102.9 599.1,102.0 599.6,101.0 600.1,100.2 600.6,99.7 601.1,100.4 601.6,99.3 602.1,100.6 602.6,101.2 603.1,100.7 603.6,100.5 604.1,100.8 604.6,102.2 605.1,102.1 605.6,101.6 606.1,100.6 606.6,101.2 607.1,101.2 607.6,103.1 608.1,103.2 608.6,106.4 609.1,103.4 609.6,102.6 610.1,101.9 610.6,102.0 611.1,102.0 611.6,102.6 612.1,102.4 612.6,102.7 613.1,103.8 613.6,102.5 614.1,104.6 614.6,102.9 615.1,103.8 615.6,105.4 616.1,104.8 616.6,104.5 617.1,105.0 617.6,106.3 618.1,105.7 618.6,103.6 619.1,105.2 619.6,105.1 620.1,106.6 620.6,106.2 621.1,105.2 621.6,105.7 622.1,108.5 622.6,107.9 623.1,107.2 623.6,106.8 624.1,107.5 624.6,109.3 625.1,109.5 625.6,109.2 626.1,105.0 626.6,107.4 627.1,107.3 627.6,108.2 628.1,109.2 628.6,108.8 629.1,109.3 629.6,106.4 630.1,105.0 630.6,105.0 631.1,105.5 631.6,105.9 632.1,106.2 632.6,104.3 633.1,105.4 633.6,106.0 634.1,105.6 634.6,105.3 635.1,105.2 635.6,105.3 636.1,105.4 636.6,106.2 637.1,106.6 637.6,104.5 638.1,106.1 638.6,104.2 639.1,103.9 639.6,105.0 640.1,105.4 640.6,106.2 641.1,105.6 641.6,104.9 642.1,106.9 642.6,106.8 643.1,103.9 643.6,104.5 644.1,103.7 644.6,107.3 645.1,106.6 645.6,106.1 646.1,104.7 646.6,105.8 647.1,105.2 647.6,105.5 648.1,104.4 648.6,103.6 649.1,104.2 649.6,104.7 650.1,105.1 650.6,104.1 651.1,105.1 651.6,108.4 652.1,104.8 652.6,105.5 653.1,105.1 653.6,103.2 654.1,104.8 654.6,104.7 655.1,104.0 655.6,103.3 656.1,102.6 656.6,102.9 657.1,103.2 657.6,104.4 658.1,104.6 658.6,105.5 659.1,103.2 659.6,105.8 660.1,105.7 660.6,105.9 661.1,104.8 661.6,105.7 662.1,102.2 662.6,104.6 663.1,105.3 663.6,105.0 664.1,107.7 664.6,108.1 665.1,106.6 665.6,106.4 666.1,105.3 666.6,106.6 667.1,104.6 667.6,104.4 668.1,104.5 668.6,106.1 669.1,106.4 669.6,105.9 670.1,104.9 670.6,106.1 671.1,105.4 671.6,105.5 672.1,107.5 672.6,108.5 673.1,107.8 673.6,107.1 674.1,106.9 674.6,107.3 675.1,106.4 675.6,106.5 676.1,106.0 676.6,107.0 677.1,108.7 677.6,108.7 678.1,108.0 678.6,108.2 679.1,108.8 679.6,108.6 680.1,107.3 680.6,106.4 681.1,106.9 681.6,106.7 682.1,106.6 682.6,107.5 683.1,107.2 683.6,106.8 684.1,106.0 684.6,104.9 685.1,103.3 685.6,103.6 686.1,104.2 686.6,104.6 687.1,103.9 687.6,105.0 688.1,105.4 688.6,106.3 689.1,105.0 689.6,105.0 690.1,105.8 690.6,106.4 691.1,106.4 691.6,106.4 692.1,106.4 692.6,105.9 693.1,105.8 693.6,105.9 694.1,105.8 694.6,106.1 695.1,106.6 695.6,106.2 696.1,104.8 696.6,105.6 697.1,106.4 697.6,106.0 698.1,105.0 698.6,106.2 699.1,105.4 699.6,105.2 700.1,102.9 700.6,102.9 701.1,103.1 701.6,105.4 702.1,105.4 702.6,106.8 703.1,105.3 703.6,105.9 704.1,106.0 704.6,105.3 705.1,104.9 705.6,105.4 706.1,106.0 706.6,108.8 707.1,106.2 707.6,106.2 708.1,106.8 708.6,107.1 709.1,105.9 709.6,106.1 710.1,106.0 710.6,105.9 711.1,105.4 711.6,105.3 712.1,104.3 712.6,105.7 713.1,106.2 713.6,106.5 714.1,106.1 714.6,106.8 715.1,107.1 715.6,108.0 716.1,108.4 716.6,107.9 717.1,106.0 717.6,106.5 718.1,106.9 718.6,108.3 719.1,108.1 719.6,107.8 720.1,107.8 720.6,108.1 721.1,107.2 721.6,108.0 722.1,107.6 722.6,107.2 723.1,107.1 723.6,105.2 724.1,105.2 724.6,107.2 725.1,103.8 725.6,105.3 726.1,106.4 726.6,106.0 727.1,105.9 727.6,108.8 728.1,107.1 728.6,106.7 729.1,108.0 729.6,106.8 730.1,106.9 730.6,104.1 731.1,108.2 731.6,106.9 732.1,106.9 732.6,106.7 733.1,106.7 733.6,107.0 734.1,106.6 734.6,105.0 735.1,105.7 735.6,106.4 736.1,105.3 736.6,106.9 737.1,106.2 737.6,106.9 738.1,106.6 738.6,106.3 739.1,105.5 739.6,105.8 740.1,106.0 740.6,105.7 741.1,106.1 741.6,105.8 742.1,105.2 742.6,103.0 743.1,103.3 743.6,103.1 744.1,103.7 744.6,103.4 745.1,104.0 745.6,104.4 746.1,103.1 746.6,103.6 747.1,106.5 747.6,105.9 748.1,105.9 748.6,106.0 749.1,103.8 749.6,104.5 750.1,103.7 750.6,102.8 751.1,105.8 751.6,106.1 752.1,104.8 752.6,105.2 753.1,106.3 753.6,107.1 754.1,107.5 754.6,106.4 755.1,106.4 755.6,105.6 756.1,106.0 756.6,105.7 757.1,105.3 757.6,106.3 758.1,105.4 758.6,106.0 759.1,105.9 759.6,106.2 760.1,106.1 760.6,105.8 761.1,105.6 761.6,108.9 762.1,106.0 762.6,105.5 763.1,104.8 763.6,105.5 764.1,106.1 764.6,104.2 765.1,106.9 765.6,107.2 766.1,106.8 766.6,107.1 767.1,107.3 767.6,107.7 768.1,107.4 768.6,106.6 769.1,106.3 769.6,107.3 770.1,106.7 770.6,105.8 771.1,104.7 771.6,104.8 772.1,107.4 772.6,104.5 773.1,106.0 773.6,105.6 774.1,105.2 774.6,106.0 775.1,105.4 775.6,105.0 776.1,105.0 776.6,105.0 777.1,105.3 777.6,105.8 778.1,106.4 778.6,106.6 779.1,106.2 779.6,103.9 780.1,106.9 780.6,106.5 781.1,104.4 781.6,103.6 782.1,103.3 782.6,103.7 783.1,105.2 783.6,103.2 784.1,106.0 784.6,104.9 785.1,104.6 785.6,105.5 786.1,104.6 786.6,103.9 787.1,103.8 787.6,103.0 788.1,103.8 788.6,99.6 789.1,101.0 789.6,101.9 790.1,102.6 790.6,102.8 791.1,102.5 791.6,102.4 792.1,102.3 792.6,102.7 793.1,102.8 793.6,102.5 794.1,102.5 794.6,104.1 795.1,103.8 795.6,104.6 796.1,104.9 796.6,102.6 797.1,102.2 797.6,102.7 798.1,102.6 798.6,102.6 799.1,102.4 799.6,102.1 800.1,101.8 800.6,102.3 801.1,102.2 801.6,102.6 802.1,101.4 802.6,101.5 803.1,102.7 803.6,106.1 804.1,103.5 804.6,104.0 805.1,103.7 805.6,102.6 806.1,101.2 806.6,103.2 807.1,101.5 807.6,103.8 808.1,106.4 808.6,104.9 809.1,103.0 809.6,103.2 810.1,104.4 810.6,106.1 811.1,103.9 811.6,103.5 812.1,103.2 812.6,103.8 813.1,104.5 813.6,101.1 814.1,102.6 814.6,101.2 815.1,104.2 815.6,103.9 816.1,104.0 816.6,103.9 817.1,104.1 817.6,105.8 818.1,105.3 818.6,105.1 819.1,105.3 819.6,105.7 820.1,105.5 820.6,105.4 821.1,105.1 821.6,104.7 822.1,105.1 822.6,105.8 823.1,104.0 823.6,107.1 824.1,106.3 824.6,103.2 825.1,106.0 825.6,104.4 826.1,100.7 826.6,103.1 827.1,102.8 827.6,103.7 828.1,104.6 828.6,104.5 829.1,107.1 829.6,105.3 830.1,101.9 830.6,102.0 831.1,101.5 831.6,100.4 832.1,100.5 832.6,100.8 833.1,101.3 833.6,103.8 834.1,103.1 834.6,102.7 835.1,103.2 835.6,103.0 836.1,102.5 836.6,102.9 837.1,103.1 837.6,102.9 838.1,103.6 838.6,104.7 839.1,105.5 839.6,106.2 840.1,105.1 840.6,107.5 841.1,103.5 841.6,103.4 842.1,102.6 842.6,102.3 843.1,101.9 843.6,103.6 844.1,102.6 844.6,104.0 845.1,103.5 845.6,103.5 846.1,103.6 846.6,103.7 847.1,102.7 847.6,102.8 848.1,102.4 848.6,103.1 849.1,102.5 849.6,101.7 850.1,99.4 850.6,100.3 851.1,100.9 851.6,102.3 852.1,101.6 852.6,101.4 853.1,102.3 853.6,102.8 854.1,104.9 854.6,101.4 855.1,100.8 855.6,100.2 856.1,100.9 856.6,101.5 857.1,102.0 857.6,102.3 858.1,102.5 858.6,103.6 859.1,100.6 859.6,103.1 860.1,102.8 860.6,102.2 861.1,102.8 861.6,103.0 862.1,103.2 862.6,102.6 863.1,101.9 863.6,102.2 864.1,102.8 864.6,102.5 865.1,104.9 865.6,101.9 866.1,101.2 866.6,100.7 867.1,99.5 867.6,100.1 868.1,101.7 868.6,102.0 869.1,102.5 869.6,103.2 870.1,104.0 870.6,101.3 871.1,103.3 871.6,102.7 872.1,100.3 872.6,101.2 873.1,102.4 873.6,102.0 874.1,102.0 874.6,101.8 875.1,101.1 875.6,100.6 876.1,101.1 876.6,100.8 877.1,103.9 877.6,100.6 878.1,100.8 878.6,100.8 879.1,101.7 879.6,101.0 880.1,101.9 880.6,102.3 881.1,102.4 881.6,102.7 882.1,102.9 882.6,103.7 883.1,102.2 883.6,102.5 884.1,102.6 884.6,102.7 885.1,103.0 885.6,104.6 886.1,107.1 886.6,103.3 887.1,103.2 887.6,104.5 888.1,104.2 888.6,104.6 889.1,104.2 889.6,105.3 890.1,103.6 890.6,109.7 891.1,109.8 891.6,109.1 892.1,111.0 892.6,107.0 893.1,106.7 893.6,106.1 894.1,107.3 894.6,107.1 895.1,106.5 895.6,104.2 896.1,105.5 896.6,105.6 897.1,107.3 897.6,106.7 898.1,109.9 898.6,109.2 899.1,109.1 899.6,106.3 900.1,108.5 900.6,107.0 901.1,106.8 901.6,105.6 902.1,104.2 902.6,105.5 903.1,107.3 903.6,105.4 904.1,107.0 904.6,105.8 905.1,106.1 905.6,105.7 906.1,104.9 906.6,104.4 907.1,107.2 907.6,106.2 908.1,106.0 908.6,105.9 909.1,105.8 909.6,106.5 910.1,107.2 910.6,105.6 911.1,106.3 911.6,106.1 912.1,105.2 912.6,105.5 913.1,104.9 913.6,105.0 914.1,105.8 914.6,105.2 915.1,104.2 915.6,103.8 916.1,102.8 916.6,103.0 917.1,104.0 917.6,105.8 918.1,103.2 918.6,105.0 919.1,105.7 919.6,105.9 920.1,106.2 920.6,104.5 921.1,104.3 921.6,104.1 922.1,104.4 922.6,103.7 923.1,105.4 923.6,105.7 924.1,103.1 924.6,100.1 925.1,102.8 925.6,103.7 926.1,104.0 926.6,104.8 927.1,104.9 927.6,105.7 928.1,105.0 928.6,105.8 929.1,104.7 929.6,105.2 930.1,105.5 930.6,104.7 931.1,106.3 931.6,105.9 932.1,105.3 932.6,104.5 933.1,103.9 933.6,104.3 934.1,103.7 934.6,102.8 935.1,104.4 935.6,106.5 936.1,107.0 936.6,107.2 937.1,107.2 937.6,107.0 938.1,106.7 938.6,105.7 939.1,103.7 939.6,104.5 940.1,105.8 940.6,105.3 941.1,105.2 941.6,106.3 942.1,106.6 942.6,106.1 943.1,104.9 943.6,105.2 944.1,105.0 944.6,105.7 945.1,105.5 945.6,105.0 946.1,104.0 946.6,104.0 947.1,103.6 947.6,105.9 948.1,106.3 948.6,107.5 949.1,104.7 949.6,104.3 950.1,103.7 950.6,103.2 951.1,102.8 951.6,101.2 952.1,101.9 952.6,102.4 953.1,103.6 953.6,103.4 954.1,103.8 954.6,104.0 955.1,104.1 955.6,103.7 956.1,104.9 956.6,102.9 957.1,102.4 957.6,102.3 958.1,101.7 958.6,99.7 959.1,102.6 959.6,102.3 960.1,102.7 960.6,103.3 961.1,103.9 961.6,103.3 962.1,101.9 962.6,102.6 963.1,105.0 963.6,100.2 964.1,102.7 964.6,101.5 965.1,102.0 965.6,102.3 966.1,100.3 966.6,100.5 967.1,100.2 967.6,100.0 968.1,102.2 968.6,101.2 969.1,101.6 969.6,102.1 970.1,102.1 970.6,102.3 971.1,102.1 971.6,101.5 972.1,101.3 972.6,101.4 973.1,101.2 973.6,101.2 974.1,101.1 974.6,101.5 975.1,104.2 975.6,104.0 976.1,102.7 976.6,101.7 977.1,100.2 977.6,101.0 978.1,100.7 978.6,101.3 979.1,97.3 979.6,97.6 980.1,101.2 980.6,103.5 981.1,102.6 981.6,102.2 982.1,102.6 982.6,102.7 983.1,103.9 983.6,103.7 984.1,103.9 984.6,103.3 985.1,101.7 985.6,101.6 986.1,103.3 986.6,103.2 987.1,103.1 987.6,103.3 988.1,102.9 988.6,103.3 989.1,104.9 989.6,105.1 990.1,103.4 990.6,103.6 991.1,103.5 991.6,104.0 992.1,103.6 992.6,102.4 993.1,104.0 993.6,104.3 994.1,104.2 994.6,101.2 995.1,102.9 995.6,103.2 996.1,103.0 996.6,102.2 997.1,102.5 997.6,101.7 998.1,101.3 998.6,101.9 999.1,102.6 999.6,102.4 1000.1,101.7 1000.6,100.8 1001.1,100.6 1001.6,102.4 1002.1,102.2 1002.6,102.9 1003.1,100.2 1003.6,103.3 1004.1,104.1 1004.6,104.1 1005.1,102.2 1005.6,101.7 1006.1,101.6 1006.6,101.6 1007.1,102.2 1007.6,101.4 1008.1,102.4 1008.6,102.3 1009.1,102.2 1009.6,102.7 1010.1,102.8 1010.6,102.4 1011.1,100.8 1011.6,104.9 1012.1,104.8 1012.6,104.9 1013.1,105.1 1013.6,102.8 1014.1,102.4 1014.6,102.3 1015.1,102.6 1015.6,103.2 1016.1,103.5 1016.6,102.6 1017.1,104.8 1017.6,103.6 1018.1,103.4 1018.6,102.4 1019.1,100.4 1019.6,102.1 1020.1,102.1 1020.6,102.6 1021.1,101.3 1021.6,101.1 1022.1,102.5 1022.6,100.9 1023.1,101.6 1023.6,102.1"/>
<polyline fill="none" stroke="#000000" stroke-width="2.6" stroke-linejoin="round" stroke-linecap="round" points="1023.6,102.1 1025.0,101.0 1025.1,479.0"/>
<polyline fill="none" stroke="#ff0000" stroke-width="2.3" stroke-linejoin="round" stroke-linecap="round" points="119.3,956.7 119.8,892.0 121.8,871.0 123.7,863.5 126.1,857.0"/>
<polyline fill="none" stroke="#ff0000" stroke-width="3.0" stroke-linejoin="round" stroke-linecap="round" points="126.1,857.0 126.6,857.4 127.1,856.9 127.6,856.6 128.1,856.1 128.6,854.6 129.1,854.0 129.6,853.9 130.1,853.7 130.6,853.4 131.1,853.8 131.6,854.3 132.1,853.6 132.6,852.9 133.1,853.0 133.6,851.0 134.1,853.1 134.6,851.4 135.1,852.5 135.6,852.2 136.1,851.2 136.6,851.6 137.1,852.0 137.6,851.7 138.1,853.3 138.6,853.1 139.1,853.3 139.6,852.3 140.1,852.2 140.6,852.0 141.1,852.3 141.6,852.5 142.1,849.8 142.6,852.1 143.1,852.0 143.6,852.7 144.1,851.8 144.6,852.2 145.1,851.2 145.6,851.7 146.1,852.0 146.6,851.8 147.1,852.2 147.6,851.6 148.1,851.5 148.6,851.7 149.1,851.4 149.6,851.6 150.1,851.5 150.6,851.2 151.1,850.4 151.6,849.9 152.1,849.3 152.6,850.7 153.1,851.0 153.6,850.0 154.1,849.5 154.6,850.7 155.1,849.3 155.6,849.1 156.1,848.7 156.6,848.7 157.1,849.4 157.6,849.5 158.1,849.1 158.6,849.2 159.1,851.0 159.6,850.8 160.1,849.5 160.6,849.3 161.1,849.3 161.6,849.1 162.1,848.8 162.6,848.2 163.1,848.7 163.6,849.0 164.1,848.9 164.6,849.1 165.1,849.2 165.6,850.2 166.1,849.6 166.6,848.4 167.1,848.0 167.6,847.1 168.1,847.7 168.6,846.6 169.1,845.3 169.6,845.2 170.1,844.7 170.6,844.6 171.1,845.3 171.6,845.0 172.1,845.4 172.6,846.2 173.1,846.6 173.6,846.9 174.1,846.8 174.6,846.4 175.1,847.0 175.6,846.9 176.1,847.2 176.6,846.7 177.1,846.3 177.6,846.3 178.1,846.0 178.6,846.1 179.1,847.2 179.6,849.1 180.1,846.8 180.6,846.1 181.1,846.2 181.6,846.0 182.1,845.7 182.6,844.7 183.1,844.9 183.6,843.1 184.1,843.4 184.6,843.7 185.1,844.3 185.6,844.3 186.1,844.4 186.6,844.0 187.1,845.3 187.6,845.0 188.1,845.1 188.6,845.0 189.1,844.8 189.6,845.6 190.1,844.3 190.6,844.1 191.1,845.1 191.6,845.3 192.1,844.0 192.6,845.0 193.1,844.8 193.6,846.0 194.1,847.0 194.6,847.3 195.1,847.6 195.6,846.9 196.1,846.7 196.6,846.8 197.1,847.6 197.6,846.6 198.1,846.8 198.6,847.7 199.1,848.2 199.6,848.0 200.1,848.2 200.6,848.3 201.1,848.2 201.6,849.3 202.1,848.1 202.6,847.7 203.1,848.2 203.6,848.0 204.1,847.3 204.6,847.5 205.1,847.6 205.6,848.3 206.1,848.8 206.6,848.5 207.1,848.1 207.6,848.5 208.1,848.6 208.6,848.5 209.1,848.6 209.6,847.7 210.1,847.9 210.6,848.5 211.1,847.4 211.6,847.4 212.1,847.3 212.6,848.3 213.1,849.0 213.6,849.5 214.1,849.0 214.6,848.0 215.1,848.4 215.6,848.7 216.1,848.8 216.6,848.7 217.1,848.8 217.6,848.8 218.1,849.5 218.6,849.0 219.1,848.5 219.6,848.1 220.1,847.8 220.6,845.8 221.1,847.7 221.6,848.0 222.1,848.7 222.6,847.7 223.1,847.7 223.6,847.7 224.1,847.1 224.6,847.7 225.1,846.0 225.6,844.8 226.1,845.9 226.6,846.6 227.1,846.3 227.6,845.1 228.1,845.0 228.6,844.4 229.1,845.7 229.6,846.1 230.1,845.6 230.6,843.8 231.1,845.1 231.6,845.0 232.1,845.4 232.6,844.9 233.1,844.7 233.6,844.6 234.1,845.8 234.6,845.7 235.1,844.2 235.6,846.1 236.1,844.5 236.6,846.0 237.1,845.7 237.6,846.7 238.1,846.5 238.6,846.0 239.1,845.0 239.6,844.7 240.1,845.4 240.6,845.8 241.1,844.2 241.6,844.0 242.1,844.9 242.6,845.3 243.1,844.7 243.6,845.0 244.1,843.3 244.6,842.1 245.1,842.4 245.6,842.4 246.1,842.4 246.6,842.5 247.1,842.9 247.6,843.9 248.1,845.0 248.6,844.3 249.1,843.5 249.6,844.5 250.1,844.3 250.6,844.8 251.1,844.4 251.6,844.2 252.1,844.3 252.6,844.5 253.1,846.8 253.6,844.3 254.1,843.9 254.6,842.8 255.1,842.7 255.6,843.0 256.1,844.0 256.6,843.4 257.1,844.0 257.6,843.8 258.1,841.1 258.6,843.6 259.1,843.6 259.6,843.1 260.1,841.6 260.6,841.1 261.1,840.8 261.6,843.3 262.1,841.8 262.6,841.7 263.1,842.1 263.6,842.7 264.1,842.6 264.6,842.1 265.1,842.2 265.6,842.9 266.1,843.1 266.6,841.5 267.1,841.5 267.6,841.6 268.1,842.0 268.6,842.7 269.1,842.4 269.6,842.6 270.1,841.6 270.6,841.5 271.1,841.3 271.6,842.3 272.1,842.9 272.6,843.1 273.1,842.2 273.6,841.9 274.1,842.0 274.6,842.2 275.1,842.8 275.6,841.9 276.1,840.9 276.6,840.4 277.1,840.6 277.6,840.5 278.1,840.4 278.6,839.9 279.1,843.0 279.6,840.8 280.1,841.7 280.6,842.3 281.1,842.7 281.6,842.6 282.1,842.1 282.6,841.8 283.1,841.3 283.6,842.6 284.1,842.8 284.6,841.4 285.1,841.5 285.6,841.1 286.1,842.3 286.6,842.2 287.1,840.7 287.6,840.5 288.1,843.0 288.6,840.6 289.1,841.4 289.6,842.4 290.1,842.8 290.6,843.8 291.1,842.2 291.6,842.5 292.1,841.6 292.6,840.9 293.1,841.8 293.6,841.9 294.1,841.5 294.6,841.2 295.1,841.1 295.6,841.0 296.1,840.8 296.6,838.9 297.1,840.6 297.6,839.8 298.1,840.0 298.6,840.1 299.1,840.9 299.6,841.1 300.1,841.2 300.6,841.3 301.1,840.8 301.6,840.2 302.1,840.2 302.6,839.5 303.1,839.0 303.6,838.6 304.1,838.6 304.6,838.0 305.1,837.9 305.6,839.6 306.1,838.0 306.6,838.6 307.1,838.6 307.6,838.4 308.1,838.4 308.6,838.6 309.1,838.7 309.6,839.5 310.1,838.8 310.6,837.7 311.1,837.2 311.6,837.8 312.1,838.5 312.6,838.8 313.1,838.9 313.6,839.4 314.1,839.3 314.6,840.0 315.1,839.5 315.6,836.4 316.1,837.5 316.6,838.0 317.1,837.8 317.6,837.9 318.1,837.4 318.6,836.8 319.1,837.0 319.6,837.4 320.1,837.0 320.6,838.1 321.1,838.4 321.6,837.9 322.1,837.5 322.6,837.4 323.1,837.6 323.6,838.1 324.1,837.6 324.6,837.7 325.1,837.4 325.6,837.9 326.1,838.9 326.6,838.5 327.1,837.9 327.6,838.9 328.1,837.9 328.6,838.3 329.1,838.5 329.6,838.7 330.1,838.3 330.6,837.6 331.1,838.3 331.6,837.9 332.1,837.7 332.6,838.0 333.1,837.6 333.6,837.7 334.1,837.7 334.6,837.7 335.1,838.0 335.6,837.4 336.1,836.7 336.6,837.2 337.1,836.9 337.6,837.0 338.1,837.3 338.6,836.9 339.1,837.3 339.6,837.2 340.1,836.7 340.6,837.4 341.1,837.1 341.6,838.2 342.1,838.5 342.6,838.7 343.1,838.0 343.6,838.1 344.1,838.0 344.6,839.4 345.1,839.1 345.6,839.4 346.1,838.3 346.6,838.3 347.1,838.4 347.6,838.4 348.1,838.1 348.6,839.0 349.1,838.3 349.6,838.9 350.1,837.2 350.6,836.5 351.1,836.6 351.6,837.0 352.1,836.5 352.6,837.4 353.1,835.9 353.6,835.8 354.1,837.7 354.6,837.4 355.1,836.4 355.6,837.0 356.1,837.7 356.6,837.7 357.1,837.7 357.6,836.3 358.1,836.2 358.6,837.0 359.1,836.7 359.6,836.9 360.1,836.7 360.6,837.0 361.1,838.1 361.6,839.3 362.1,838.3 362.6,837.1 363.1,837.3 363.6,836.8 364.1,837.0 364.6,836.4 365.1,835.4 365.6,835.3 366.1,835.6 366.6,836.4 367.1,836.0 367.6,836.0 368.1,835.4 368.6,836.2 369.1,837.5 369.6,837.4 370.1,836.1 370.6,836.8 371.1,837.1 371.6,836.0 372.1,837.6 372.6,837.7 373.1,837.3 373.6,837.8 374.1,837.9 374.6,837.4 375.1,837.2 375.6,836.4 376.1,836.7 376.6,837.4 377.1,838.1 377.6,838.9 378.1,839.0 378.6,838.8 379.1,839.6 379.6,839.5 380.1,838.5 380.6,838.0 381.1,834.8 381.6,837.1 382.1,837.3 382.6,837.3 383.1,838.5 383.6,838.7 384.1,838.3 384.6,838.5 385.1,837.5 385.6,837.5 386.1,837.3 386.6,836.7 387.1,836.9 387.6,836.8 388.1,837.9 388.6,837.9 389.1,837.1 389.6,835.0 390.1,837.5 390.6,837.4 391.1,837.6 391.6,837.3 392.1,837.1 392.6,837.7 393.1,836.6 393.6,836.5 394.1,836.1 394.6,836.8 395.1,837.8 395.6,837.4 396.1,838.1 396.6,838.0 397.1,837.4 397.6,837.9 398.1,837.0 398.6,837.0 399.1,838.4 399.6,837.4 400.1,837.1 400.6,837.5 401.1,837.4 401.6,838.0 402.1,837.3 402.6,837.4 403.1,837.6 403.6,838.9 404.1,838.7 404.6,838.0 405.1,837.7 405.6,838.2 406.1,837.9 406.6,837.3 407.1,835.3 407.6,834.7 408.1,835.0 408.6,835.2 409.1,835.1 409.6,836.0 410.1,837.8 410.6,838.9 411.1,839.1 411.6,839.2 412.1,837.4 412.6,837.3 413.1,837.5 413.6,837.0 414.1,836.5 414.6,836.8 415.1,836.6 415.6,836.8 416.1,837.6 416.6,837.6 417.1,837.8 417.6,838.3 418.1,836.8 418.6,837.2 419.1,837.2 419.6,836.3 420.1,836.3 420.6,835.9 421.1,836.5 421.6,835.0 422.1,835.1 422.6,835.3 423.1,835.5 423.6,835.0 424.1,834.5 424.6,834.7 425.1,835.4 425.6,836.2 426.1,836.4 426.6,836.9 427.1,835.4 427.6,835.5 428.1,835.3 428.6,836.4 429.1,837.8 429.6,838.2 430.1,838.0 430.6,838.8 431.1,839.1 431.6,837.5 432.1,837.3 432.6,837.9 433.1,838.2 433.6,837.7 434.1,837.2 434.6,838.2 435.1,840.1 435.6,838.1 436.1,838.3 436.6,836.7 437.1,836.9 437.6,836.8 438.1,837.0 438.6,838.9 439.1,836.4 439.6,835.5 440.1,836.2 440.6,836.8 441.1,835.1 441.6,835.3 442.1,836.2 442.6,836.9 443.1,837.1 443.6,834.4 444.1,836.6 444.6,837.4 445.1,836.7 445.6,836.2 446.1,836.3 446.6,836.2 447.1,836.1 447.6,836.2 448.1,835.5 448.6,835.9 449.1,836.8 449.6,837.1 450.1,837.1 450.6,836.8 451.1,837.1 451.6,837.3 452.1,837.9 452.6,838.2 453.1,837.9 453.6,841.5 454.1,839.6 454.6,837.8 455.1,837.0 455.6,837.0 456.1,836.7 456.6,836.0 457.1,835.8 457.6,835.7 458.1,835.8 458.6,834.9 459.1,834.8 459.6,834.9 460.1,836.7 460.6,836.5 461.1,835.9 461.6,836.1 462.1,835.8 462.6,836.1 463.1,835.9 463.6,835.6 464.1,835.3 464.6,836.6 465.1,836.9 465.6,836.7 466.1,835.0 466.6,835.9 467.1,837.0 467.6,837.4 468.1,836.3 468.6,836.3 469.1,837.9 469.6,838.2 470.1,838.2 470.6,837.8 471.1,837.6 471.6,837.9 472.1,837.5 472.6,837.4 473.1,838.1 473.6,838.8 474.1,838.6 474.6,837.1 475.1,838.0 475.6,838.1 476.1,837.6 476.6,837.1 477.1,836.8 477.6,836.2 478.1,837.0 478.6,836.5 479.1,836.3 479.6,835.9 480.1,835.6 480.6,834.9 481.1,835.2 481.6,834.9 482.1,835.5 482.6,836.3 483.1,837.4 483.6,836.9 484.1,837.4 484.6,835.7 485.1,835.5 485.6,836.2 486.1,834.9 486.6,833.9 487.1,834.0 487.6,834.5 488.1,834.8 488.6,835.5 489.1,835.1 489.6,836.1 490.1,835.8 490.6,835.8 491.1,835.6 491.6,836.3 492.1,839.1 492.6,837.6 493.1,837.0 493.6,837.0 494.1,838.1 494.6,838.4 495.1,837.7 495.6,837.3 496.1,834.9 496.6,836.5 497.1,836.3 497.6,835.5 498.1,836.2 498.6,837.0 499.1,835.9 499.6,835.8 500.1,836.1 500.6,836.3 501.1,836.3 501.6,836.8 502.1,836.7 502.6,836.6 503.1,836.7 503.6,837.0 504.1,837.5 504.6,837.9 505.1,837.8 505.6,837.1 506.1,836.0 506.6,835.7 507.1,835.0 507.6,836.4 508.1,836.5 508.6,837.1 509.1,836.1 509.6,836.7 510.1,837.2 510.6,836.6 511.1,836.7 511.6,836.2 512.1,835.0 512.6,835.1 513.1,834.3 513.6,834.2 514.1,834.5 514.6,834.4 515.1,837.6 515.6,836.6 516.1,836.2 516.6,836.7 517.1,835.6 517.6,835.1 518.1,835.1 518.6,835.4 519.1,832.8 519.6,835.4 520.1,835.6 520.6,836.0 521.1,835.5 521.6,835.5 522.1,835.8 522.6,837.5 523.1,837.9 523.6,838.0 524.1,838.1 524.6,837.1 525.1,836.7 525.6,836.6 526.1,835.8 526.6,835.4 527.1,835.8 527.6,835.7 528.1,836.6 528.6,836.1 529.1,836.1 529.6,835.5 530.1,835.8 530.6,834.8 531.1,834.7 531.6,835.3 532.1,835.7 532.6,836.7 533.1,836.9 533.6,838.0 534.1,837.0 534.6,837.0 535.1,836.5 535.6,837.0 536.1,836.1 536.6,835.6 537.1,835.7 537.6,835.7 538.1,834.9 538.6,835.0 539.1,834.0 539.6,834.4 540.1,834.5 540.6,835.0 541.1,835.3 541.6,835.0 542.1,835.0 542.6,836.0 543.1,836.7 543.6,836.8 544.1,835.4 544.6,835.7 545.1,836.4 545.6,836.2 546.1,836.4 546.6,836.7 547.1,835.8 547.6,836.5 548.1,836.2 548.6,837.0 549.1,837.1 549.6,838.0 550.1,838.4 550.6,837.7 551.1,837.1 551.6,837.3 552.1,837.0 552.6,837.6 553.1,838.5 553.6,836.5 554.1,835.7 554.6,835.9 555.1,836.9 555.6,836.3 556.1,836.0 556.6,837.3 557.1,837.5 557.6,837.9 558.1,838.1 558.6,838.4 559.1,838.6 559.6,838.5 560.1,837.7 560.6,837.5 561.1,837.2 561.6,836.6 562.1,836.9 562.6,836.6 563.1,837.9 563.6,835.6 564.1,836.0 564.6,837.3 565.1,836.7 565.6,836.5 566.1,836.9"/>
<polyline fill="none" stroke="#ff0000" stroke-width="2.3" stroke-linejoin="round" stroke-linecap="round" points="566.1,836.9 566.8,836.5 567.5,920.0 568.5,1000.0 570.5,1020.0 572.5,1020.0 575.5,980.0 576.5,870.0 577.5,842.0 579.0,837.2"/>
<polyline fill="none" stroke="#ff0000" stroke-width="3.0" stroke-linejoin="round" stroke-linecap="round" points="579.0,837.2 579.5,836.0 580.0,836.3 580.5,836.4 581.0,835.2 581.5,835.2 582.0,836.0 582.5,836.6 583.0,837.0 583.5,836.9 584.0,836.9 584.5,837.7 585.0,836.2 585.5,835.9 586.0,836.5 586.5,836.7 587.0,836.1 587.5,836.3 588.0,835.8 588.5,835.9 589.0,836.2 589.5,834.6 590.0,834.8 590.5,836.3 591.0,836.4 591.5,836.4 592.0,837.4 592.5,837.3 593.0,838.1 593.5,837.9 594.0,836.4 594.5,836.0 595.0,836.8 595.5,837.6 596.0,837.6 596.5,837.4 597.0,838.4 597.5,839.4 598.0,838.5 598.5,837.2 599.0,836.7 599.5,836.3 600.0,836.1 600.5,835.3 601.0,833.0 601.5,833.9 602.0,835.8 602.5,836.5 603.0,835.5 603.5,835.6 604.0,836.2 604.5,836.5 605.0,835.1 605.5,835.5 606.0,836.4 606.5,836.8 607.0,836.3 607.5,836.2 608.0,836.7 608.5,836.5 609.0,835.8 609.5,837.5 610.0,835.6 610.5,835.3 611.0,835.6 611.5,835.8 612.0,836.1 612.5,838.0 613.0,836.4 613.5,834.7 614.0,836.2 614.5,835.6 615.0,836.0 615.5,836.4 616.0,836.5 616.5,835.8 617.0,835.5 617.5,834.9 618.0,835.7 618.5,836.3 619.0,836.1 619.5,837.8 620.0,835.2 620.5,835.4 621.0,836.2 621.5,835.3 622.0,835.7 622.5,836.2 623.0,836.6 623.5,836.0 624.0,835.8 624.5,835.0 625.0,835.3 625.5,835.3 626.0,834.6 626.5,834.7 627.0,835.5 627.5,835.9 628.0,835.0 628.5,834.7 629.0,836.3 629.5,836.8 630.0,837.2 630.5,836.5 631.0,835.6 631.5,835.4 632.0,836.1 632.5,835.8 633.0,835.5 633.5,835.1 634.0,835.5 634.5,834.7 635.0,835.5 635.5,834.1 636.0,834.1 636.5,833.3 637.0,833.2 637.5,833.2 638.0,833.6 638.5,833.5 639.0,834.0 639.5,835.4 640.0,835.5 640.5,834.9 641.0,835.4 641.5,834.9 642.0,834.5 642.5,835.6 643.0,834.1 643.5,835.3 644.0,834.5 644.5,834.8 645.0,835.2 645.5,835.4 646.0,835.1 646.5,835.9 647.0,836.4 647.5,836.7 648.0,838.2 648.5,835.6 649.0,836.1 649.5,835.8 650.0,835.2 650.5,834.6 651.0,834.7 651.5,833.9 652.0,833.5 652.5,834.7 653.0,835.3 653.5,835.5 654.0,837.2 654.5,835.0 655.0,835.9 655.5,836.8 656.0,836.5 656.5,836.5 657.0,836.9 657.5,835.1 658.0,836.1 658.5,836.5 659.0,837.1 659.5,836.9 660.0,834.7 660.5,833.7 661.0,834.1 661.5,835.6 662.0,834.3 662.5,834.9 663.0,835.0 663.5,836.1 664.0,836.6 664.5,836.2 665.0,835.7 665.5,836.8 666.0,834.8 666.5,834.4 667.0,832.9 667.5,832.8 668.0,834.1 668.5,834.6 669.0,833.5 669.5,834.7 670.0,834.9 670.5,836.1 671.0,835.9 671.5,836.1 672.0,835.0 672.5,835.8 673.0,835.6 673.5,833.7 674.0,834.0 674.5,833.8 675.0,831.0 675.5,833.2 676.0,832.1 676.5,831.9 677.0,832.6 677.5,833.0 678.0,832.2 678.5,831.8 679.0,833.6 679.5,834.6 680.0,835.0 680.5,834.8 681.0,834.1 681.5,834.2 682.0,835.1 682.5,834.1 683.0,834.1 683.5,833.2 684.0,833.2 684.5,833.3 685.0,833.2 685.5,832.9 686.0,833.7 686.5,834.2 687.0,833.2 687.5,833.4 688.0,834.0 688.5,834.1 689.0,834.9 689.5,834.6 690.0,834.3 690.5,834.0 691.0,834.2 691.5,833.6 692.0,834.0 692.5,831.4 693.0,833.8 693.5,833.9 694.0,833.6 694.5,833.0 695.0,834.4 695.5,834.5 696.0,834.6 696.5,834.7 697.0,835.6 697.5,835.5 698.0,836.1 698.5,836.0 699.0,835.8 699.5,836.3 700.0,835.9 700.5,835.6 701.0,836.2 701.5,835.9 702.0,836.7 702.5,835.5 703.0,834.7 703.5,834.9 704.0,834.2 704.5,834.5 705.0,834.9 705.5,833.1 706.0,833.0 706.5,832.6 707.0,832.7 707.5,833.0 708.0,833.5 708.5,833.6 709.0,835.1 709.5,833.4 710.0,835.3 710.5,836.2 711.0,837.0 711.5,836.1 712.0,835.8 712.5,834.1 713.0,835.2 713.5,835.5 714.0,835.4 714.5,834.1 715.0,834.9 715.5,834.6 716.0,835.9 716.5,835.0 717.0,835.4 717.5,834.4 718.0,835.6 718.5,835.3 719.0,835.0 719.5,835.2 720.0,835.5 720.5,835.9 721.0,835.8 721.5,835.5 722.0,834.7 722.5,835.1 723.0,834.8 723.5,835.4 724.0,835.8 724.5,835.5 725.0,835.1 725.5,836.7 726.0,836.3 726.5,835.5 727.0,835.4 727.5,836.3 728.0,835.2 728.5,835.6 729.0,834.9 729.5,834.7 730.0,834.2 730.5,834.3 731.0,834.4 731.5,834.5 732.0,834.2 732.5,834.3 733.0,833.9 733.5,834.5 734.0,836.1 734.5,836.0 735.0,836.1 735.5,837.3 736.0,837.8 736.5,836.8 737.0,836.5 737.5,835.6 738.0,836.6 738.5,836.7 739.0,835.7 739.5,835.4 740.0,836.1 740.5,836.8 741.0,837.5 741.5,838.5 742.0,836.6 742.5,836.8 743.0,838.3 743.5,837.6 744.0,837.2 744.5,836.7 745.0,836.3 745.5,836.6 746.0,836.6 746.5,836.2 747.0,836.0 747.5,835.8 748.0,836.0 748.5,836.1 749.0,835.7 749.5,836.6 750.0,837.6 750.5,835.0 751.0,836.4 751.5,837.1 752.0,836.5 752.5,836.0 753.0,835.3 753.5,835.6 754.0,837.5 754.5,837.1 755.0,836.5 755.5,836.7 756.0,836.1 756.5,836.3 757.0,836.6 757.5,836.5 758.0,835.8 758.5,835.1 759.0,835.1 759.5,833.8 760.0,835.5 760.5,835.7 761.0,835.1 761.5,834.7 762.0,834.8 762.5,835.8 763.0,835.0 763.5,835.2 764.0,835.1 764.5,836.5 765.0,836.3 765.5,837.0 766.0,836.5 766.5,836.5 767.0,836.0 767.5,837.3 768.0,837.0 768.5,837.6 769.0,837.0 769.5,836.3 770.0,835.5 770.5,834.4 771.0,834.2 771.5,834.4 772.0,834.5 772.5,835.5 773.0,835.5 773.5,835.8 774.0,836.2 774.5,837.4 775.0,836.9 775.5,836.7 776.0,836.4 776.5,837.8 777.0,838.1 777.5,838.0 778.0,834.5 778.5,836.6 779.0,836.4 779.5,835.9 780.0,836.4 780.5,836.0 781.0,837.3 781.5,837.6 782.0,837.7 782.5,837.4 783.0,837.5 783.5,837.0 784.0,835.9 784.5,836.0 785.0,835.8 785.5,835.5 786.0,835.7 786.5,835.5 787.0,836.0 787.5,836.9 788.0,836.6 788.5,836.3 789.0,836.9 789.5,837.0 790.0,836.7 790.5,837.0 791.0,836.7 791.5,836.6 792.0,837.0 792.5,835.8 793.0,835.7 793.5,836.5 794.0,835.9 794.5,835.7 795.0,834.7 795.5,834.7 796.0,836.7 796.5,835.2 797.0,834.8 797.5,835.8 798.0,835.8 798.5,836.5 799.0,836.7 799.5,837.3 800.0,837.6 800.5,838.2 801.0,836.2 801.5,836.9 802.0,836.9 802.5,835.7 803.0,834.7 803.5,835.9 804.0,835.7 804.5,834.7 805.0,835.8 805.5,835.5 806.0,835.6 806.5,836.0 807.0,836.2 807.5,836.4 808.0,836.2 808.5,835.8 809.0,835.8 809.5,837.8 810.0,837.4 810.5,838.3 811.0,837.2 811.5,836.5 812.0,836.9 812.5,836.3 813.0,836.8 813.5,835.7 814.0,835.4 814.5,836.9 815.0,837.5 815.5,837.2 816.0,837.8 816.5,837.2 817.0,838.3 817.5,836.0 818.0,838.1 818.5,838.4 819.0,837.5 819.5,836.9 820.0,836.9 820.5,835.9 821.0,836.5 821.5,836.3 822.0,836.5 822.5,837.5 823.0,837.2 823.5,836.9 824.0,837.7 824.5,837.5 825.0,837.4 825.5,837.3 826.0,837.6 826.5,835.0 827.0,836.5 827.5,836.9 828.0,836.4 828.5,835.4 829.0,835.3 829.5,834.9 830.0,835.1 830.5,836.6 831.0,836.3 831.5,836.2 832.0,835.3 832.5,835.4 833.0,836.9 833.5,834.9 834.0,834.6 834.5,836.3 835.0,836.7 835.5,837.0 836.0,835.5 836.5,834.8 837.0,834.8 837.5,834.6 838.0,834.3 838.5,834.3 839.0,835.2 839.5,834.5 840.0,834.6 840.5,835.3 841.0,835.9 841.5,836.2 842.0,834.8 842.5,834.9 843.0,835.7 843.5,837.2 844.0,836.7 844.5,836.1 845.0,832.7 845.5,834.6 846.0,833.9 846.5,831.6 847.0,833.9 847.5,831.8 848.0,832.7 848.5,836.0 849.0,834.7 849.5,837.5 850.0,836.8 850.5,837.0 851.0,836.6 851.5,835.3 852.0,833.3 852.5,834.9 853.0,836.0 853.5,836.3 854.0,836.1 854.5,836.3 855.0,836.6 855.5,835.9 856.0,836.1 856.5,834.0 857.0,835.0 857.5,835.5 858.0,835.6 858.5,835.7 859.0,835.4 859.5,836.1 860.0,836.5 860.5,837.0 861.0,836.0 861.5,835.4 862.0,835.9 862.5,835.7 863.0,835.2 863.5,836.0 864.0,835.2 864.5,834.8 865.0,834.7 865.5,834.5 866.0,834.7 866.5,835.8 867.0,835.9 867.5,835.8 868.0,836.6 868.5,836.9 869.0,836.5 869.5,836.0 870.0,836.2 870.5,835.9 871.0,835.6 871.5,835.0 872.0,834.7 872.5,834.5 873.0,834.6 873.5,834.8 874.0,835.1 874.5,835.1 875.0,834.2 875.5,834.8 876.0,834.9 876.5,834.8 877.0,834.6 877.5,835.2 878.0,835.4 878.5,835.3 879.0,834.6 879.5,837.9 880.0,833.3 880.5,834.0 881.0,834.4 881.5,835.2 882.0,836.1 882.5,836.1 883.0,836.3 883.5,836.5 884.0,838.2 884.5,836.7 885.0,837.1 885.5,836.6 886.0,835.6 886.5,834.9 887.0,835.9 887.5,836.3 888.0,836.3 888.5,836.4 889.0,834.4 889.5,835.3 890.0,836.0 890.5,835.5 891.0,834.4 891.5,833.9 892.0,834.2 892.5,835.4 893.0,835.3 893.5,835.0 894.0,834.9 894.5,834.8 895.0,836.9 895.5,836.0 896.0,835.6 896.5,835.0 897.0,835.4 897.5,836.1 898.0,836.6 898.5,835.8 899.0,834.9 899.5,834.8 900.0,835.7 900.5,835.0 901.0,834.8 901.5,834.9 902.0,834.8 902.5,833.9 903.0,834.9 903.5,834.5 904.0,834.9 904.5,834.9 905.0,835.1 905.5,835.4 906.0,836.1 906.5,835.7 907.0,835.7 907.5,834.8 908.0,834.0 908.5,833.8 909.0,833.5 909.5,834.6 910.0,833.8 910.5,832.9 911.0,834.0 911.5,834.2 912.0,834.0 912.5,835.0 913.0,835.1 913.5,833.9 914.0,833.5 914.5,833.0 915.0,832.7 915.5,832.6 916.0,833.0 916.5,833.5 917.0,834.2 917.5,834.8 918.0,833.3 918.5,835.5 919.0,834.7 919.5,834.4 920.0,835.4 920.5,835.6 921.0,835.3 921.5,835.1 922.0,835.3 922.5,833.5 923.0,836.1 923.5,836.1 924.0,834.5 924.5,835.2 925.0,836.1 925.5,835.6 926.0,834.6 926.5,834.6 927.0,835.1 927.5,835.7 928.0,835.4 928.5,834.6 929.0,834.7 929.5,832.9 930.0,833.4 930.5,834.1 931.0,834.0 931.5,835.5 932.0,836.7 932.5,837.0 933.0,837.6 933.5,838.2 934.0,837.3 934.5,837.1 935.0,836.7 935.5,835.9 936.0,835.4 936.5,835.5 937.0,835.3 937.5,834.9 938.0,835.2 938.5,835.7 939.0,836.7 939.5,836.7 940.0,836.9 940.5,838.7 941.0,835.7 941.5,834.3 942.0,834.9 942.5,834.5 943.0,834.7 943.5,834.8 944.0,835.6 944.5,835.9 945.0,837.7 945.5,837.3 946.0,837.0 946.5,836.2 947.0,836.3 947.5,836.1 948.0,836.3 948.5,835.5 949.0,835.9 949.5,836.3 950.0,835.2 950.5,835.2 951.0,835.1 951.5,835.6 952.0,836.4 952.5,835.6 953.0,835.6 953.5,836.9 954.0,836.0 954.5,836.9 955.0,836.3 955.5,836.0 956.0,836.0 956.5,835.9 957.0,835.4 957.5,836.2 958.0,836.6 958.5,836.3 959.0,836.1 959.5,835.7 960.0,836.3 960.5,835.5 961.0,836.8 961.5,834.6 962.0,834.6 962.5,835.0 963.0,835.2 963.5,835.3 964.0,835.5 964.5,834.8 965.0,835.9 965.5,835.9 966.0,836.5 966.5,836.5 967.0,837.1 967.5,836.3 968.0,836.5 968.5,835.7 969.0,836.5 969.5,835.8 970.0,835.1 970.5,834.7 971.0,834.9 971.5,835.8 972.0,836.2 972.5,836.4 973.0,835.5 973.5,835.4 974.0,835.1 974.5,835.3 975.0,836.0 975.5,835.8 976.0,835.8 976.5,836.1 977.0,838.8 977.5,837.1 978.0,836.5 978.5,835.8 979.0,835.0 979.5,835.3 980.0,835.6 980.5,834.8 981.0,835.0 981.5,835.2 982.0,835.5 982.5,834.8 983.0,834.8 983.5,833.9 984.0,834.5 984.5,833.7 985.0,835.9 985.5,834.9 986.0,835.6 986.5,834.4 987.0,834.6 987.5,834.3 988.0,835.2 988.5,834.7 989.0,834.0 989.5,833.8 990.0,834.3 990.5,835.8 991.0,835.6 991.5,835.3 992.0,835.3 992.5,834.8 993.0,835.7 993.5,836.0 994.0,835.3 994.5,835.8 995.0,835.6 995.5,836.3 996.0,834.8 996.5,835.4 997.0,835.2 997.5,835.1 998.0,834.6 998.5,835.1 999.0,834.4 999.5,833.9 1000.0,833.7 1000.5,834.3 1001.0,835.4 1001.5,835.5 1002.0,836.2 1002.5,836.5 1003.0,835.6 1003.5,836.6 1004.0,836.4 1004.5,835.0 1005.0,834.7 1005.5,833.9 1006.0,834.1 1006.5,835.5 1007.0,835.7 1007.5,835.7 1008.0,835.8 1008.5,836.4 1009.0,836.6 1009.5,836.5 1010.0,838.1 1010.5,836.3 1011.0,835.3 1011.5,835.2 1012.0,835.9 1012.5,835.7 1013.0,835.5 1013.5,835.7 1014.0,835.8 1014.5,836.7 1015.0,836.0 1015.5,835.6 1016.0,835.6 1016.5,836.6 1017.0,836.4 1017.5,835.8 1018.0,834.6 1018.5,834.1 1019.0,835.0 1019.5,834.7 1020.0,834.7 1020.5,834.4 1021.0,835.5 1021.5,835.6 1022.0,835.5"/>
<polyline fill="none" stroke="#ff0000" stroke-width="2.3" stroke-linejoin="round" stroke-linecap="round" points="1022.0,835.5 1026.3,836.0 1026.6,1034.5"/>
<polyline fill="none" stroke="#0000ff" stroke-width="2.3" stroke-linejoin="round" stroke-linecap="round" points="119.5,956.0 120.0,921.0 120.3,860.0 120.5,843.0 123.8,836.0 127.3,832.4"/>
<polyline fill="none" stroke="#0000ff" stroke-width="3.0" stroke-linejoin="round" stroke-linecap="round" points="127.3,832.4 127.8,831.2 128.3,830.4 128.8,830.3 129.3,830.4 129.8,830.0 130.3,830.4 130.8,829.5 131.3,829.0 131.8,828.1 132.3,827.8 132.8,826.2 133.3,824.9 133.8,824.4 134.3,825.6 134.8,825.7 135.3,825.7 135.8,825.3 136.3,826.2 136.8,827.0 137.3,826.7 137.8,827.3 138.3,826.7 138.8,827.9 139.3,825.1 139.8,825.0 140.3,824.3 140.8,823.7 141.3,823.6 141.8,823.3 142.3,823.2 142.8,823.1 143.3,823.1 143.8,822.2 144.3,820.4 144.8,822.3 145.3,822.0 145.8,822.5 146.3,822.3 146.8,821.8 147.3,821.9 147.8,821.8 148.3,821.4 148.8,821.9 149.3,821.7 149.8,820.9 150.3,821.1 150.8,822.0 151.3,822.4 151.8,823.0 152.3,823.2 152.8,822.4 153.3,822.7 153.8,821.7 154.3,821.4 154.8,820.4 155.3,820.7 155.8,818.8 156.3,819.1 156.8,819.7 157.3,820.2 157.8,820.0 158.3,819.1 158.8,818.8 159.3,819.9 159.8,819.6 160.3,820.1 160.8,818.4 161.3,818.5 161.8,818.4 162.3,818.5 162.8,818.1 163.3,819.1 163.8,818.5 164.3,818.5 164.8,818.3 165.3,817.9 165.8,819.5 166.3,819.7 166.8,819.6 167.3,820.1 167.8,818.9 168.3,819.0 168.8,818.6 169.3,819.7 169.8,817.2 170.3,817.6 170.8,817.2 171.3,817.4 171.8,817.5 172.3,818.3 172.8,817.5 173.3,816.9 173.8,817.3 174.3,816.6 174.8,815.6 175.3,815.3 175.8,814.3 176.3,813.1 176.8,813.9 177.3,815.5 177.8,818.3 178.3,817.0 178.8,816.2 179.3,816.0 179.8,819.5 180.3,817.3 180.8,817.0 181.3,816.4 181.8,816.0 182.3,816.2 182.8,816.5 183.3,815.8 183.8,816.0 184.3,815.9 184.8,815.8 185.3,816.4 185.8,815.9 186.3,815.4 186.8,816.2 187.3,817.3 187.8,817.3 188.3,817.1 188.8,816.7 189.3,815.9 189.8,816.1 190.3,815.8 190.8,816.7 191.3,816.4 191.8,816.5 192.3,817.9 192.8,815.5 193.3,817.7 193.8,815.1 194.3,814.5 194.8,814.0 195.3,813.6 195.8,813.1 196.3,813.1 196.8,815.4 197.3,815.1 197.8,814.9 198.3,815.3 198.8,814.4 199.3,814.4 199.8,813.9 200.3,812.4 200.8,813.2 201.3,812.1 201.8,811.8 202.3,811.4 202.8,811.6 203.3,810.2 203.8,811.8 204.3,811.2 204.8,812.8 205.3,813.1 205.8,812.9 206.3,812.9 206.8,814.0 207.3,813.4 207.8,813.5 208.3,813.6 208.8,813.5 209.3,812.3 209.8,812.0 210.3,811.9 210.8,812.0 211.3,812.4 211.8,812.6 212.3,811.4 212.8,812.6 213.3,813.4 213.8,812.6 214.3,812.3 214.8,812.4 215.3,811.8 215.8,811.4 216.3,811.5 216.8,811.3 217.3,811.8 217.8,812.0 218.3,811.6 218.8,812.5 219.3,811.4 219.8,811.0 220.3,810.5 220.8,809.9 221.3,809.9 221.8,809.2 222.3,809.8 222.8,809.6 223.3,809.3 223.8,807.4 224.3,808.8 224.8,809.0 225.3,807.7 225.8,809.6 226.3,810.4 226.8,810.9 227.3,810.8 227.8,810.6 228.3,809.9 228.8,809.2 229.3,807.8 229.8,808.6 230.3,808.4 230.8,807.9 231.3,807.8 231.8,807.0 232.3,807.5 232.8,807.5 233.3,806.6 233.8,805.6 234.3,805.9 234.8,805.8 235.3,805.7 235.8,805.5 236.3,804.3 236.8,804.2 237.3,804.8 237.8,805.5 238.3,805.3 238.8,804.0 239.3,804.7 239.8,805.1 240.3,805.2 240.8,805.6 241.3,805.1 241.8,805.9 242.3,806.3 242.8,805.7 243.3,805.3 243.8,805.9 244.3,807.1 244.8,807.7 245.3,807.4 245.8,806.1 246.3,805.8 246.8,805.9 247.3,805.8 247.8,805.3 248.3,804.7 248.8,803.3 249.3,804.1 249.8,804.9 250.3,804.5 250.8,804.7 251.3,804.6 251.8,805.2 252.3,805.8 252.8,804.8 253.3,804.5 253.8,803.8 254.3,803.6 254.8,802.8 255.3,802.2 255.8,802.9 256.3,803.2 256.8,801.7 257.3,801.5 257.8,800.6 258.3,801.0 258.8,801.2 259.3,800.3 259.8,799.6 260.3,800.5 260.8,800.4 261.3,801.4 261.8,800.4 262.3,800.5 262.8,800.7 263.3,801.6 263.8,801.7 264.3,802.2 264.8,801.8 265.3,801.9 265.8,801.4 266.3,800.0 266.8,799.7 267.3,800.4 267.8,800.3 268.3,800.8 268.8,801.5 269.3,802.4 269.8,802.4 270.3,801.1 270.8,801.1 271.3,801.6 271.8,801.2 272.3,801.6 272.8,802.9 273.3,802.7 273.8,802.8 274.3,802.6 274.8,802.3 275.3,802.5 275.8,801.6 276.3,800.8 276.8,802.2 277.3,801.9 277.8,802.5 278.3,801.4 278.8,801.4 279.3,802.2 279.8,802.5 280.3,802.7 280.8,801.1 281.3,802.2 281.8,802.4 282.3,803.7 282.8,803.4 283.3,801.9 283.8,801.5 284.3,800.7 284.8,801.3 285.3,801.0 285.8,800.1 286.3,799.8 286.8,801.7 287.3,802.1 287.8,802.4 288.3,802.1 288.8,802.4 289.3,800.4 289.8,802.1 290.3,800.8 290.8,800.2 291.3,801.0 291.8,801.4 292.3,801.3 292.8,801.2 293.3,802.2 293.8,802.5 294.3,802.4 294.8,802.1 295.3,802.1 295.8,801.7 296.3,801.4 296.8,802.5 297.3,802.4 297.8,802.6 298.3,801.9 298.8,801.1 299.3,800.7 299.8,800.8 300.3,801.0 300.8,800.8 301.3,801.8 301.8,802.4 302.3,802.2 302.8,802.8 303.3,803.1 303.8,801.9 304.3,803.6 304.8,803.6 305.3,802.1 305.8,801.8 306.3,799.1 306.8,801.2 307.3,801.4 307.8,800.9 308.3,799.0 308.8,800.0 309.3,800.3 309.8,800.5 310.3,800.5 310.8,798.1 311.3,801.3 311.8,800.5 312.3,800.7 312.8,800.4 313.3,800.8 313.8,801.4 314.3,802.3 314.8,801.8 315.3,801.8 315.8,802.6 316.3,802.4 316.8,801.7 317.3,799.5 317.8,799.0 318.3,800.2 318.8,800.4 319.3,799.8 319.8,800.1 320.3,800.7 320.8,800.5 321.3,800.4 321.8,800.8 322.3,801.0 322.8,801.0 323.3,801.1 323.8,799.5 324.3,799.4 324.8,800.7 325.3,800.8 325.8,800.0 326.3,799.7 326.8,799.4 327.3,798.4 327.8,798.1 328.3,797.8 328.8,797.0 329.3,796.8 329.8,797.2 330.3,797.7 330.8,797.8 331.3,798.4 331.8,798.1 332.3,797.6 332.8,797.3 333.3,797.1 333.8,796.7 334.3,796.7 334.8,796.3 335.3,796.4 335.8,796.9 336.3,798.2 336.8,798.4 337.3,797.7 337.8,797.7 338.3,797.5 338.8,797.2 339.3,797.9 339.8,797.1 340.3,796.7 340.8,796.7 341.3,796.1 341.8,795.5 342.3,794.8 342.8,793.9 343.3,793.8 343.8,794.0 344.3,794.1 344.8,795.7 345.3,795.5 345.8,796.0 346.3,796.0 346.8,796.4 347.3,796.7 347.8,796.3 348.3,796.1 348.8,797.7 349.3,797.6 349.8,797.7 350.3,796.5 350.8,797.6 351.3,799.5 351.8,797.9 352.3,797.3 352.8,797.9 353.3,796.8 353.8,797.4 354.3,797.3 354.8,796.7 355.3,796.9 355.8,796.5 356.3,795.4 356.8,797.6 357.3,800.2 357.8,797.0 358.3,796.6 358.8,796.9 359.3,796.6 359.8,796.8 360.3,795.9 360.8,796.3 361.3,795.1 361.8,795.4 362.3,794.3 362.8,794.7 363.3,795.1 363.8,796.7 364.3,797.1 364.8,798.0 365.3,796.2 365.8,798.3 366.3,797.2 366.8,796.6 367.3,796.0 367.8,796.1 368.3,795.0 368.8,796.3 369.3,796.6 369.8,796.8 370.3,796.8 370.8,796.6 371.3,795.4 371.8,795.8 372.3,796.0 372.8,796.5 373.3,796.8 373.8,797.6 374.3,797.9 374.8,798.0 375.3,798.3 375.8,797.9 376.3,800.4 376.8,798.2 377.3,798.1 377.8,797.4 378.3,796.4 378.8,795.9 379.3,795.7 379.8,796.5 380.3,796.8 380.8,797.5 381.3,797.8 381.8,798.0 382.3,797.6 382.8,797.8 383.3,799.0 383.8,798.7 384.3,798.8 384.8,798.1 385.3,797.9 385.8,796.7 386.3,796.4 386.8,795.9 387.3,795.5 387.8,795.8 388.3,795.7 388.8,796.3 389.3,794.9 389.8,794.6 390.3,794.9 390.8,795.6 391.3,795.7 391.8,796.5 392.3,795.8 392.8,796.2 393.3,796.7 393.8,796.7 394.3,796.5 394.8,796.6 395.3,796.9 395.8,796.8 396.3,797.3 396.8,797.1 397.3,797.1 397.8,797.6 398.3,797.4 398.8,797.6 399.3,797.7 399.8,797.6 400.3,797.2 400.8,797.5 401.3,796.9 401.8,795.6 402.3,795.5 402.8,794.8 403.3,795.1 403.8,795.3 404.3,795.0 404.8,795.3 405.3,795.6 405.8,796.3 406.3,796.4 406.8,796.4 407.3,794.8 407.8,794.6 408.3,793.9 408.8,793.6 409.3,793.0 409.8,793.3 410.3,792.9 410.8,794.6 411.3,795.0 411.8,794.6 412.3,794.4 412.8,794.8 413.3,794.1 413.8,793.7 414.3,793.7 414.8,793.2 415.3,794.3 415.8,794.2 416.3,793.9 416.8,793.8 417.3,793.9 417.8,794.5 418.3,794.6 418.8,794.5 419.3,794.9 419.8,795.2 420.3,795.9 420.8,794.7 421.3,794.1 421.8,795.2 422.3,794.5 422.8,794.7 423.3,794.0 423.8,795.1 424.3,795.3 424.8,792.7 425.3,795.6 425.8,796.0 426.3,795.8 426.8,796.2 427.3,796.3 427.8,794.7 428.3,795.8 428.8,794.0 429.3,795.1 429.8,795.0 430.3,794.9 430.8,795.4 431.3,793.9 431.8,794.9 432.3,794.7 432.8,795.9 433.3,794.4 433.8,794.4 434.3,793.2 434.8,795.9 435.3,794.2 435.8,796.6 436.3,796.2 436.8,797.4 437.3,796.4 437.8,795.3 438.3,794.9 438.8,794.7 439.3,794.7 439.8,794.7 440.3,794.6 440.8,795.4 441.3,796.3 441.8,796.9 442.3,796.5 442.8,795.3 443.3,795.3 443.8,794.9 444.3,796.2 444.8,795.9 445.3,796.5 445.8,797.4 446.3,796.7 446.8,796.2 447.3,796.7 447.8,795.3 448.3,796.5 448.8,796.9 449.3,795.3 449.8,796.0 450.3,796.4 450.8,796.6 451.3,796.8 451.8,797.2 452.3,796.9 452.8,797.2 453.3,796.4 453.8,796.1 454.3,795.7 454.8,795.4 455.3,796.2 455.8,795.0 456.3,796.0 456.8,795.8 457.3,795.5 457.8,794.6 458.3,794.7 458.8,795.2 459.3,794.7 459.8,797.4 460.3,795.4 460.8,794.8 461.3,795.2 461.8,795.1 462.3,794.9 462.8,795.0 463.3,794.3 463.8,794.6 464.3,794.6 464.8,795.7 465.3,795.9 465.8,795.4 466.3,795.6 466.8,794.9 467.3,795.2 467.8,794.8 468.3,794.6 468.8,794.6 469.3,795.0 469.8,794.4 470.3,795.5 470.8,795.6 471.3,796.3 471.8,796.1 472.3,795.0 472.8,795.1 473.3,794.6 473.8,794.2 474.3,793.5 474.8,794.3 475.3,794.0 475.8,794.2 476.3,794.8 476.8,794.7 477.3,794.0 477.8,794.4 478.3,794.5 478.8,794.1 479.3,793.9 479.8,792.9 480.3,791.8 480.8,793.8 481.3,794.0 481.8,794.3 482.3,794.0 482.8,792.9 483.3,792.7 483.8,793.0 484.3,794.0 484.8,794.3 485.3,793.9 485.8,794.1 486.3,794.0 486.8,795.1 487.3,795.4 487.8,795.0 488.3,793.9 488.8,793.5 489.3,793.2 489.8,793.6 490.3,795.3 490.8,793.2 491.3,793.7 491.8,793.5 492.3,793.4 492.8,794.0 493.3,793.9 493.8,793.9 494.3,793.7 494.8,793.7 495.3,790.2 495.8,792.3 496.3,792.4 496.8,792.4 497.3,792.5 497.8,792.6 498.3,794.3 498.8,795.1 499.3,795.5 499.8,794.7 500.3,794.3 500.8,794.6 501.3,794.6 501.8,794.4 502.3,794.6 502.8,795.7 503.3,796.5 503.8,796.1 504.3,795.9 504.8,795.2 505.3,795.3 505.8,795.0 506.3,794.4 506.8,794.2 507.3,795.4 507.8,795.4 508.3,796.1 508.8,795.3 509.3,794.2 509.8,793.6 510.3,793.4 510.8,792.4 511.3,792.8 511.8,792.2 512.3,793.5 512.8,793.5 513.3,794.3 513.8,794.4 514.3,794.3 514.8,792.5 515.3,793.0 515.8,793.6 516.3,793.5 516.8,792.8 517.3,794.9 517.8,795.2 518.3,795.6 518.8,793.5 519.3,792.5 519.8,793.2 520.3,793.5 520.8,792.3 521.3,792.4 521.8,793.0 522.3,793.5 522.8,793.9 523.3,793.5 523.8,794.5 524.3,795.3 524.8,794.8 525.3,793.7 525.8,794.6 526.3,795.2 526.8,793.5 527.3,794.8 527.8,793.4 528.3,794.1 528.8,794.8 529.3,794.2 529.8,794.0 530.3,793.9 530.8,793.3 531.3,792.5 531.8,792.1 532.3,792.2 532.8,793.5 533.3,792.9 533.8,790.5 534.3,791.8 534.8,791.9 535.3,791.7 535.8,791.9 536.3,791.5 536.8,791.2 537.3,791.7 537.8,792.0 538.3,791.5 538.8,789.4 539.3,790.9 539.8,789.1 540.3,789.8 540.8,790.4 541.3,789.5 541.8,789.7 542.3,790.5 542.8,791.3 543.3,790.8 543.8,789.6 544.3,791.7 544.8,793.8 545.3,795.0 545.8,793.0 546.3,792.9 546.8,792.7 547.3,792.7 547.8,792.8 548.3,794.4 548.8,791.9 549.3,791.1 549.8,790.9 550.3,791.1 550.8,791.3 551.3,791.4 551.8,791.3 552.3,790.7 552.8,791.2 553.3,793.4 553.8,793.5 554.3,792.9 554.8,792.9 555.3,793.2 555.8,793.7 556.3,794.3 556.8,794.0 557.3,793.2 557.8,792.7 558.3,793.1 558.8,792.6 559.3,792.8 559.8,792.6 560.3,793.4 560.8,794.1 561.3,795.3 561.8,794.2 562.3,794.3 562.8,794.3 563.3,795.2 563.8,794.5 564.3,794.5 564.8,794.1 565.3,795.6 565.8,793.6 566.3,793.1"/>
<polyline fill="none" stroke="#0000ff" stroke-width="2.3" stroke-linejoin="round" stroke-linecap="round" points="566.3,793.1 566.6,793.5 567.0,900.0 567.6,990.0 569.0,1016.0 570.5,1018.0 572.5,1000.0 573.5,870.0 575.0,830.0 576.0,800.0 577.0,792.6"/>
<polyline fill="none" stroke="#0000ff" stroke-width="3.0" stroke-linejoin="round" stroke-linecap="round" points="577.0,792.6 577.5,793.0 578.0,792.7 578.5,794.5 579.0,795.1 579.5,794.8 580.0,794.2 580.5,793.9 581.0,791.9 581.5,793.1 582.0,793.0 582.5,793.9 583.0,794.6 583.5,794.4 584.0,794.5 584.5,794.1 585.0,794.5 585.5,794.7 586.0,794.5 586.5,795.3 587.0,793.7 587.5,794.9 588.0,794.1 588.5,793.5 589.0,793.9 589.5,794.0 590.0,792.6 590.5,792.6 591.0,792.4 591.5,793.5 592.0,793.9 592.5,792.3 593.0,793.2 593.5,794.3 594.0,793.3 594.5,792.7 595.0,791.9 595.5,792.4 596.0,793.1 596.5,792.8 597.0,793.0 597.5,794.1 598.0,795.2 598.5,794.4 599.0,794.4 599.5,794.1 600.0,794.6 600.5,794.2 601.0,794.3 601.5,793.7 602.0,794.1 602.5,793.6 603.0,794.0 603.5,793.0 604.0,793.1 604.5,795.3 605.0,792.7 605.5,792.3 606.0,793.2 606.5,793.3 607.0,794.6 607.5,794.8 608.0,794.7 608.5,793.0 609.0,794.5 609.5,794.3 610.0,793.4 610.5,793.7 611.0,793.9 611.5,793.1 612.0,793.8 612.5,793.3 613.0,793.6 613.5,793.6 614.0,794.0 614.5,794.2 615.0,794.1 615.5,794.6 616.0,794.0 616.5,793.8 617.0,794.4 617.5,793.3 618.0,793.3 618.5,793.7 619.0,792.9 619.5,793.5 620.0,793.6 620.5,792.8 621.0,793.7 621.5,793.7 622.0,793.5 622.5,793.1 623.0,793.3 623.5,794.0 624.0,794.4 624.5,794.0 625.0,794.0 625.5,793.4 626.0,793.8 626.5,792.6 627.0,793.2 627.5,793.5 628.0,794.1 628.5,794.5 629.0,793.0 629.5,793.6 630.0,795.5 630.5,795.7 631.0,794.8 631.5,794.2 632.0,793.9 632.5,794.2 633.0,795.1 633.5,795.2 634.0,794.3 634.5,794.8 635.0,793.3 635.5,792.8 636.0,793.6 636.5,793.7 637.0,792.9 637.5,792.9 638.0,791.1 638.5,793.7 639.0,793.8 639.5,793.4 640.0,793.1 640.5,793.8 641.0,793.3 641.5,793.7 642.0,793.0 642.5,793.4 643.0,793.6 643.5,793.3 644.0,793.4 644.5,793.6 645.0,791.1 645.5,793.9 646.0,794.1 646.5,793.9 647.0,794.7 647.5,794.4 648.0,794.3 648.5,794.1 649.0,793.5 649.5,792.9 650.0,793.9 650.5,794.4 651.0,794.0 651.5,794.6 652.0,794.1 652.5,794.4 653.0,793.7 653.5,794.1 654.0,793.1 654.5,794.2 655.0,794.5 655.5,794.6 656.0,795.0 656.5,793.4 657.0,792.5 657.5,792.7 658.0,792.9 658.5,792.5 659.0,792.1 659.5,792.1 660.0,792.7 660.5,792.7 661.0,792.3 661.5,792.8 662.0,795.0 662.5,795.5 663.0,795.7 663.5,796.4 664.0,796.1 664.5,796.7 665.0,795.8 665.5,794.9 666.0,793.7 666.5,793.1 667.0,791.8 667.5,792.3 668.0,792.2 668.5,792.4 669.0,791.9 669.5,793.6 670.0,795.5 670.5,793.5 671.0,792.7 671.5,792.6 672.0,792.8 672.5,790.8 673.0,790.8 673.5,790.8 674.0,792.8 674.5,794.7 675.0,794.6 675.5,794.2 676.0,794.4 676.5,795.5 677.0,794.2 677.5,793.8 678.0,793.9 678.5,793.8 679.0,792.4 679.5,793.1 680.0,793.3 680.5,795.0 681.0,794.1 681.5,793.8 682.0,794.0 682.5,793.8 683.0,794.3 683.5,793.6 684.0,791.4 684.5,790.8 685.0,792.7 685.5,793.6 686.0,793.9 686.5,794.3 687.0,795.0 687.5,795.6 688.0,795.1 688.5,794.4 689.0,795.1 689.5,795.5 690.0,795.4 690.5,795.2 691.0,795.2 691.5,795.3 692.0,795.2 692.5,795.3 693.0,795.2 693.5,793.7 694.0,793.8 694.5,793.7 695.0,795.1 695.5,795.9 696.0,795.2 696.5,795.3 697.0,795.5 697.5,795.3 698.0,795.2 698.5,794.1 699.0,793.9 699.5,793.3 700.0,793.2 700.5,792.9 701.0,792.3 701.5,791.2 702.0,791.8 702.5,792.3 703.0,791.9 703.5,791.5 704.0,792.2 704.5,793.4 705.0,793.8 705.5,793.8 706.0,792.6 706.5,793.6 707.0,793.6 707.5,792.8 708.0,791.3 708.5,792.5 709.0,792.3 709.5,792.9 710.0,792.6 710.5,792.9 711.0,793.2 711.5,793.4 712.0,792.7 712.5,793.6 713.0,793.8 713.5,794.0 714.0,792.8 714.5,792.6 715.0,793.7 715.5,794.2 716.0,792.9 716.5,793.1 717.0,792.2 717.5,790.9 718.0,790.8 718.5,791.4 719.0,792.2 719.5,793.8 720.0,793.6 720.5,792.2 721.0,794.1 721.5,793.4 722.0,792.6 722.5,792.9 723.0,793.2 723.5,792.3 724.0,792.7 724.5,793.6 725.0,792.8 725.5,793.4 726.0,793.4 726.5,793.8 727.0,794.5 727.5,793.6 728.0,792.8 728.5,793.5 729.0,796.2 729.5,795.6 730.0,793.3 730.5,790.8 731.0,792.6 731.5,792.5 732.0,792.9 732.5,793.1 733.0,793.2 733.5,793.9 734.0,793.5 734.5,794.3 735.0,793.0 735.5,794.0 736.0,794.2 736.5,793.4 737.0,794.3 737.5,793.9 738.0,794.7 738.5,795.5 739.0,795.1 739.5,795.1 740.0,795.2 740.5,794.9 741.0,794.5 741.5,793.6 742.0,792.8 742.5,792.2 743.0,791.5 743.5,791.8 744.0,792.8 744.5,792.3 745.0,792.0 745.5,791.5 746.0,791.6 746.5,791.6 747.0,791.1 747.5,791.4 748.0,791.3 748.5,793.7 749.0,792.4 749.5,792.5 750.0,791.8 750.5,792.3 751.0,792.3 751.5,791.9 752.0,791.9 752.5,791.6 753.0,791.0 753.5,791.6 754.0,791.7 754.5,792.1 755.0,792.2 755.5,790.4 756.0,792.5 756.5,792.2 757.0,792.2 757.5,792.1 758.0,792.0 758.5,792.9 759.0,790.7 759.5,792.8 760.0,791.6 760.5,792.2 761.0,792.3 761.5,792.4 762.0,791.5 762.5,792.9 763.0,793.4 763.5,794.0 764.0,795.0 764.5,794.5 765.0,793.8 765.5,794.0 766.0,793.2 766.5,794.0 767.0,794.4 767.5,793.2 768.0,794.1 768.5,794.7 769.0,796.5 769.5,795.6 770.0,794.5 770.5,793.4 771.0,793.7 771.5,793.5 772.0,793.0 772.5,792.5 773.0,793.1 773.5,792.9 774.0,792.8 774.5,793.6 775.0,794.0 775.5,793.1 776.0,792.7 776.5,792.2 777.0,791.8 777.5,793.4 778.0,793.3 778.5,794.1 779.0,793.8 779.5,793.7 780.0,793.9 780.5,794.5 781.0,793.6 781.5,793.8 782.0,792.7 782.5,789.3 783.0,791.2 783.5,791.3 784.0,792.1 784.5,792.2 785.0,792.2 785.5,793.3 786.0,793.7 786.5,793.8 787.0,793.2 787.5,792.6 788.0,792.4 788.5,792.5 789.0,793.2 789.5,792.9 790.0,793.0 790.5,791.3 791.0,793.4 791.5,793.4 792.0,793.1 792.5,792.3 793.0,792.3 793.5,791.9 794.0,791.6 794.5,791.9 795.0,791.4 795.5,792.2 796.0,792.4 796.5,792.6 797.0,793.5 797.5,793.6 798.0,794.1 798.5,793.6 799.0,793.8 799.5,793.8 800.0,794.6 800.5,794.3 801.0,794.3 801.5,794.4 802.0,794.9 802.5,794.9 803.0,794.7 803.5,794.8 804.0,793.7 804.5,793.3 805.0,793.0 805.5,793.6 806.0,793.2 806.5,793.2 807.0,793.2 807.5,793.6 808.0,792.3 808.5,792.1 809.0,792.8 809.5,792.5 810.0,793.4 810.5,793.8 811.0,793.8 811.5,794.3 812.0,794.3 812.5,793.6 813.0,795.6 813.5,795.0 814.0,794.4 814.5,793.1 815.0,793.2 815.5,793.2 816.0,793.7 816.5,793.2 817.0,792.8 817.5,793.1 818.0,792.8 818.5,793.1 819.0,794.7 819.5,794.7 820.0,794.6 820.5,795.7 821.0,793.4 821.5,793.9 822.0,794.3 822.5,793.2 823.0,793.0 823.5,792.6 824.0,793.0 824.5,793.1 825.0,792.9 825.5,792.8 826.0,793.3 826.5,792.9 827.0,793.7 827.5,793.7 828.0,793.6 828.5,793.9 829.0,792.2 829.5,794.5 830.0,794.8 830.5,795.3 831.0,794.9 831.5,792.9 832.0,793.2 832.5,793.3 833.0,794.1 833.5,796.2 834.0,793.5 834.5,793.7 835.0,793.5 835.5,792.5 836.0,792.3 836.5,791.8 837.0,791.6 837.5,790.6 838.0,790.0 838.5,791.6 839.0,791.2 839.5,791.2 840.0,791.5 840.5,791.9 841.0,791.7 841.5,792.4 842.0,793.1 842.5,792.1 843.0,794.3 843.5,794.4 844.0,793.0 844.5,791.7 845.0,792.8 845.5,792.3 846.0,792.0 846.5,792.0 847.0,792.8 847.5,793.3 848.0,793.4 848.5,794.4 849.0,795.1 849.5,795.7 850.0,794.7 850.5,793.6 851.0,793.2 851.5,793.6 852.0,793.6 852.5,792.4 853.0,792.0 853.5,792.9 854.0,793.3 854.5,793.2 855.0,792.8 855.5,793.1 856.0,794.1 856.5,794.3 857.0,793.2 857.5,793.5 858.0,793.3 858.5,793.5 859.0,792.9 859.5,792.3 860.0,793.2 860.5,793.2 861.0,793.8 861.5,793.1 862.0,793.9 862.5,792.1 863.0,794.2 863.5,794.0 864.0,794.5 864.5,794.7 865.0,795.1 865.5,794.2 866.0,794.4 866.5,794.2 867.0,793.8 867.5,792.9 868.0,792.3 868.5,791.8 869.0,792.5 869.5,792.7 870.0,792.6 870.5,792.3 871.0,792.0 871.5,792.6 872.0,793.6 872.5,794.6 873.0,793.9 873.5,793.2 874.0,793.0 874.5,794.6 875.0,794.6 875.5,794.8 876.0,793.9 876.5,794.5 877.0,794.2 877.5,794.4 878.0,793.4 878.5,793.0 879.0,792.4 879.5,793.1 880.0,793.7 880.5,793.1 881.0,792.7 881.5,793.7 882.0,792.8 882.5,792.9 883.0,793.3 883.5,793.2 884.0,792.9 884.5,792.2 885.0,792.7 885.5,793.0 886.0,793.0 886.5,792.1 887.0,792.0 887.5,793.8 888.0,794.1 888.5,792.9 889.0,793.0 889.5,793.3 890.0,793.1 890.5,793.5 891.0,793.7 891.5,793.6 892.0,793.5 892.5,793.2 893.0,792.3 893.5,791.3 894.0,791.3 894.5,790.2 895.0,791.6 895.5,791.3 896.0,792.0 896.5,790.8 897.0,791.4 897.5,791.9 898.0,792.4 898.5,793.3 899.0,793.2 899.5,793.2 900.0,793.6 900.5,794.1 901.0,794.1 901.5,794.2 902.0,793.1 902.5,793.8 903.0,793.1 903.5,792.7 904.0,792.0 904.5,792.2 905.0,792.2 905.5,792.1 906.0,793.4 906.5,793.9 907.0,793.0 907.5,792.4 908.0,792.2 908.5,792.9 909.0,793.6 909.5,793.1 910.0,794.7 910.5,793.7 911.0,794.0 911.5,793.7 912.0,793.7 912.5,793.5 913.0,793.1 913.5,792.3 914.0,792.8 914.5,793.6 915.0,794.4 915.5,794.5 916.0,795.2 916.5,794.2 917.0,794.4 917.5,793.0 918.0,792.2 918.5,793.6 919.0,793.3 919.5,792.6 920.0,793.4 920.5,793.8 921.0,794.1 921.5,793.9 922.0,792.7 922.5,792.7 923.0,792.1 923.5,792.1 924.0,793.5 924.5,793.3 925.0,793.9 925.5,793.8 926.0,793.3 926.5,793.8 927.0,793.3 927.5,793.1 928.0,793.6 928.5,793.0 929.0,792.2 929.5,791.9 930.0,791.9 930.5,791.4 931.0,792.3 931.5,792.5 932.0,792.5 932.5,793.0 933.0,792.8 933.5,793.4 934.0,794.5 934.5,794.0 935.0,793.7 935.5,793.1 936.0,793.3 936.5,793.5 937.0,794.4 937.5,795.0 938.0,794.1 938.5,794.5 939.0,794.8 939.5,794.5 940.0,794.4 940.5,793.1 941.0,791.9 941.5,793.1 942.0,793.2 942.5,793.2 943.0,792.9 943.5,792.5 944.0,792.7 944.5,792.0 945.0,793.0 945.5,791.9 946.0,792.1 946.5,793.5 947.0,793.6 947.5,793.4 948.0,792.3 948.5,791.0 949.0,792.7 949.5,792.7 950.0,792.6 950.5,794.6 951.0,792.7 951.5,793.0 952.0,793.8 952.5,792.7 953.0,791.7 953.5,791.8 954.0,792.4 954.5,793.6 955.0,793.1 955.5,792.5 956.0,793.1 956.5,792.7 957.0,793.3 957.5,794.2 958.0,792.7 958.5,793.2 959.0,792.6 959.5,792.0 960.0,792.6 960.5,793.0 961.0,794.0 961.5,792.6 962.0,793.7 962.5,793.6 963.0,794.2 963.5,793.7 964.0,793.5 964.5,793.5 965.0,794.2 965.5,794.0 966.0,793.9 966.5,793.0 967.0,795.2 967.5,792.3 968.0,791.7 968.5,790.6 969.0,791.6 969.5,792.5 970.0,792.8 970.5,790.7 971.0,793.2 971.5,792.2 972.0,792.7 972.5,793.7 973.0,792.4 973.5,792.7 974.0,793.4 974.5,792.3 975.0,791.9 975.5,791.7 976.0,792.4 976.5,793.3 977.0,792.6 977.5,791.7 978.0,792.7 978.5,792.1 979.0,792.3 979.5,792.9 980.0,792.1 980.5,793.9 981.0,792.5 981.5,792.5 982.0,794.1 982.5,794.8 983.0,793.8 983.5,794.3 984.0,794.3 984.5,794.2 985.0,795.1 985.5,795.5 986.0,793.9 986.5,794.0 987.0,794.2 987.5,794.5 988.0,793.7 988.5,792.7 989.0,792.3 989.5,793.1 990.0,793.5 990.5,792.7 991.0,793.7 991.5,793.8 992.0,794.3 992.5,795.4 993.0,794.9 993.5,794.7 994.0,792.9 994.5,792.6 995.0,792.9 995.5,793.3 996.0,792.9 996.5,792.9 997.0,793.3 997.5,793.6 998.0,793.1 998.5,793.5 999.0,794.4 999.5,794.5 1000.0,794.6 1000.5,793.8 1001.0,794.3 1001.5,794.6 1002.0,795.5 1002.5,795.8 1003.0,795.6 1003.5,795.0 1004.0,793.8 1004.5,793.1 1005.0,793.3 1005.5,792.5 1006.0,792.9 1006.5,792.6 1007.0,793.7 1007.5,792.4 1008.0,792.4 1008.5,792.2 1009.0,794.9 1009.5,793.3 1010.0,793.3 1010.5,793.5 1011.0,793.9 1011.5,793.3 1012.0,791.9 1012.5,793.4 1013.0,794.7 1013.5,794.5 1014.0,792.3 1014.5,792.7 1015.0,792.6 1015.5,790.3 1016.0,793.2 1016.5,793.0 1017.0,793.9 1017.5,796.7 1018.0,795.0 1018.5,793.6 1019.0,793.0 1019.5,792.8 1020.0,792.8 1020.5,793.8 1021.0,792.9 1021.5,792.8 1022.0,792.9"/>
<polyline fill="none" stroke="#0000ff" stroke-width="2.3" stroke-linejoin="round" stroke-linecap="round" points="1022.0,792.9 1022.9,793.3 1023.1,1034.5"/>
<polyline fill="none" stroke="#008000" stroke-width="2.3" stroke-linejoin="round" stroke-linecap="round" points="118.9,1034.5 119.3,794.6 120.5,793.0 120.7,759.0 121.0,753.7 124.0,746.9 129.2,741.2"/>
<polyline fill="none" stroke="#008000" stroke-width="3.0" stroke-linejoin="round" stroke-linecap="round" points="129.2,741.2 129.7,740.0 130.2,738.5 130.7,737.3 131.2,736.3 131.7,736.5 132.2,736.1 132.7,734.7 133.2,734.7 133.7,732.9 134.2,734.4 134.7,737.0 135.2,734.9 135.7,734.2 136.2,734.0 136.7,733.3 137.2,733.0 137.7,731.9 138.2,731.7 138.7,731.2 139.2,731.3 139.7,731.0 140.2,730.2 140.7,729.6 141.2,730.2 141.7,729.8 142.2,729.7 142.7,728.6 143.2,728.9 143.7,728.2 144.2,728.7 144.7,728.1 145.2,727.7 145.7,729.2 146.2,727.8 146.7,727.1 147.2,727.4 147.7,726.3 148.2,726.0 148.7,726.0 149.2,725.3 149.7,724.9 150.2,725.0 150.7,725.2 151.2,725.4 151.7,726.2 152.2,725.7 152.7,726.5 153.2,725.0 153.7,724.6 154.2,723.6 154.7,723.3 155.2,721.9 155.7,720.4 156.2,719.6 156.7,720.4 157.2,718.7 157.7,718.2 158.2,717.3 158.7,718.4 159.2,717.6 159.7,716.9 160.2,716.3 160.7,717.2 161.2,716.6 161.7,716.0 162.2,715.9 162.7,716.6 163.2,716.0 163.7,716.6 164.2,716.8 164.7,716.9 165.2,716.8 165.7,716.8 166.2,717.0 166.7,717.4 167.2,716.9 167.7,716.7 168.2,717.4 168.7,717.0 169.2,716.9 169.7,716.6 170.2,716.5 170.7,716.1 171.2,714.5 171.7,713.3 172.2,714.1 172.7,713.4 173.2,713.2 173.7,712.7 174.2,711.8 174.7,710.5 175.2,710.8 175.7,710.6 176.2,710.2 176.7,710.5 177.2,710.1 177.7,709.5 178.2,709.8 178.7,708.8 179.2,708.0 179.7,707.2 180.2,705.8 180.7,703.2 181.2,705.4 181.7,705.2 182.2,705.4 182.7,706.1 183.2,704.8 183.7,705.1 184.2,706.1 184.7,705.3 185.2,705.0 185.7,704.4 186.2,703.9 186.7,706.0 187.2,704.2 187.7,704.4 188.2,704.8 188.7,704.4 189.2,704.5 189.7,704.1 190.2,705.1 190.7,704.9 191.2,704.2 191.7,704.0 192.2,703.0 192.7,701.7 193.2,702.1 193.7,701.2 194.2,701.0 194.7,699.7 195.2,698.5 195.7,698.8 196.2,698.7 196.7,697.7 197.2,697.7 197.7,696.9 198.2,696.9 198.7,697.1 199.2,695.8 199.7,695.9 200.2,694.9 200.7,694.2 201.2,694.0 201.7,695.4 202.2,695.1 202.7,695.1 203.2,694.3 203.7,694.5 204.2,694.1 204.7,693.1 205.2,692.9 205.7,694.2 206.2,693.8 206.7,692.7 207.2,692.7 207.7,693.2 208.2,691.7 208.7,691.8 209.2,692.3 209.7,691.6 210.2,691.8 210.7,690.9 211.2,690.7 211.7,690.8 212.2,690.9 212.7,690.9 213.2,692.0 213.7,692.4 214.2,693.4 214.7,690.8 215.2,691.5 215.7,691.1 216.2,690.8 216.7,691.0 217.2,690.5 217.7,690.1 218.2,690.3 218.7,689.0 219.2,689.0 219.7,689.1 220.2,689.5 220.7,690.5 221.2,689.6 221.7,689.0 222.2,689.7 222.7,689.2 223.2,688.3 223.7,686.2 224.2,686.1 224.7,687.2 225.2,687.0 225.7,686.6 226.2,686.4 226.7,686.7 227.2,688.0 227.7,688.4 228.2,687.2 228.7,687.6 229.2,687.7 229.7,687.6 230.2,687.6 230.7,687.2 231.2,686.2 231.7,685.4 232.2,685.3 232.7,685.9 233.2,685.3 233.7,686.0 234.2,686.0 234.7,686.0 235.2,685.5 235.7,684.6 236.2,683.6 236.7,683.7 237.2,682.6 237.7,681.6 238.2,681.8 238.7,680.6 239.2,681.8 239.7,681.4 240.2,679.6 240.7,680.8 241.2,682.0 241.7,681.4 242.2,681.0 242.7,679.7 243.2,680.0 243.7,681.1 244.2,680.9 244.7,680.4 245.2,679.4 245.7,679.4 246.2,679.6 246.7,680.3 247.2,679.4 247.7,678.2 248.2,678.3 248.7,678.6 249.2,678.6 249.7,678.3 250.2,678.4 250.7,678.4 251.2,679.3 251.7,680.1 252.2,680.7 252.7,681.0 253.2,680.0 253.7,679.7 254.2,680.4 254.7,679.1 255.2,678.9 255.7,678.6 256.2,678.9 256.7,678.3 257.2,678.5 257.7,678.2 258.2,678.4 258.7,676.7 259.2,676.7 259.7,677.3 260.2,678.8 260.7,677.3 261.2,677.2 261.7,676.7 262.2,676.9 262.7,675.8 263.2,676.5 263.7,676.4 264.2,676.6 264.7,676.4 265.2,675.5 265.7,675.6 266.2,675.7 266.7,675.1 267.2,673.6 267.7,673.5 268.2,673.5 268.7,674.5 269.2,674.0 269.7,673.7 270.2,673.6 270.7,673.8 271.2,673.9 271.7,673.2 272.2,674.4 272.7,674.3 273.2,674.7 273.7,673.8 274.2,673.3 274.7,673.3 275.2,673.9 275.7,671.9 276.2,671.8 276.7,673.7 277.2,674.4 277.7,675.5 278.2,675.3 278.7,675.4 279.2,674.6 279.7,674.5 280.2,673.0 280.7,671.8 281.2,672.0 281.7,671.6 282.2,671.5 282.7,673.2 283.2,673.0 283.7,673.4 284.2,673.4 284.7,674.7 285.2,675.7 285.7,676.1 286.2,675.0 286.7,674.8 287.2,674.3 287.7,673.9 288.2,673.5 288.7,673.2 289.2,672.5 289.7,673.1 290.2,672.7 290.7,673.3 291.2,674.0 291.7,674.2 292.2,674.4 292.7,673.8 293.2,675.8 293.7,674.5 294.2,674.4 294.7,673.8 295.2,673.6 295.7,672.7 296.2,672.6 296.7,671.8 297.2,670.9 297.7,671.4 298.2,670.9 298.7,670.8 299.2,670.9 299.7,671.0 300.2,671.2 300.7,671.4 301.2,671.2 301.7,671.0 302.2,671.1 302.7,670.7 303.2,670.9 303.7,671.6 304.2,671.7 304.7,671.8 305.2,671.9 305.7,671.7 306.2,670.6 306.7,668.8 307.2,669.0 307.7,669.2 308.2,668.9 308.7,669.5 309.2,669.6 309.7,670.2 310.2,671.0 310.7,671.1 311.2,670.8 311.7,670.5 312.2,670.5 312.7,670.5 313.2,670.8 313.7,671.0 314.2,670.5 314.7,670.5 315.2,670.2 315.7,670.6 316.2,669.6 316.7,670.9 317.2,671.4 317.7,671.7 318.2,672.2 318.7,671.2 319.2,671.0 319.7,671.6 320.2,671.0 320.7,670.5 321.2,670.6 321.7,670.4 322.2,669.1 322.7,669.5 323.2,668.9 323.7,669.7 324.2,670.2 324.7,670.6 325.2,670.0 325.7,671.1 326.2,670.4 326.7,670.4 327.2,670.4 327.7,670.1 328.2,670.1 328.7,670.4 329.2,670.1 329.7,670.4 330.2,670.8 330.7,671.0 331.2,670.6 331.7,670.1 332.2,670.4 332.7,669.9 333.2,670.2 333.7,669.4 334.2,669.4 334.7,667.3 335.2,669.6 335.7,668.6 336.2,668.8 336.7,669.1 337.2,668.9 337.7,668.7 338.2,668.8 338.7,669.0 339.2,669.7 339.7,669.4 340.2,669.5 340.7,668.5 341.2,669.1 341.7,669.7 342.2,669.7 342.7,669.3 343.2,669.4 343.7,669.8 344.2,670.3 344.7,670.6 345.2,670.3 345.7,669.7 346.2,669.7 346.7,669.9 347.2,669.2 347.7,669.4 348.2,668.6 348.7,668.3 349.2,668.8 349.7,667.8 350.2,667.4 350.7,668.2 351.2,668.0 351.7,668.9 352.2,668.4 352.7,668.6 353.2,667.9 353.7,667.9 354.2,668.7 354.7,668.7 355.2,668.4 355.7,668.8 356.2,669.5 356.7,668.8 357.2,669.9 357.7,668.4 358.2,667.8 358.7,667.4 359.2,669.2 359.7,668.9 360.2,668.1 360.7,668.1 361.2,667.4 361.7,668.0 362.2,667.9 362.7,667.9 363.2,667.4 363.7,667.1 364.2,666.8 364.7,666.8 365.2,666.9 365.7,667.6 366.2,665.5 366.7,668.2 367.2,667.2 367.7,666.6 368.2,666.9 368.7,667.0 369.2,667.5 369.7,669.0 370.2,668.9 370.7,668.4 371.2,667.3 371.7,669.4 372.2,668.8 372.7,667.8 373.2,666.9 373.7,667.7 374.2,667.0 374.7,665.6 375.2,667.1 375.7,667.4 376.2,667.8 376.7,667.2 377.2,668.7 377.7,667.8 378.2,667.3 378.7,666.5 379.2,666.6 379.7,667.0 380.2,666.9 380.7,666.7 381.2,666.0 381.7,666.4 382.2,666.6 382.7,666.5 383.2,665.6 383.7,665.8 384.2,666.5 384.7,667.4 385.2,666.8 385.7,666.2 386.2,665.8 386.7,665.8 387.2,665.4 387.7,666.1 388.2,666.4 388.7,666.4 389.2,667.0 389.7,669.0 390.2,668.9 390.7,668.7 391.2,667.7 391.7,667.4 392.2,667.2 392.7,666.2 393.2,665.2 393.7,664.4 394.2,666.7 394.7,666.1 395.2,665.8 395.7,664.8 396.2,665.5 396.7,665.2 397.2,666.5 397.7,666.4 398.2,667.0 398.7,666.7 399.2,666.8 399.7,667.2 400.2,666.6 400.7,666.7 401.2,666.7 401.7,666.6 402.2,666.6 402.7,665.4 403.2,665.0 403.7,664.7 404.2,664.7 404.7,663.6 405.2,663.2 405.7,664.1 406.2,665.5 406.7,665.2 407.2,665.4 407.7,664.4 408.2,665.4 408.7,664.8 409.2,664.5 409.7,664.5 410.2,665.1 410.7,665.6 411.2,665.7 411.7,665.6 412.2,665.8 412.7,665.1 413.2,665.2 413.7,664.1 414.2,663.7 414.7,663.7 415.2,663.6 415.7,664.2 416.2,664.9 416.7,665.0 417.2,665.6 417.7,665.6 418.2,665.9 418.7,666.2 419.2,666.1 419.7,666.0 420.2,666.0 420.7,665.5 421.2,665.9 421.7,665.4 422.2,665.3 422.7,666.1 423.2,665.9 423.7,665.6 424.2,665.8 424.7,665.5 425.2,664.9 425.7,664.8 426.2,664.4 426.7,664.3 427.2,664.5 427.7,664.8 428.2,664.5 428.7,665.1 429.2,665.1 429.7,665.1 430.2,666.9 430.7,667.0 431.2,666.6 431.7,666.1 432.2,665.1 432.7,666.4 433.2,666.1 433.7,665.3 434.2,664.2 434.7,664.4 435.2,664.8 435.7,665.8 436.2,666.2 436.7,667.5 437.2,667.5 437.7,667.7 438.2,666.9 438.7,666.9 439.2,666.3 439.7,664.7 440.2,665.3 440.7,665.8 441.2,665.2 441.7,665.5 442.2,666.0 442.7,666.3 443.2,666.1 443.7,665.8 444.2,665.8 444.7,665.1 445.2,665.5 445.7,665.5 446.2,665.6 446.7,665.6 447.2,665.0 447.7,664.8 448.2,664.2 448.7,663.9 449.2,665.3 449.7,665.2 450.2,665.3 450.7,666.0 451.2,664.6 451.7,665.2 452.2,664.8 452.7,665.2 453.2,665.3 453.7,665.5 454.2,664.8 454.7,664.3 455.2,664.6 455.7,664.8 456.2,664.0 456.7,663.4 457.2,662.9 457.7,663.4 458.2,663.6 458.7,663.8 459.2,665.3 459.7,663.5 460.2,663.8 460.7,665.1 461.2,665.4 461.7,665.3 462.2,665.7 462.7,665.4 463.2,664.4 463.7,664.1 464.2,663.6 464.7,664.5 465.2,664.4 465.7,664.1 466.2,664.0 466.7,664.2 467.2,663.7 467.7,663.1 468.2,660.6 468.7,663.0 469.2,663.6 469.7,664.2 470.2,664.7 470.7,664.1 471.2,663.9 471.7,664.3 472.2,664.6 472.7,664.8 473.2,664.3 473.7,664.8 474.2,665.1 474.7,665.2 475.2,664.5 475.7,665.3 476.2,665.7 476.7,665.7 477.2,664.2 477.7,664.0 478.2,664.3 478.7,663.5 479.2,662.9 479.7,663.1 480.2,664.7 480.7,662.8 481.2,665.9 481.7,665.4 482.2,663.6 482.7,665.4 483.2,665.2 483.7,665.4 484.2,665.3 484.7,664.9 485.2,665.0 485.7,665.5 486.2,665.4 486.7,665.6 487.2,664.4 487.7,663.9 488.2,665.2 488.7,666.0 489.2,665.3 489.7,665.6 490.2,665.2 490.7,664.2 491.2,664.3 491.7,664.5 492.2,665.3 492.7,665.4 493.2,665.7 493.7,665.8 494.2,665.2 494.7,665.4 495.2,665.1 495.7,663.7 496.2,664.0 496.7,664.3 497.2,663.6 497.7,663.2 498.2,663.5 498.7,665.7 499.2,664.3 499.7,664.8 500.2,664.5 500.7,664.8 501.2,664.9 501.7,665.0 502.2,664.3 502.7,665.0 503.2,664.2 503.7,664.2 504.2,664.7 504.7,664.1 505.2,663.4 505.7,664.0 506.2,663.5 506.7,664.7 507.2,664.6 507.7,664.7 508.2,663.7 508.7,664.1 509.2,663.9 509.7,664.3 510.2,666.8 510.7,663.9 511.2,662.3 511.7,661.2 512.2,661.1 512.7,660.6 513.2,659.1 513.7,661.7 514.2,661.6 514.7,661.9 515.2,662.9 515.7,663.8 516.2,664.0 516.7,664.7 517.2,664.8 517.7,663.1 518.2,664.6 518.7,664.2 519.2,664.2 519.7,663.7 520.2,664.0 520.7,664.2 521.2,664.7 521.7,664.5 522.2,664.4 522.7,663.4 523.2,663.0 523.7,662.9 524.2,663.5 524.7,663.2 525.2,663.7 525.7,664.0 526.2,664.2 526.7,664.9 527.2,665.0 527.7,664.1 528.2,664.7 528.7,663.0 529.2,662.6 529.7,662.8 530.2,663.1 530.7,663.3 531.2,663.2 531.7,663.2 532.2,662.9 532.7,662.2 533.2,661.7 533.7,661.7 534.2,660.7 534.7,660.7 535.2,661.0 535.7,661.7 536.2,661.3 536.7,661.0 537.2,661.2 537.7,662.0 538.2,662.3 538.7,661.8 539.2,662.2 539.7,662.1 540.2,661.4 540.7,661.0 541.2,661.5 541.7,662.0 542.2,662.0 542.7,662.0 543.2,660.4 543.7,660.7 544.2,661.3 544.7,662.1 545.2,663.8 545.7,663.3 546.2,663.4 546.7,662.7 547.2,662.8 547.7,662.8 548.2,662.5 548.7,663.9 549.2,664.7 549.7,663.2 550.2,663.4 550.7,663.0 551.2,662.7 551.7,662.3 552.2,662.1 552.7,661.9 553.2,662.6 553.7,660.8 554.2,663.0 554.7,662.9 555.2,662.8 555.7,663.2 556.2,662.7 556.7,662.0 557.2,661.5 557.7,661.7 558.2,663.2 558.7,663.6 559.2,664.5 559.7,665.1 560.2,664.5 560.7,664.2 561.2,663.8 561.7,663.2 562.2,662.9 562.7,662.2 563.2,661.0 563.7,660.8 564.2,660.9 564.7,660.4 565.2,660.1 565.7,660.1 566.2,660.5 566.7,661.5 567.2,661.9"/>
<polyline fill="none" stroke="#008000" stroke-width="2.3" stroke-linejoin="round" stroke-linecap="round" points="567.2,661.9 568.0,661.5 568.5,900.0 569.5,1010.0 571.0,1020.0 572.5,1020.0 574.0,980.0 575.3,870.0 576.3,750.0 577.4,668.0 578.0,663.6"/>
<polyline fill="none" stroke="#008000" stroke-width="3.0" stroke-linejoin="round" stroke-linecap="round" points="578.0,663.6 578.5,663.1 579.0,662.5 579.5,661.8 580.0,661.7 580.5,662.3 581.0,661.7 581.5,661.3 582.0,661.3 582.5,661.0 583.0,661.4 583.5,662.0 584.0,662.6 584.5,663.1 585.0,663.6 585.5,663.9 586.0,663.3 586.5,664.3 587.0,663.6 587.5,664.2 588.0,664.2 588.5,664.2 589.0,663.7 589.5,664.3 590.0,664.9 590.5,663.8 591.0,663.8 591.5,664.1 592.0,664.3 592.5,664.3 593.0,663.3 593.5,664.3 594.0,664.6 594.5,664.6 595.0,663.6 595.5,663.2 596.0,663.6 596.5,663.8 597.0,663.6 597.5,663.0 598.0,663.0 598.5,663.8 599.0,663.8 599.5,664.7 600.0,665.1 600.5,665.4 601.0,665.1 601.5,664.7 602.0,663.5 602.5,664.6 603.0,664.3 603.5,663.2 604.0,664.3 604.5,664.9 605.0,664.9 605.5,665.2 606.0,666.1 606.5,664.4 607.0,665.2 607.5,664.9 608.0,665.6 608.5,666.5 609.0,666.6 609.5,666.7 610.0,666.4 610.5,665.9 611.0,666.3 611.5,665.5 612.0,664.9 612.5,663.7 613.0,663.9 613.5,662.8 614.0,663.2 614.5,663.7 615.0,664.8 615.5,664.3 616.0,665.1 616.5,664.2 617.0,665.1 617.5,665.3 618.0,664.1 618.5,662.4 619.0,661.8 619.5,661.9 620.0,664.0 620.5,664.6 621.0,663.9 621.5,665.4 622.0,665.8 622.5,665.7 623.0,665.8 623.5,665.9 624.0,665.1 624.5,664.3 625.0,664.3 625.5,664.9 626.0,665.6 626.5,665.6 627.0,664.0 627.5,664.1 628.0,664.6 628.5,664.4 629.0,664.2 629.5,664.3 630.0,663.3 630.5,664.1 631.0,664.7 631.5,665.5 632.0,665.9 632.5,666.5 633.0,666.6 633.5,666.2 634.0,666.2 634.5,665.6 635.0,665.6 635.5,664.9 636.0,664.5 636.5,663.3 637.0,663.8 637.5,664.5 638.0,664.8 638.5,664.7 639.0,664.9 639.5,663.9 640.0,665.5 640.5,664.3 641.0,663.2 641.5,663.0 642.0,662.8 642.5,663.5 643.0,665.7 643.5,663.0 644.0,663.8 644.5,662.6 645.0,664.2 645.5,664.3 646.0,664.5 646.5,663.6 647.0,664.7 647.5,664.9 648.0,664.8 648.5,665.0 649.0,665.2 649.5,664.7 650.0,664.9 650.5,665.6 651.0,666.4 651.5,666.9 652.0,664.9 652.5,666.0 653.0,664.8 653.5,665.1 654.0,664.4 654.5,663.2 655.0,662.7 655.5,663.1 656.0,663.9 656.5,664.6 657.0,664.7 657.5,665.6 658.0,666.3 658.5,665.5 659.0,666.3 659.5,665.7 660.0,665.6 660.5,664.9 661.0,664.8 661.5,664.4 662.0,664.5 662.5,664.4 663.0,664.7 663.5,663.4 664.0,663.8 664.5,663.1 665.0,662.8 665.5,663.3 666.0,663.8 666.5,663.7 667.0,664.1 667.5,663.9 668.0,663.2 668.5,663.9 669.0,665.1 669.5,664.7 670.0,664.8 670.5,665.0 671.0,665.7 671.5,665.1 672.0,663.7 672.5,663.6 673.0,663.1 673.5,663.2 674.0,662.8 674.5,662.5 675.0,662.5 675.5,662.3 676.0,662.9 676.5,663.5 677.0,663.8 677.5,663.2 678.0,664.1 678.5,664.2 679.0,664.4 679.5,665.2 680.0,664.9 680.5,665.2 681.0,665.7 681.5,665.0 682.0,664.7 682.5,664.2 683.0,663.9 683.5,663.8 684.0,663.8 684.5,664.7 685.0,664.9 685.5,664.6 686.0,664.9 686.5,663.9 687.0,665.1 687.5,664.9 688.0,663.8 688.5,663.4 689.0,663.6 689.5,664.2 690.0,665.1 690.5,664.3 691.0,664.1 691.5,665.9 692.0,665.9 692.5,666.3 693.0,665.4 693.5,665.8 694.0,665.5 694.5,665.0 695.0,664.4 695.5,664.4 696.0,663.9 696.5,664.8 697.0,663.5 697.5,663.3 698.0,662.9 698.5,663.1 699.0,663.3 699.5,663.3 700.0,662.6 700.5,663.2 701.0,662.9 701.5,663.8 702.0,664.0 702.5,664.0 703.0,663.8 703.5,664.0 704.0,664.0 704.5,664.5 705.0,664.5 705.5,664.3 706.0,666.1 706.5,662.8 707.0,663.2 707.5,663.7 708.0,664.2 708.5,663.2 709.0,663.2 709.5,663.0 710.0,663.8 710.5,665.6 711.0,663.2 711.5,663.6 712.0,663.2 712.5,663.1 713.0,664.1 713.5,663.7 714.0,663.7 714.5,663.4 715.0,663.5 715.5,663.1 716.0,662.4 716.5,661.7 717.0,660.8 717.5,660.6 718.0,660.1 718.5,658.0 719.0,660.2 719.5,660.6 720.0,660.6 720.5,661.0 721.0,661.6 721.5,661.9 722.0,661.9 722.5,662.0 723.0,661.3 723.5,661.2 724.0,661.8 724.5,661.7 725.0,662.0 725.5,662.7 726.0,662.1 726.5,662.2 727.0,662.3 727.5,661.7 728.0,661.7 728.5,662.0 729.0,661.4 729.5,661.0 730.0,661.1 730.5,661.4 731.0,661.7 731.5,661.8 732.0,661.8 732.5,662.0 733.0,662.5 733.5,661.7 734.0,659.2 734.5,661.3 735.0,661.8 735.5,661.7 736.0,661.2 736.5,661.8 737.0,661.2 737.5,660.8 738.0,661.4 738.5,662.0 739.0,662.2 739.5,663.0 740.0,662.8 740.5,662.8 741.0,663.3 741.5,662.6 742.0,662.8 742.5,662.1 743.0,662.2 743.5,662.1 744.0,662.0 744.5,662.0 745.0,662.1 745.5,661.9 746.0,662.1 746.5,663.1 747.0,662.7 747.5,662.7 748.0,662.5 748.5,663.3 749.0,663.2 749.5,662.9 750.0,663.1 750.5,662.8 751.0,661.5 751.5,661.7 752.0,662.5 752.5,661.3 753.0,661.6 753.5,662.0 754.0,662.6 754.5,665.4 755.0,663.4 755.5,663.6 756.0,663.8 756.5,663.6 757.0,664.1 757.5,665.9 758.0,667.9 758.5,665.8 759.0,665.5 759.5,666.1 760.0,664.4 760.5,664.2 761.0,663.0 761.5,662.4 762.0,663.4 762.5,664.1 763.0,663.5 763.5,664.2 764.0,664.3 764.5,663.7 765.0,663.7 765.5,663.3 766.0,662.0 766.5,662.5 767.0,662.2 767.5,662.7 768.0,662.7 768.5,663.0 769.0,663.5 769.5,664.3 770.0,664.3 770.5,664.2 771.0,664.5 771.5,664.3 772.0,663.2 772.5,663.8 773.0,663.2 773.5,663.6 774.0,664.7 774.5,665.3 775.0,664.7 775.5,664.3 776.0,663.4 776.5,666.2 777.0,663.2 777.5,664.5 778.0,664.1 778.5,663.8 779.0,664.2 779.5,664.1 780.0,663.1 780.5,664.2 781.0,664.2 781.5,661.5 782.0,663.4 782.5,663.9 783.0,663.9 783.5,663.1 784.0,663.6 784.5,664.1 785.0,663.5 785.5,663.2 786.0,664.5 786.5,664.4 787.0,664.2 787.5,663.2 788.0,662.6 788.5,662.8 789.0,663.3 789.5,663.3 790.0,662.6 790.5,663.8 791.0,662.9 791.5,662.9 792.0,662.9 792.5,662.1 793.0,661.8 793.5,661.4 794.0,661.2 794.5,661.0 795.0,661.9 795.5,661.5 796.0,662.8 796.5,662.0 797.0,661.0 797.5,661.5 798.0,662.0 798.5,661.6 799.0,661.1 799.5,660.6 800.0,661.3 800.5,661.5 801.0,662.0 801.5,662.1 802.0,661.8 802.5,662.2 803.0,662.9 803.5,662.6 804.0,661.8 804.5,662.3 805.0,662.6 805.5,662.4 806.0,662.5 806.5,661.7 807.0,662.5 807.5,663.2 808.0,662.1 808.5,660.9 809.0,662.0 809.5,660.8 810.0,662.0 810.5,661.8 811.0,661.4 811.5,662.2 812.0,662.3 812.5,662.1 813.0,663.9 813.5,664.0 814.0,663.3 814.5,663.5 815.0,663.3 815.5,662.4 816.0,664.7 816.5,662.9 817.0,661.6 817.5,661.7 818.0,661.1 818.5,661.2 819.0,661.4 819.5,661.0 820.0,660.8 820.5,661.3 821.0,661.6 821.5,662.1 822.0,662.5 822.5,662.5 823.0,663.0 823.5,663.2 824.0,663.9 824.5,664.3 825.0,663.7 825.5,663.1 826.0,663.0 826.5,663.0 827.0,662.9 827.5,663.7 828.0,663.4 828.5,663.6 829.0,663.4 829.5,663.0 830.0,662.7 830.5,663.2 831.0,662.9 831.5,663.0 832.0,663.0 832.5,663.6 833.0,664.1 833.5,663.9 834.0,663.5 834.5,661.8 835.0,664.2 835.5,664.0 836.0,663.7 836.5,662.9 837.0,665.2 837.5,662.9 838.0,663.9 838.5,663.5 839.0,663.2 839.5,662.0 840.0,662.4 840.5,665.9 841.0,664.2 841.5,664.2 842.0,664.3 842.5,664.8 843.0,664.3 843.5,664.3 844.0,664.1 844.5,662.7 845.0,662.9 845.5,662.9 846.0,663.8 846.5,663.6 847.0,663.5 847.5,663.8 848.0,662.4 848.5,662.5 849.0,662.4 849.5,662.0 850.0,661.6 850.5,661.7 851.0,664.5 851.5,662.9 852.0,662.3 852.5,662.3 853.0,662.3 853.5,662.2 854.0,662.0 854.5,661.7 855.0,661.2 855.5,660.5 856.0,659.8 856.5,659.5 857.0,659.5 857.5,659.2 858.0,658.8 858.5,660.1 859.0,661.0 859.5,660.4 860.0,660.1 860.5,660.9 861.0,662.5 861.5,662.0 862.0,662.8 862.5,662.8 863.0,662.3 863.5,663.4 864.0,662.6 864.5,662.4 865.0,663.3 865.5,663.6 866.0,663.5 866.5,664.2 867.0,663.7 867.5,663.8 868.0,663.5 868.5,661.5 869.0,659.1 869.5,661.7 870.0,662.0 870.5,661.9 871.0,662.1 871.5,661.3 872.0,662.2 872.5,662.0 873.0,661.8 873.5,661.8 874.0,660.8 874.5,661.3 875.0,661.6 875.5,662.3 876.0,662.6 876.5,662.6 877.0,662.4 877.5,662.4 878.0,662.1 878.5,663.1 879.0,663.2 879.5,663.0 880.0,663.1 880.5,663.5 881.0,663.0 881.5,662.2 882.0,662.9 882.5,662.7 883.0,662.4 883.5,661.9 884.0,661.7 884.5,662.8 885.0,663.2 885.5,663.8 886.0,663.6 886.5,662.0 887.0,662.3 887.5,662.0 888.0,662.0 888.5,662.2 889.0,662.2 889.5,662.7 890.0,663.0 890.5,661.9 891.0,662.3 891.5,662.9 892.0,662.6 892.5,662.7 893.0,663.7 893.5,664.4 894.0,664.3 894.5,665.3 895.0,664.6 895.5,663.8 896.0,664.7 896.5,664.9 897.0,663.2 897.5,663.9 898.0,662.5 898.5,662.8 899.0,661.8 899.5,661.4 900.0,661.3 900.5,663.8 901.0,663.5 901.5,663.3 902.0,662.3 902.5,662.3 903.0,662.4 903.5,663.0 904.0,662.8 904.5,661.6 905.0,661.7 905.5,661.6 906.0,661.7 906.5,661.4 907.0,661.3 907.5,661.3 908.0,662.1 908.5,662.0 909.0,661.3 909.5,660.9 910.0,661.9 910.5,662.0 911.0,662.4 911.5,662.5 912.0,662.8 912.5,662.7 913.0,663.0 913.5,662.5 914.0,662.7 914.5,662.8 915.0,661.9 915.5,662.0 916.0,661.8 916.5,662.7 917.0,662.6 917.5,662.0 918.0,661.7 918.5,662.0 919.0,660.1 919.5,660.2 920.0,662.3 920.5,663.3 921.0,663.1 921.5,661.5 922.0,661.4 922.5,661.5 923.0,662.7 923.5,662.1 924.0,662.5 924.5,663.1 925.0,663.5 925.5,663.5 926.0,663.7 926.5,661.9 927.0,663.5 927.5,663.2 928.0,662.8 928.5,661.9 929.0,661.7 929.5,662.1 930.0,662.5 930.5,662.7 931.0,662.0 931.5,662.1 932.0,662.0 932.5,662.6 933.0,662.2 933.5,662.7 934.0,662.9 934.5,663.0 935.0,662.2 935.5,661.9 936.0,661.5 936.5,662.4 937.0,662.6 937.5,662.5 938.0,663.0 938.5,662.7 939.0,662.4 939.5,663.7 940.0,661.7 940.5,661.6 941.0,661.6 941.5,661.4 942.0,661.8 942.5,662.0 943.0,662.9 943.5,662.4 944.0,663.5 944.5,663.6 945.0,663.1 945.5,662.9 946.0,663.1 946.5,663.0 947.0,662.6 947.5,662.5 948.0,661.4 948.5,661.9 949.0,664.7 949.5,664.0 950.0,662.6 950.5,663.0 951.0,663.7 951.5,664.6 952.0,664.7 952.5,664.0 953.0,663.2 953.5,663.6 954.0,663.5 954.5,663.2 955.0,662.7 955.5,663.6 956.0,661.5 956.5,663.4 957.0,663.6 957.5,662.9 958.0,662.5 958.5,662.5 959.0,662.0 959.5,662.0 960.0,661.4 960.5,660.4 961.0,662.5 961.5,662.4 962.0,661.7 962.5,661.6 963.0,661.0 963.5,661.6 964.0,661.7 964.5,662.1 965.0,662.1 965.5,662.7 966.0,663.4 966.5,662.9 967.0,660.4 967.5,662.0 968.0,661.9 968.5,662.3 969.0,662.3 969.5,661.8 970.0,663.0 970.5,662.2 971.0,662.7 971.5,663.3 972.0,662.9 972.5,662.9 973.0,663.3 973.5,663.5 974.0,663.3 974.5,662.8 975.0,663.0 975.5,664.1 976.0,664.4 976.5,663.8 977.0,664.3 977.5,665.3 978.0,664.5 978.5,664.0 979.0,664.4 979.5,665.4 980.0,665.7 980.5,663.8 981.0,663.4 981.5,663.1 982.0,662.7 982.5,662.4 983.0,662.9 983.5,663.5 984.0,662.7 984.5,662.8 985.0,663.2 985.5,663.9 986.0,664.4 986.5,664.9 987.0,664.3 987.5,664.0 988.0,663.8 988.5,663.8 989.0,664.1 989.5,664.5 990.0,664.6 990.5,662.8 991.0,662.6 991.5,662.4 992.0,665.2 992.5,662.9 993.0,664.0 993.5,662.2 994.0,664.0 994.5,663.7 995.0,663.5 995.5,663.1 996.0,662.8 996.5,664.5 997.0,665.5 997.5,664.7 998.0,665.5 998.5,665.4 999.0,664.3 999.5,665.3 1000.0,664.1 1000.5,663.4 1001.0,663.1 1001.5,664.4 1002.0,666.1 1002.5,666.1 1003.0,666.2 1003.5,666.1 1004.0,665.9 1004.5,665.9 1005.0,665.6 1005.5,665.4 1006.0,666.0 1006.5,667.1 1007.0,666.6 1007.5,665.8 1008.0,666.2 1008.5,666.4 1009.0,666.2 1009.5,666.0 1010.0,665.5 1010.5,665.2 1011.0,666.2 1011.5,665.8 1012.0,665.5 1012.5,665.4 1013.0,665.0 1013.5,664.1 1014.0,663.9 1014.5,664.5 1015.0,666.4 1015.5,663.0 1016.0,662.7 1016.5,662.0 1017.0,662.2 1017.5,661.9 1018.0,661.6 1018.5,661.5 1019.0,662.2 1019.5,661.8 1020.0,661.7 1020.5,661.1 1021.0,660.7 1021.5,660.4 1022.0,660.9 1022.5,660.4 1023.0,661.2 1023.5,661.4 1024.0,661.6"/>
<polyline fill="none" stroke="#008000" stroke-width="2.3" stroke-linejoin="round" stroke-linecap="round" points="1024.0,661.6 1024.6,661.2 1024.9,1034.5"/>
</svg>
</body></html>
